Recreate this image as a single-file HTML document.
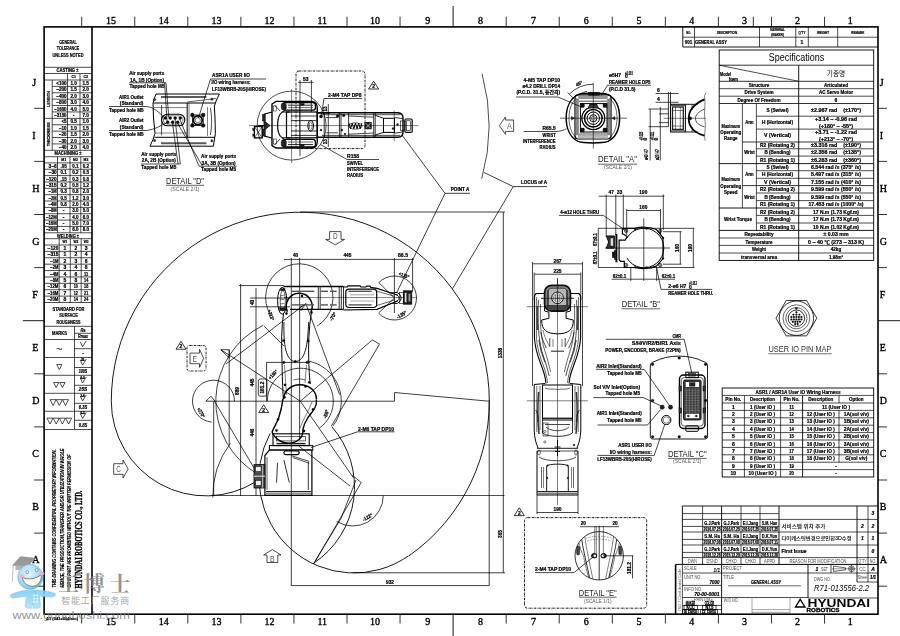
<!DOCTYPE html>
<html lang="en"><head><meta charset="utf-8"><title>General Assy Drawing R71-013556-2.2</title>
<style>html,body{margin:0;padding:0;background:#fff}svg{display:block}text{white-space:pre}</style></head>
<body><svg width="900" height="636" viewBox="0 0 900 636" stroke-linecap="butt">
<rect x="0" y="0" width="900" height="636" fill="#fff"/>
<g style="filter:grayscale(1)">
<rect x="44.1" y="26.9" width="833.9" height="587.3" rx="0" fill="none" stroke="#000" stroke-width="1.6"/>
<line x1="92" y1="26.9" x2="92" y2="614.2" stroke="#000" stroke-width="1.6"/>
<line x1="81.7" y1="16.7" x2="81.7" y2="26.9" stroke="#000" stroke-width="0.8"/>
<line x1="81.7" y1="614.2" x2="81.7" y2="623.5" stroke="#000" stroke-width="0.8"/>
<line x1="134.76" y1="16.7" x2="134.76" y2="26.9" stroke="#000" stroke-width="0.8"/>
<line x1="134.76" y1="614.2" x2="134.76" y2="623.5" stroke="#000" stroke-width="0.8"/>
<line x1="187.82" y1="16.7" x2="187.82" y2="26.9" stroke="#000" stroke-width="0.8"/>
<line x1="187.82" y1="614.2" x2="187.82" y2="623.5" stroke="#000" stroke-width="0.8"/>
<line x1="240.88" y1="16.7" x2="240.88" y2="26.9" stroke="#000" stroke-width="0.8"/>
<line x1="240.88" y1="614.2" x2="240.88" y2="623.5" stroke="#000" stroke-width="0.8"/>
<line x1="293.94" y1="16.7" x2="293.94" y2="26.9" stroke="#000" stroke-width="0.8"/>
<line x1="293.94" y1="614.2" x2="293.94" y2="623.5" stroke="#000" stroke-width="0.8"/>
<line x1="347" y1="16.7" x2="347" y2="26.9" stroke="#000" stroke-width="0.8"/>
<line x1="347" y1="614.2" x2="347" y2="623.5" stroke="#000" stroke-width="0.8"/>
<line x1="400.06" y1="16.7" x2="400.06" y2="26.9" stroke="#000" stroke-width="0.8"/>
<line x1="400.06" y1="614.2" x2="400.06" y2="623.5" stroke="#000" stroke-width="0.8"/>
<line x1="453.12" y1="6" x2="453.12" y2="26.9" stroke="#000" stroke-width="0.9"/>
<line x1="453.12" y1="614.2" x2="453.12" y2="636" stroke="#000" stroke-width="0.9"/>
<line x1="506.18" y1="16.7" x2="506.18" y2="26.9" stroke="#000" stroke-width="0.8"/>
<line x1="506.18" y1="614.2" x2="506.18" y2="623.5" stroke="#000" stroke-width="0.8"/>
<line x1="559.24" y1="16.7" x2="559.24" y2="26.9" stroke="#000" stroke-width="0.8"/>
<line x1="559.24" y1="614.2" x2="559.24" y2="623.5" stroke="#000" stroke-width="0.8"/>
<line x1="612.3" y1="16.7" x2="612.3" y2="26.9" stroke="#000" stroke-width="0.8"/>
<line x1="612.3" y1="614.2" x2="612.3" y2="623.5" stroke="#000" stroke-width="0.8"/>
<line x1="665.36" y1="16.7" x2="665.36" y2="26.9" stroke="#000" stroke-width="0.8"/>
<line x1="665.36" y1="614.2" x2="665.36" y2="623.5" stroke="#000" stroke-width="0.8"/>
<line x1="718.42" y1="16.7" x2="718.42" y2="26.9" stroke="#000" stroke-width="0.8"/>
<line x1="718.42" y1="614.2" x2="718.42" y2="623.5" stroke="#000" stroke-width="0.8"/>
<line x1="771.48" y1="16.7" x2="771.48" y2="26.9" stroke="#000" stroke-width="0.8"/>
<line x1="771.48" y1="614.2" x2="771.48" y2="623.5" stroke="#000" stroke-width="0.8"/>
<line x1="824.54" y1="16.7" x2="824.54" y2="26.9" stroke="#000" stroke-width="0.8"/>
<line x1="824.54" y1="614.2" x2="824.54" y2="623.5" stroke="#000" stroke-width="0.8"/>
<line x1="753.3" y1="16.7" x2="753.3" y2="26.9" stroke="#000" stroke-width="0.8"/>
<text x="111" y="24.2" font-size="10" text-anchor="middle" fill="#000" font-family="&quot;Liberation Serif&quot;, serif" stroke="#000" stroke-width="0.35">15</text>
<text x="111" y="625.2" font-size="10" text-anchor="middle" fill="#000" font-family="&quot;Liberation Serif&quot;, serif" stroke="#000" stroke-width="0.35">15</text>
<text x="163.8" y="24.2" font-size="10" text-anchor="middle" fill="#000" font-family="&quot;Liberation Serif&quot;, serif" stroke="#000" stroke-width="0.35">14</text>
<text x="163.8" y="625.2" font-size="10" text-anchor="middle" fill="#000" font-family="&quot;Liberation Serif&quot;, serif" stroke="#000" stroke-width="0.35">14</text>
<text x="216.6" y="24.2" font-size="10" text-anchor="middle" fill="#000" font-family="&quot;Liberation Serif&quot;, serif" stroke="#000" stroke-width="0.35">13</text>
<text x="216.6" y="625.2" font-size="10" text-anchor="middle" fill="#000" font-family="&quot;Liberation Serif&quot;, serif" stroke="#000" stroke-width="0.35">13</text>
<text x="269.4" y="24.2" font-size="10" text-anchor="middle" fill="#000" font-family="&quot;Liberation Serif&quot;, serif" stroke="#000" stroke-width="0.35">12</text>
<text x="269.4" y="625.2" font-size="10" text-anchor="middle" fill="#000" font-family="&quot;Liberation Serif&quot;, serif" stroke="#000" stroke-width="0.35">12</text>
<text x="322.2" y="24.2" font-size="10" text-anchor="middle" fill="#000" font-family="&quot;Liberation Serif&quot;, serif" stroke="#000" stroke-width="0.35">11</text>
<text x="322.2" y="625.2" font-size="10" text-anchor="middle" fill="#000" font-family="&quot;Liberation Serif&quot;, serif" stroke="#000" stroke-width="0.35">11</text>
<text x="375" y="24.2" font-size="10" text-anchor="middle" fill="#000" font-family="&quot;Liberation Serif&quot;, serif" stroke="#000" stroke-width="0.35">10</text>
<text x="375" y="625.2" font-size="10" text-anchor="middle" fill="#000" font-family="&quot;Liberation Serif&quot;, serif" stroke="#000" stroke-width="0.35">10</text>
<text x="427.8" y="24.2" font-size="10" text-anchor="middle" fill="#000" font-family="&quot;Liberation Serif&quot;, serif" stroke="#000" stroke-width="0.35">9</text>
<text x="427.8" y="625.2" font-size="10" text-anchor="middle" fill="#000" font-family="&quot;Liberation Serif&quot;, serif" stroke="#000" stroke-width="0.35">9</text>
<text x="480.6" y="24.2" font-size="10" text-anchor="middle" fill="#000" font-family="&quot;Liberation Serif&quot;, serif" stroke="#000" stroke-width="0.35">8</text>
<text x="480.6" y="625.2" font-size="10" text-anchor="middle" fill="#000" font-family="&quot;Liberation Serif&quot;, serif" stroke="#000" stroke-width="0.35">8</text>
<text x="533.4" y="24.2" font-size="10" text-anchor="middle" fill="#000" font-family="&quot;Liberation Serif&quot;, serif" stroke="#000" stroke-width="0.35">7</text>
<text x="533.4" y="625.2" font-size="10" text-anchor="middle" fill="#000" font-family="&quot;Liberation Serif&quot;, serif" stroke="#000" stroke-width="0.35">7</text>
<text x="586.2" y="24.2" font-size="10" text-anchor="middle" fill="#000" font-family="&quot;Liberation Serif&quot;, serif" stroke="#000" stroke-width="0.35">6</text>
<text x="586.2" y="625.2" font-size="10" text-anchor="middle" fill="#000" font-family="&quot;Liberation Serif&quot;, serif" stroke="#000" stroke-width="0.35">6</text>
<text x="639" y="24.2" font-size="10" text-anchor="middle" fill="#000" font-family="&quot;Liberation Serif&quot;, serif" stroke="#000" stroke-width="0.35">5</text>
<text x="639" y="625.2" font-size="10" text-anchor="middle" fill="#000" font-family="&quot;Liberation Serif&quot;, serif" stroke="#000" stroke-width="0.35">5</text>
<text x="691.8" y="24.2" font-size="10" text-anchor="middle" fill="#000" font-family="&quot;Liberation Serif&quot;, serif" stroke="#000" stroke-width="0.35">4</text>
<text x="691.8" y="625.2" font-size="10" text-anchor="middle" fill="#000" font-family="&quot;Liberation Serif&quot;, serif" stroke="#000" stroke-width="0.35">4</text>
<text x="744.6" y="24.2" font-size="10" text-anchor="middle" fill="#000" font-family="&quot;Liberation Serif&quot;, serif" stroke="#000" stroke-width="0.35">3</text>
<text x="744.6" y="625.2" font-size="10" text-anchor="middle" fill="#000" font-family="&quot;Liberation Serif&quot;, serif" stroke="#000" stroke-width="0.35">3</text>
<text x="797.4" y="24.2" font-size="10" text-anchor="middle" fill="#000" font-family="&quot;Liberation Serif&quot;, serif" stroke="#000" stroke-width="0.35">2</text>
<text x="797.4" y="625.2" font-size="10" text-anchor="middle" fill="#000" font-family="&quot;Liberation Serif&quot;, serif" stroke="#000" stroke-width="0.35">2</text>
<text x="850.2" y="24.2" font-size="10" text-anchor="middle" fill="#000" font-family="&quot;Liberation Serif&quot;, serif" stroke="#000" stroke-width="0.35">1</text>
<text x="850.2" y="625.2" font-size="10" text-anchor="middle" fill="#000" font-family="&quot;Liberation Serif&quot;, serif" stroke="#000" stroke-width="0.35">1</text>
<line x1="34.2" y1="108.3" x2="44.1" y2="108.3" stroke="#000" stroke-width="0.8"/>
<line x1="878" y1="108.3" x2="887" y2="108.3" stroke="#000" stroke-width="0.8"/>
<line x1="34.2" y1="161.4" x2="44.1" y2="161.4" stroke="#000" stroke-width="0.8"/>
<line x1="878" y1="161.4" x2="887" y2="161.4" stroke="#000" stroke-width="0.8"/>
<line x1="34.2" y1="214.5" x2="44.1" y2="214.5" stroke="#000" stroke-width="0.8"/>
<line x1="878" y1="214.5" x2="887" y2="214.5" stroke="#000" stroke-width="0.8"/>
<line x1="34.2" y1="267.6" x2="44.1" y2="267.6" stroke="#000" stroke-width="0.8"/>
<line x1="878" y1="267.6" x2="887" y2="267.6" stroke="#000" stroke-width="0.8"/>
<line x1="22.8" y1="320.7" x2="44.1" y2="320.7" stroke="#000" stroke-width="0.9"/>
<line x1="878" y1="320.7" x2="900" y2="320.7" stroke="#000" stroke-width="0.9"/>
<line x1="34.2" y1="373.8" x2="44.1" y2="373.8" stroke="#000" stroke-width="0.8"/>
<line x1="878" y1="373.8" x2="887" y2="373.8" stroke="#000" stroke-width="0.8"/>
<line x1="34.2" y1="426.9" x2="44.1" y2="426.9" stroke="#000" stroke-width="0.8"/>
<line x1="878" y1="426.9" x2="887" y2="426.9" stroke="#000" stroke-width="0.8"/>
<line x1="34.2" y1="480" x2="44.1" y2="480" stroke="#000" stroke-width="0.8"/>
<line x1="878" y1="480" x2="887" y2="480" stroke="#000" stroke-width="0.8"/>
<line x1="34.2" y1="533.1" x2="44.1" y2="533.1" stroke="#000" stroke-width="0.8"/>
<line x1="878" y1="533.1" x2="887" y2="533.1" stroke="#000" stroke-width="0.8"/>
<line x1="34.2" y1="586.2" x2="44.1" y2="586.2" stroke="#000" stroke-width="0.8"/>
<line x1="878" y1="586.2" x2="887" y2="586.2" stroke="#000" stroke-width="0.8"/>
<text x="32.2" y="85.6" font-size="10" text-anchor="start" fill="#000" font-family="&quot;Liberation Serif&quot;, serif" stroke="#000" stroke-width="0.35">J</text>
<text x="879.8" y="85.6" font-size="10" text-anchor="start" fill="#000" font-family="&quot;Liberation Serif&quot;, serif" stroke="#000" stroke-width="0.35">J</text>
<text x="32.2" y="138.68" font-size="10" text-anchor="start" fill="#000" font-family="&quot;Liberation Serif&quot;, serif" stroke="#000" stroke-width="0.35">I</text>
<text x="879.8" y="138.68" font-size="10" text-anchor="start" fill="#000" font-family="&quot;Liberation Serif&quot;, serif" stroke="#000" stroke-width="0.35">I</text>
<text x="32.2" y="191.76" font-size="10" text-anchor="start" fill="#000" font-family="&quot;Liberation Serif&quot;, serif" stroke="#000" stroke-width="0.35">H</text>
<text x="879.8" y="191.76" font-size="10" text-anchor="start" fill="#000" font-family="&quot;Liberation Serif&quot;, serif" stroke="#000" stroke-width="0.35">H</text>
<text x="32.2" y="244.84" font-size="10" text-anchor="start" fill="#000" font-family="&quot;Liberation Serif&quot;, serif" stroke="#000" stroke-width="0.35">G</text>
<text x="879.8" y="244.84" font-size="10" text-anchor="start" fill="#000" font-family="&quot;Liberation Serif&quot;, serif" stroke="#000" stroke-width="0.35">G</text>
<text x="32.2" y="297.92" font-size="10" text-anchor="start" fill="#000" font-family="&quot;Liberation Serif&quot;, serif" stroke="#000" stroke-width="0.35">F</text>
<text x="879.8" y="297.92" font-size="10" text-anchor="start" fill="#000" font-family="&quot;Liberation Serif&quot;, serif" stroke="#000" stroke-width="0.35">F</text>
<text x="32.2" y="351" font-size="10" text-anchor="start" fill="#000" font-family="&quot;Liberation Serif&quot;, serif" stroke="#000" stroke-width="0.35">E</text>
<text x="879.8" y="351" font-size="10" text-anchor="start" fill="#000" font-family="&quot;Liberation Serif&quot;, serif" stroke="#000" stroke-width="0.35">E</text>
<text x="32.2" y="404.08" font-size="10" text-anchor="start" fill="#000" font-family="&quot;Liberation Serif&quot;, serif" stroke="#000" stroke-width="0.35">D</text>
<text x="879.8" y="404.08" font-size="10" text-anchor="start" fill="#000" font-family="&quot;Liberation Serif&quot;, serif" stroke="#000" stroke-width="0.35">D</text>
<text x="32.2" y="457.16" font-size="10" text-anchor="start" fill="#000" font-family="&quot;Liberation Serif&quot;, serif" stroke="#000" stroke-width="0.35">C</text>
<text x="879.8" y="457.16" font-size="10" text-anchor="start" fill="#000" font-family="&quot;Liberation Serif&quot;, serif" stroke="#000" stroke-width="0.35">C</text>
<text x="32.2" y="510.24" font-size="10" text-anchor="start" fill="#000" font-family="&quot;Liberation Serif&quot;, serif" stroke="#000" stroke-width="0.35">B</text>
<text x="879.8" y="510.24" font-size="10" text-anchor="start" fill="#000" font-family="&quot;Liberation Serif&quot;, serif" stroke="#000" stroke-width="0.35">B</text>
<text x="32.2" y="563.32" font-size="10" text-anchor="start" fill="#000" font-family="&quot;Liberation Serif&quot;, serif" stroke="#000" stroke-width="0.35">A</text>
<text x="879.8" y="563.32" font-size="10" text-anchor="start" fill="#000" font-family="&quot;Liberation Serif&quot;, serif" stroke="#000" stroke-width="0.35">A</text>
<text x="68" y="43.66" font-size="6" text-anchor="middle" fill="#000" font-family="&quot;Liberation Sans&quot;, sans-serif" textLength="17.5" lengthAdjust="spacingAndGlyphs" font-weight="bold" stroke="#000" stroke-width="0.22">GENERAL</text>
<text x="68" y="50.16" font-size="6" text-anchor="middle" fill="#000" font-family="&quot;Liberation Sans&quot;, sans-serif" textLength="22.5" lengthAdjust="spacingAndGlyphs" font-weight="bold" stroke="#000" stroke-width="0.22">TOLERANCE</text>
<text x="68" y="56.66" font-size="6" text-anchor="middle" fill="#000" font-family="&quot;Liberation Sans&quot;, sans-serif" textLength="31" lengthAdjust="spacingAndGlyphs" font-weight="bold" stroke="#000" stroke-width="0.22">UNLESS NOTED</text>
<line x1="44.1" y1="67.3" x2="92" y2="67.3" stroke="#000" stroke-width="0.7"/>
<text x="67.5" y="72.3" font-size="5" text-anchor="middle" fill="#000" font-family="&quot;Liberation Sans&quot;, sans-serif" textLength="22" lengthAdjust="spacingAndGlyphs" font-weight="bold" stroke="#000" stroke-width="0.22">CASTING ±</text>
<line x1="44.1" y1="73.5" x2="92" y2="73.5" stroke="#000" stroke-width="0.7"/>
<line x1="44.1" y1="80" x2="92" y2="80" stroke="#000" stroke-width="0.7"/>
<text x="73.7" y="78.24" font-size="4" text-anchor="middle" fill="#000" font-family="&quot;Liberation Sans&quot;, sans-serif" textLength="4.5" lengthAdjust="spacingAndGlyphs" font-weight="bold" stroke="#000" stroke-width="0.22">C1</text>
<text x="85.7" y="78.24" font-size="4" text-anchor="middle" fill="#000" font-family="&quot;Liberation Sans&quot;, sans-serif" textLength="4.5" lengthAdjust="spacingAndGlyphs" font-weight="bold" stroke="#000" stroke-width="0.22">C2</text>
<line x1="52.2" y1="86.39" x2="92" y2="86.39" stroke="#000" stroke-width="0.7"/>
<text x="66.6" y="85" font-size="5" text-anchor="end" fill="#000" font-family="&quot;Liberation Sans&quot;, sans-serif" textLength="10.4" lengthAdjust="spacingAndGlyphs" font-weight="bold" stroke="#000" stroke-width="0.22">&lt;100</text>
<text x="73.7" y="85" font-size="5" text-anchor="middle" fill="#000" font-family="&quot;Liberation Sans&quot;, sans-serif" textLength="6.5" lengthAdjust="spacingAndGlyphs" font-weight="bold" stroke="#000" stroke-width="0.22">1.0</text>
<text x="85.7" y="85" font-size="5" text-anchor="middle" fill="#000" font-family="&quot;Liberation Sans&quot;, sans-serif" textLength="6.5" lengthAdjust="spacingAndGlyphs" font-weight="bold" stroke="#000" stroke-width="0.22">1.5</text>
<line x1="52.2" y1="92.78" x2="92" y2="92.78" stroke="#000" stroke-width="0.7"/>
<text x="66.6" y="91.39" font-size="5" text-anchor="end" fill="#000" font-family="&quot;Liberation Sans&quot;, sans-serif" textLength="10.4" lengthAdjust="spacingAndGlyphs" font-weight="bold" stroke="#000" stroke-width="0.22">~200</text>
<text x="73.7" y="91.39" font-size="5" text-anchor="middle" fill="#000" font-family="&quot;Liberation Sans&quot;, sans-serif" textLength="6.5" lengthAdjust="spacingAndGlyphs" font-weight="bold" stroke="#000" stroke-width="0.22">1.5</text>
<text x="85.7" y="91.39" font-size="5" text-anchor="middle" fill="#000" font-family="&quot;Liberation Sans&quot;, sans-serif" textLength="6.5" lengthAdjust="spacingAndGlyphs" font-weight="bold" stroke="#000" stroke-width="0.22">2.0</text>
<line x1="52.2" y1="99.17" x2="92" y2="99.17" stroke="#000" stroke-width="0.7"/>
<text x="66.6" y="97.78" font-size="5" text-anchor="end" fill="#000" font-family="&quot;Liberation Sans&quot;, sans-serif" textLength="10.4" lengthAdjust="spacingAndGlyphs" font-weight="bold" stroke="#000" stroke-width="0.22">~400</text>
<text x="73.7" y="97.78" font-size="5" text-anchor="middle" fill="#000" font-family="&quot;Liberation Sans&quot;, sans-serif" textLength="6.5" lengthAdjust="spacingAndGlyphs" font-weight="bold" stroke="#000" stroke-width="0.22">2.0</text>
<text x="85.7" y="97.78" font-size="5" text-anchor="middle" fill="#000" font-family="&quot;Liberation Sans&quot;, sans-serif" textLength="6.5" lengthAdjust="spacingAndGlyphs" font-weight="bold" stroke="#000" stroke-width="0.22">3.0</text>
<line x1="52.2" y1="105.56" x2="92" y2="105.56" stroke="#000" stroke-width="0.7"/>
<text x="66.6" y="104.17" font-size="5" text-anchor="end" fill="#000" font-family="&quot;Liberation Sans&quot;, sans-serif" textLength="10.4" lengthAdjust="spacingAndGlyphs" font-weight="bold" stroke="#000" stroke-width="0.22">~800</text>
<text x="73.7" y="104.17" font-size="5" text-anchor="middle" fill="#000" font-family="&quot;Liberation Sans&quot;, sans-serif" textLength="6.5" lengthAdjust="spacingAndGlyphs" font-weight="bold" stroke="#000" stroke-width="0.22">3.0</text>
<text x="85.7" y="104.17" font-size="5" text-anchor="middle" fill="#000" font-family="&quot;Liberation Sans&quot;, sans-serif" textLength="6.5" lengthAdjust="spacingAndGlyphs" font-weight="bold" stroke="#000" stroke-width="0.22">4.0</text>
<line x1="52.2" y1="111.95" x2="92" y2="111.95" stroke="#000" stroke-width="0.7"/>
<text x="66.6" y="110.56" font-size="5" text-anchor="end" fill="#000" font-family="&quot;Liberation Sans&quot;, sans-serif" textLength="12.5" lengthAdjust="spacingAndGlyphs" font-weight="bold" stroke="#000" stroke-width="0.22">~1600</text>
<text x="73.7" y="110.56" font-size="5" text-anchor="middle" fill="#000" font-family="&quot;Liberation Sans&quot;, sans-serif" textLength="6.5" lengthAdjust="spacingAndGlyphs" font-weight="bold" stroke="#000" stroke-width="0.22">4.0</text>
<text x="85.7" y="110.56" font-size="5" text-anchor="middle" fill="#000" font-family="&quot;Liberation Sans&quot;, sans-serif" textLength="6.5" lengthAdjust="spacingAndGlyphs" font-weight="bold" stroke="#000" stroke-width="0.22">5.0</text>
<line x1="44.1" y1="118.35" x2="92" y2="118.35" stroke="#000" stroke-width="0.7"/>
<text x="66.6" y="116.95" font-size="5" text-anchor="end" fill="#000" font-family="&quot;Liberation Sans&quot;, sans-serif" textLength="12.5" lengthAdjust="spacingAndGlyphs" font-weight="bold" stroke="#000" stroke-width="0.22">~3150</text>
<text x="73.7" y="116.95" font-size="5" text-anchor="middle" fill="#000" font-family="&quot;Liberation Sans&quot;, sans-serif" font-weight="bold" stroke="#000" stroke-width="0.22">-</text>
<text x="85.7" y="116.95" font-size="5" text-anchor="middle" fill="#000" font-family="&quot;Liberation Sans&quot;, sans-serif" textLength="6.5" lengthAdjust="spacingAndGlyphs" font-weight="bold" stroke="#000" stroke-width="0.22">7.0</text>
<line x1="52.2" y1="124.74" x2="92" y2="124.74" stroke="#000" stroke-width="0.7"/>
<text x="66.6" y="123.34" font-size="5" text-anchor="end" fill="#000" font-family="&quot;Liberation Sans&quot;, sans-serif" textLength="5.2" lengthAdjust="spacingAndGlyphs" font-weight="bold" stroke="#000" stroke-width="0.22">&lt;5</text>
<text x="73.7" y="123.34" font-size="5" text-anchor="middle" fill="#000" font-family="&quot;Liberation Sans&quot;, sans-serif" textLength="6.5" lengthAdjust="spacingAndGlyphs" font-weight="bold" stroke="#000" stroke-width="0.22">0.5</text>
<text x="85.7" y="123.34" font-size="5" text-anchor="middle" fill="#000" font-family="&quot;Liberation Sans&quot;, sans-serif" textLength="6.5" lengthAdjust="spacingAndGlyphs" font-weight="bold" stroke="#000" stroke-width="0.22">1.0</text>
<line x1="52.2" y1="131.13" x2="92" y2="131.13" stroke="#000" stroke-width="0.7"/>
<text x="66.6" y="129.73" font-size="5" text-anchor="end" fill="#000" font-family="&quot;Liberation Sans&quot;, sans-serif" textLength="7.8" lengthAdjust="spacingAndGlyphs" font-weight="bold" stroke="#000" stroke-width="0.22">~10</text>
<text x="73.7" y="129.73" font-size="5" text-anchor="middle" fill="#000" font-family="&quot;Liberation Sans&quot;, sans-serif" textLength="6.5" lengthAdjust="spacingAndGlyphs" font-weight="bold" stroke="#000" stroke-width="0.22">1.0</text>
<text x="85.7" y="129.73" font-size="5" text-anchor="middle" fill="#000" font-family="&quot;Liberation Sans&quot;, sans-serif" textLength="6.5" lengthAdjust="spacingAndGlyphs" font-weight="bold" stroke="#000" stroke-width="0.22">1.5</text>
<line x1="52.2" y1="137.52" x2="92" y2="137.52" stroke="#000" stroke-width="0.7"/>
<text x="66.6" y="136.12" font-size="5" text-anchor="end" fill="#000" font-family="&quot;Liberation Sans&quot;, sans-serif" textLength="7.8" lengthAdjust="spacingAndGlyphs" font-weight="bold" stroke="#000" stroke-width="0.22">~20</text>
<text x="73.7" y="136.12" font-size="5" text-anchor="middle" fill="#000" font-family="&quot;Liberation Sans&quot;, sans-serif" textLength="6.5" lengthAdjust="spacingAndGlyphs" font-weight="bold" stroke="#000" stroke-width="0.22">1.5</text>
<text x="85.7" y="136.12" font-size="5" text-anchor="middle" fill="#000" font-family="&quot;Liberation Sans&quot;, sans-serif" textLength="6.5" lengthAdjust="spacingAndGlyphs" font-weight="bold" stroke="#000" stroke-width="0.22">2.0</text>
<line x1="52.2" y1="143.91" x2="92" y2="143.91" stroke="#000" stroke-width="0.7"/>
<text x="66.6" y="142.51" font-size="5" text-anchor="end" fill="#000" font-family="&quot;Liberation Sans&quot;, sans-serif" textLength="7.8" lengthAdjust="spacingAndGlyphs" font-weight="bold" stroke="#000" stroke-width="0.22">~30</text>
<text x="73.7" y="142.51" font-size="5" text-anchor="middle" fill="#000" font-family="&quot;Liberation Sans&quot;, sans-serif" textLength="6.5" lengthAdjust="spacingAndGlyphs" font-weight="bold" stroke="#000" stroke-width="0.22">2.0</text>
<text x="85.7" y="142.51" font-size="5" text-anchor="middle" fill="#000" font-family="&quot;Liberation Sans&quot;, sans-serif" textLength="6.5" lengthAdjust="spacingAndGlyphs" font-weight="bold" stroke="#000" stroke-width="0.22">3.0</text>
<line x1="44.1" y1="150.3" x2="92" y2="150.3" stroke="#000" stroke-width="0.7"/>
<text x="66.6" y="148.9" font-size="5" text-anchor="end" fill="#000" font-family="&quot;Liberation Sans&quot;, sans-serif" textLength="7.8" lengthAdjust="spacingAndGlyphs" font-weight="bold" stroke="#000" stroke-width="0.22">~40</text>
<text x="73.7" y="148.9" font-size="5" text-anchor="middle" fill="#000" font-family="&quot;Liberation Sans&quot;, sans-serif" textLength="6.5" lengthAdjust="spacingAndGlyphs" font-weight="bold" stroke="#000" stroke-width="0.22">2.0</text>
<text x="85.7" y="148.9" font-size="5" text-anchor="middle" fill="#000" font-family="&quot;Liberation Sans&quot;, sans-serif" textLength="6.5" lengthAdjust="spacingAndGlyphs" font-weight="bold" stroke="#000" stroke-width="0.22">4.0</text>
<line x1="52.2" y1="80" x2="52.2" y2="150.3" stroke="#000" stroke-width="0.7"/>
<line x1="67.5" y1="73.5" x2="67.5" y2="150.3" stroke="#000" stroke-width="0.7"/>
<line x1="80" y1="73.5" x2="80" y2="150.3" stroke="#000" stroke-width="0.7"/>
<text x="48.2" y="100.44" font-size="4" text-anchor="middle" fill="#000" font-family="&quot;Liberation Sans&quot;, sans-serif" textLength="16" lengthAdjust="spacingAndGlyphs" transform="rotate(-90 48.2 99)" font-weight="bold" stroke="#000" stroke-width="0.22">LENGTH</text>
<text x="48.2" y="135.74" font-size="4" text-anchor="middle" fill="#000" font-family="&quot;Liberation Sans&quot;, sans-serif" textLength="24" lengthAdjust="spacingAndGlyphs" transform="rotate(-90 48.2 134.3)" font-weight="bold" stroke="#000" stroke-width="0.22">THICKNESS</text>
<text x="68" y="155.4" font-size="5" text-anchor="middle" fill="#000" font-family="&quot;Liberation Sans&quot;, sans-serif" textLength="27" lengthAdjust="spacingAndGlyphs" font-weight="bold" stroke="#000" stroke-width="0.22">MACHINING ±</text>
<line x1="44.1" y1="156.7" x2="92" y2="156.7" stroke="#000" stroke-width="0.7"/>
<line x1="44.1" y1="162.9" x2="92" y2="162.9" stroke="#000" stroke-width="0.7"/>
<text x="63.7" y="161.34" font-size="4" text-anchor="middle" fill="#000" font-family="&quot;Liberation Sans&quot;, sans-serif" textLength="4.8" lengthAdjust="spacingAndGlyphs" font-weight="bold" stroke="#000" stroke-width="0.22">M1</text>
<text x="75.4" y="161.34" font-size="4" text-anchor="middle" fill="#000" font-family="&quot;Liberation Sans&quot;, sans-serif" textLength="4.8" lengthAdjust="spacingAndGlyphs" font-weight="bold" stroke="#000" stroke-width="0.22">M2</text>
<text x="86" y="161.34" font-size="4" text-anchor="middle" fill="#000" font-family="&quot;Liberation Sans&quot;, sans-serif" textLength="4.8" lengthAdjust="spacingAndGlyphs" font-weight="bold" stroke="#000" stroke-width="0.22">M3</text>
<line x1="44.1" y1="169.25" x2="92" y2="169.25" stroke="#000" stroke-width="0.7"/>
<text x="56.7" y="167.88" font-size="5" text-anchor="end" fill="#000" font-family="&quot;Liberation Sans&quot;, sans-serif" textLength="8.1" lengthAdjust="spacingAndGlyphs" font-weight="bold" stroke="#000" stroke-width="0.22">3~6</text>
<text x="63.7" y="167.88" font-size="5" text-anchor="middle" fill="#000" font-family="&quot;Liberation Sans&quot;, sans-serif" textLength="6.3" lengthAdjust="spacingAndGlyphs" font-weight="bold" stroke="#000" stroke-width="0.22">.05</text>
<text x="75.4" y="167.88" font-size="5" text-anchor="middle" fill="#000" font-family="&quot;Liberation Sans&quot;, sans-serif" textLength="6.3" lengthAdjust="spacingAndGlyphs" font-weight="bold" stroke="#000" stroke-width="0.22">0.1</text>
<text x="86" y="167.88" font-size="5" text-anchor="middle" fill="#000" font-family="&quot;Liberation Sans&quot;, sans-serif" textLength="6.3" lengthAdjust="spacingAndGlyphs" font-weight="bold" stroke="#000" stroke-width="0.22">0.2</text>
<line x1="44.1" y1="175.61" x2="92" y2="175.61" stroke="#000" stroke-width="0.7"/>
<text x="56.7" y="174.23" font-size="5" text-anchor="end" fill="#000" font-family="&quot;Liberation Sans&quot;, sans-serif" textLength="8.1" lengthAdjust="spacingAndGlyphs" font-weight="bold" stroke="#000" stroke-width="0.22">~30</text>
<text x="63.7" y="174.23" font-size="5" text-anchor="middle" fill="#000" font-family="&quot;Liberation Sans&quot;, sans-serif" textLength="6.3" lengthAdjust="spacingAndGlyphs" font-weight="bold" stroke="#000" stroke-width="0.22">0.1</text>
<text x="75.4" y="174.23" font-size="5" text-anchor="middle" fill="#000" font-family="&quot;Liberation Sans&quot;, sans-serif" textLength="6.3" lengthAdjust="spacingAndGlyphs" font-weight="bold" stroke="#000" stroke-width="0.22">0.2</text>
<text x="86" y="174.23" font-size="5" text-anchor="middle" fill="#000" font-family="&quot;Liberation Sans&quot;, sans-serif" textLength="6.3" lengthAdjust="spacingAndGlyphs" font-weight="bold" stroke="#000" stroke-width="0.22">0.5</text>
<line x1="44.1" y1="181.96" x2="92" y2="181.96" stroke="#000" stroke-width="0.7"/>
<text x="56.7" y="180.59" font-size="5" text-anchor="end" fill="#000" font-family="&quot;Liberation Sans&quot;, sans-serif" textLength="10.8" lengthAdjust="spacingAndGlyphs" font-weight="bold" stroke="#000" stroke-width="0.22">~120</text>
<text x="63.7" y="180.59" font-size="5" text-anchor="middle" fill="#000" font-family="&quot;Liberation Sans&quot;, sans-serif" textLength="6.3" lengthAdjust="spacingAndGlyphs" font-weight="bold" stroke="#000" stroke-width="0.22">.15</text>
<text x="75.4" y="180.59" font-size="5" text-anchor="middle" fill="#000" font-family="&quot;Liberation Sans&quot;, sans-serif" textLength="6.3" lengthAdjust="spacingAndGlyphs" font-weight="bold" stroke="#000" stroke-width="0.22">0.3</text>
<text x="86" y="180.59" font-size="5" text-anchor="middle" fill="#000" font-family="&quot;Liberation Sans&quot;, sans-serif" textLength="6.3" lengthAdjust="spacingAndGlyphs" font-weight="bold" stroke="#000" stroke-width="0.22">0.8</text>
<line x1="44.1" y1="188.32" x2="92" y2="188.32" stroke="#000" stroke-width="0.7"/>
<text x="56.7" y="186.94" font-size="5" text-anchor="end" fill="#000" font-family="&quot;Liberation Sans&quot;, sans-serif" textLength="10.8" lengthAdjust="spacingAndGlyphs" font-weight="bold" stroke="#000" stroke-width="0.22">~315</text>
<text x="63.7" y="186.94" font-size="5" text-anchor="middle" fill="#000" font-family="&quot;Liberation Sans&quot;, sans-serif" textLength="6.3" lengthAdjust="spacingAndGlyphs" font-weight="bold" stroke="#000" stroke-width="0.22">0.2</text>
<text x="75.4" y="186.94" font-size="5" text-anchor="middle" fill="#000" font-family="&quot;Liberation Sans&quot;, sans-serif" textLength="6.3" lengthAdjust="spacingAndGlyphs" font-weight="bold" stroke="#000" stroke-width="0.22">0.5</text>
<text x="86" y="186.94" font-size="5" text-anchor="middle" fill="#000" font-family="&quot;Liberation Sans&quot;, sans-serif" textLength="6.3" lengthAdjust="spacingAndGlyphs" font-weight="bold" stroke="#000" stroke-width="0.22">1.2</text>
<line x1="44.1" y1="194.67" x2="92" y2="194.67" stroke="#000" stroke-width="0.7"/>
<text x="56.7" y="193.3" font-size="5" text-anchor="end" fill="#000" font-family="&quot;Liberation Sans&quot;, sans-serif" textLength="8.1" lengthAdjust="spacingAndGlyphs" font-weight="bold" stroke="#000" stroke-width="0.22">~1M</text>
<text x="63.7" y="193.3" font-size="5" text-anchor="middle" fill="#000" font-family="&quot;Liberation Sans&quot;, sans-serif" textLength="6.3" lengthAdjust="spacingAndGlyphs" font-weight="bold" stroke="#000" stroke-width="0.22">0.3</text>
<text x="75.4" y="193.3" font-size="5" text-anchor="middle" fill="#000" font-family="&quot;Liberation Sans&quot;, sans-serif" textLength="6.3" lengthAdjust="spacingAndGlyphs" font-weight="bold" stroke="#000" stroke-width="0.22">0.8</text>
<text x="86" y="193.3" font-size="5" text-anchor="middle" fill="#000" font-family="&quot;Liberation Sans&quot;, sans-serif" textLength="6.3" lengthAdjust="spacingAndGlyphs" font-weight="bold" stroke="#000" stroke-width="0.22">2.0</text>
<line x1="44.1" y1="201.03" x2="92" y2="201.03" stroke="#000" stroke-width="0.7"/>
<text x="56.7" y="199.65" font-size="5" text-anchor="end" fill="#000" font-family="&quot;Liberation Sans&quot;, sans-serif" textLength="8.1" lengthAdjust="spacingAndGlyphs" font-weight="bold" stroke="#000" stroke-width="0.22">~2M</text>
<text x="63.7" y="199.65" font-size="5" text-anchor="middle" fill="#000" font-family="&quot;Liberation Sans&quot;, sans-serif" textLength="6.3" lengthAdjust="spacingAndGlyphs" font-weight="bold" stroke="#000" stroke-width="0.22">0.5</text>
<text x="75.4" y="199.65" font-size="5" text-anchor="middle" fill="#000" font-family="&quot;Liberation Sans&quot;, sans-serif" textLength="6.3" lengthAdjust="spacingAndGlyphs" font-weight="bold" stroke="#000" stroke-width="0.22">1.2</text>
<text x="86" y="199.65" font-size="5" text-anchor="middle" fill="#000" font-family="&quot;Liberation Sans&quot;, sans-serif" textLength="6.3" lengthAdjust="spacingAndGlyphs" font-weight="bold" stroke="#000" stroke-width="0.22">3.0</text>
<line x1="44.1" y1="207.38" x2="92" y2="207.38" stroke="#000" stroke-width="0.7"/>
<text x="56.7" y="206" font-size="5" text-anchor="end" fill="#000" font-family="&quot;Liberation Sans&quot;, sans-serif" textLength="8.1" lengthAdjust="spacingAndGlyphs" font-weight="bold" stroke="#000" stroke-width="0.22">~4M</text>
<text x="63.7" y="206" font-size="5" text-anchor="middle" fill="#000" font-family="&quot;Liberation Sans&quot;, sans-serif" textLength="6.3" lengthAdjust="spacingAndGlyphs" font-weight="bold" stroke="#000" stroke-width="0.22">0.8</text>
<text x="75.4" y="206" font-size="5" text-anchor="middle" fill="#000" font-family="&quot;Liberation Sans&quot;, sans-serif" textLength="6.3" lengthAdjust="spacingAndGlyphs" font-weight="bold" stroke="#000" stroke-width="0.22">2.0</text>
<text x="86" y="206" font-size="5" text-anchor="middle" fill="#000" font-family="&quot;Liberation Sans&quot;, sans-serif" textLength="6.3" lengthAdjust="spacingAndGlyphs" font-weight="bold" stroke="#000" stroke-width="0.22">4.0</text>
<line x1="44.1" y1="213.74" x2="92" y2="213.74" stroke="#000" stroke-width="0.7"/>
<text x="56.7" y="212.36" font-size="5" text-anchor="end" fill="#000" font-family="&quot;Liberation Sans&quot;, sans-serif" textLength="8.1" lengthAdjust="spacingAndGlyphs" font-weight="bold" stroke="#000" stroke-width="0.22">~8M</text>
<text x="63.7" y="212.36" font-size="5" text-anchor="middle" fill="#000" font-family="&quot;Liberation Sans&quot;, sans-serif" font-weight="bold" stroke="#000" stroke-width="0.22">-</text>
<text x="75.4" y="212.36" font-size="5" text-anchor="middle" fill="#000" font-family="&quot;Liberation Sans&quot;, sans-serif" textLength="6.3" lengthAdjust="spacingAndGlyphs" font-weight="bold" stroke="#000" stroke-width="0.22">3.0</text>
<text x="86" y="212.36" font-size="5" text-anchor="middle" fill="#000" font-family="&quot;Liberation Sans&quot;, sans-serif" textLength="6.3" lengthAdjust="spacingAndGlyphs" font-weight="bold" stroke="#000" stroke-width="0.22">5.0</text>
<line x1="44.1" y1="220.09" x2="92" y2="220.09" stroke="#000" stroke-width="0.7"/>
<text x="56.7" y="218.71" font-size="5" text-anchor="end" fill="#000" font-family="&quot;Liberation Sans&quot;, sans-serif" textLength="10.8" lengthAdjust="spacingAndGlyphs" font-weight="bold" stroke="#000" stroke-width="0.22">~12M</text>
<text x="63.7" y="218.71" font-size="5" text-anchor="middle" fill="#000" font-family="&quot;Liberation Sans&quot;, sans-serif" font-weight="bold" stroke="#000" stroke-width="0.22">-</text>
<text x="75.4" y="218.71" font-size="5" text-anchor="middle" fill="#000" font-family="&quot;Liberation Sans&quot;, sans-serif" textLength="6.3" lengthAdjust="spacingAndGlyphs" font-weight="bold" stroke="#000" stroke-width="0.22">4.0</text>
<text x="86" y="218.71" font-size="5" text-anchor="middle" fill="#000" font-family="&quot;Liberation Sans&quot;, sans-serif" textLength="6.3" lengthAdjust="spacingAndGlyphs" font-weight="bold" stroke="#000" stroke-width="0.22">6.0</text>
<line x1="44.1" y1="226.45" x2="92" y2="226.45" stroke="#000" stroke-width="0.7"/>
<text x="56.7" y="225.07" font-size="5" text-anchor="end" fill="#000" font-family="&quot;Liberation Sans&quot;, sans-serif" textLength="10.8" lengthAdjust="spacingAndGlyphs" font-weight="bold" stroke="#000" stroke-width="0.22">~16M</text>
<text x="63.7" y="225.07" font-size="5" text-anchor="middle" fill="#000" font-family="&quot;Liberation Sans&quot;, sans-serif" font-weight="bold" stroke="#000" stroke-width="0.22">-</text>
<text x="75.4" y="225.07" font-size="5" text-anchor="middle" fill="#000" font-family="&quot;Liberation Sans&quot;, sans-serif" textLength="6.3" lengthAdjust="spacingAndGlyphs" font-weight="bold" stroke="#000" stroke-width="0.22">5.0</text>
<text x="86" y="225.07" font-size="5" text-anchor="middle" fill="#000" font-family="&quot;Liberation Sans&quot;, sans-serif" textLength="6.3" lengthAdjust="spacingAndGlyphs" font-weight="bold" stroke="#000" stroke-width="0.22">7.0</text>
<line x1="44.1" y1="232.8" x2="92" y2="232.8" stroke="#000" stroke-width="0.7"/>
<text x="56.7" y="231.42" font-size="5" text-anchor="end" fill="#000" font-family="&quot;Liberation Sans&quot;, sans-serif" textLength="10.8" lengthAdjust="spacingAndGlyphs" font-weight="bold" stroke="#000" stroke-width="0.22">~20M</text>
<text x="63.7" y="231.42" font-size="5" text-anchor="middle" fill="#000" font-family="&quot;Liberation Sans&quot;, sans-serif" font-weight="bold" stroke="#000" stroke-width="0.22">-</text>
<text x="75.4" y="231.42" font-size="5" text-anchor="middle" fill="#000" font-family="&quot;Liberation Sans&quot;, sans-serif" textLength="6.3" lengthAdjust="spacingAndGlyphs" font-weight="bold" stroke="#000" stroke-width="0.22">6.0</text>
<text x="86" y="231.42" font-size="5" text-anchor="middle" fill="#000" font-family="&quot;Liberation Sans&quot;, sans-serif" textLength="6.3" lengthAdjust="spacingAndGlyphs" font-weight="bold" stroke="#000" stroke-width="0.22">8.0</text>
<line x1="57.5" y1="156.7" x2="57.5" y2="232.8" stroke="#000" stroke-width="0.7"/>
<line x1="70" y1="156.7" x2="70" y2="232.8" stroke="#000" stroke-width="0.7"/>
<line x1="80.8" y1="156.7" x2="80.8" y2="232.8" stroke="#000" stroke-width="0.7"/>
<text x="68" y="237.6" font-size="5" text-anchor="middle" fill="#000" font-family="&quot;Liberation Sans&quot;, sans-serif" textLength="22" lengthAdjust="spacingAndGlyphs" font-weight="bold" stroke="#000" stroke-width="0.22">WELDING ±</text>
<line x1="44.1" y1="238.7" x2="92" y2="238.7" stroke="#000" stroke-width="0.7"/>
<line x1="44.1" y1="245" x2="92" y2="245" stroke="#000" stroke-width="0.7"/>
<text x="64.8" y="243.44" font-size="4" text-anchor="middle" fill="#000" font-family="&quot;Liberation Sans&quot;, sans-serif" textLength="4.8" lengthAdjust="spacingAndGlyphs" font-weight="bold" stroke="#000" stroke-width="0.22">W1</text>
<text x="75.8" y="243.44" font-size="4" text-anchor="middle" fill="#000" font-family="&quot;Liberation Sans&quot;, sans-serif" textLength="4.8" lengthAdjust="spacingAndGlyphs" font-weight="bold" stroke="#000" stroke-width="0.22">W2</text>
<text x="86.2" y="243.44" font-size="4" text-anchor="middle" fill="#000" font-family="&quot;Liberation Sans&quot;, sans-serif" textLength="4.8" lengthAdjust="spacingAndGlyphs" font-weight="bold" stroke="#000" stroke-width="0.22">W3</text>
<line x1="44.1" y1="251.39" x2="92" y2="251.39" stroke="#000" stroke-width="0.7"/>
<text x="58.4" y="249.99" font-size="5" text-anchor="end" fill="#000" font-family="&quot;Liberation Sans&quot;, sans-serif" textLength="10.8" lengthAdjust="spacingAndGlyphs" font-weight="bold" stroke="#000" stroke-width="0.22">~120</text>
<text x="64.8" y="249.99" font-size="5" text-anchor="middle" fill="#000" font-family="&quot;Liberation Sans&quot;, sans-serif" font-weight="bold" stroke="#000" stroke-width="0.22">1</text>
<text x="75.8" y="249.99" font-size="5" text-anchor="middle" fill="#000" font-family="&quot;Liberation Sans&quot;, sans-serif" font-weight="bold" stroke="#000" stroke-width="0.22">2</text>
<text x="86.2" y="249.99" font-size="5" text-anchor="middle" fill="#000" font-family="&quot;Liberation Sans&quot;, sans-serif" font-weight="bold" stroke="#000" stroke-width="0.22">3</text>
<line x1="44.1" y1="257.78" x2="92" y2="257.78" stroke="#000" stroke-width="0.7"/>
<text x="58.4" y="256.38" font-size="5" text-anchor="end" fill="#000" font-family="&quot;Liberation Sans&quot;, sans-serif" textLength="10.8" lengthAdjust="spacingAndGlyphs" font-weight="bold" stroke="#000" stroke-width="0.22">~315</text>
<text x="64.8" y="256.38" font-size="5" text-anchor="middle" fill="#000" font-family="&quot;Liberation Sans&quot;, sans-serif" font-weight="bold" stroke="#000" stroke-width="0.22">1</text>
<text x="75.8" y="256.38" font-size="5" text-anchor="middle" fill="#000" font-family="&quot;Liberation Sans&quot;, sans-serif" font-weight="bold" stroke="#000" stroke-width="0.22">2</text>
<text x="86.2" y="256.38" font-size="5" text-anchor="middle" fill="#000" font-family="&quot;Liberation Sans&quot;, sans-serif" font-weight="bold" stroke="#000" stroke-width="0.22">4</text>
<line x1="44.1" y1="264.17" x2="92" y2="264.17" stroke="#000" stroke-width="0.7"/>
<text x="58.4" y="262.77" font-size="5" text-anchor="end" fill="#000" font-family="&quot;Liberation Sans&quot;, sans-serif" textLength="8.1" lengthAdjust="spacingAndGlyphs" font-weight="bold" stroke="#000" stroke-width="0.22">~1M</text>
<text x="64.8" y="262.77" font-size="5" text-anchor="middle" fill="#000" font-family="&quot;Liberation Sans&quot;, sans-serif" font-weight="bold" stroke="#000" stroke-width="0.22">2</text>
<text x="75.8" y="262.77" font-size="5" text-anchor="middle" fill="#000" font-family="&quot;Liberation Sans&quot;, sans-serif" font-weight="bold" stroke="#000" stroke-width="0.22">3</text>
<text x="86.2" y="262.77" font-size="5" text-anchor="middle" fill="#000" font-family="&quot;Liberation Sans&quot;, sans-serif" font-weight="bold" stroke="#000" stroke-width="0.22">6</text>
<line x1="44.1" y1="270.56" x2="92" y2="270.56" stroke="#000" stroke-width="0.7"/>
<text x="58.4" y="269.16" font-size="5" text-anchor="end" fill="#000" font-family="&quot;Liberation Sans&quot;, sans-serif" textLength="8.1" lengthAdjust="spacingAndGlyphs" font-weight="bold" stroke="#000" stroke-width="0.22">~2M</text>
<text x="64.8" y="269.16" font-size="5" text-anchor="middle" fill="#000" font-family="&quot;Liberation Sans&quot;, sans-serif" font-weight="bold" stroke="#000" stroke-width="0.22">3</text>
<text x="75.8" y="269.16" font-size="5" text-anchor="middle" fill="#000" font-family="&quot;Liberation Sans&quot;, sans-serif" font-weight="bold" stroke="#000" stroke-width="0.22">4</text>
<text x="86.2" y="269.16" font-size="5" text-anchor="middle" fill="#000" font-family="&quot;Liberation Sans&quot;, sans-serif" font-weight="bold" stroke="#000" stroke-width="0.22">8</text>
<line x1="44.1" y1="276.94" x2="92" y2="276.94" stroke="#000" stroke-width="0.7"/>
<text x="58.4" y="275.55" font-size="5" text-anchor="end" fill="#000" font-family="&quot;Liberation Sans&quot;, sans-serif" textLength="8.1" lengthAdjust="spacingAndGlyphs" font-weight="bold" stroke="#000" stroke-width="0.22">~4M</text>
<text x="64.8" y="275.55" font-size="5" text-anchor="middle" fill="#000" font-family="&quot;Liberation Sans&quot;, sans-serif" font-weight="bold" stroke="#000" stroke-width="0.22">4</text>
<text x="75.8" y="275.55" font-size="5" text-anchor="middle" fill="#000" font-family="&quot;Liberation Sans&quot;, sans-serif" font-weight="bold" stroke="#000" stroke-width="0.22">6</text>
<text x="86.2" y="275.55" font-size="5" text-anchor="middle" fill="#000" font-family="&quot;Liberation Sans&quot;, sans-serif" textLength="4.2" lengthAdjust="spacingAndGlyphs" font-weight="bold" stroke="#000" stroke-width="0.22">11</text>
<line x1="44.1" y1="283.33" x2="92" y2="283.33" stroke="#000" stroke-width="0.7"/>
<text x="58.4" y="281.94" font-size="5" text-anchor="end" fill="#000" font-family="&quot;Liberation Sans&quot;, sans-serif" textLength="8.1" lengthAdjust="spacingAndGlyphs" font-weight="bold" stroke="#000" stroke-width="0.22">~8M</text>
<text x="64.8" y="281.94" font-size="5" text-anchor="middle" fill="#000" font-family="&quot;Liberation Sans&quot;, sans-serif" font-weight="bold" stroke="#000" stroke-width="0.22">5</text>
<text x="75.8" y="281.94" font-size="5" text-anchor="middle" fill="#000" font-family="&quot;Liberation Sans&quot;, sans-serif" font-weight="bold" stroke="#000" stroke-width="0.22">8</text>
<text x="86.2" y="281.94" font-size="5" text-anchor="middle" fill="#000" font-family="&quot;Liberation Sans&quot;, sans-serif" textLength="4.2" lengthAdjust="spacingAndGlyphs" font-weight="bold" stroke="#000" stroke-width="0.22">14</text>
<line x1="44.1" y1="289.72" x2="92" y2="289.72" stroke="#000" stroke-width="0.7"/>
<text x="58.4" y="288.33" font-size="5" text-anchor="end" fill="#000" font-family="&quot;Liberation Sans&quot;, sans-serif" textLength="10.8" lengthAdjust="spacingAndGlyphs" font-weight="bold" stroke="#000" stroke-width="0.22">~12M</text>
<text x="64.8" y="288.33" font-size="5" text-anchor="middle" fill="#000" font-family="&quot;Liberation Sans&quot;, sans-serif" font-weight="bold" stroke="#000" stroke-width="0.22">6</text>
<text x="75.8" y="288.33" font-size="5" text-anchor="middle" fill="#000" font-family="&quot;Liberation Sans&quot;, sans-serif" textLength="4.2" lengthAdjust="spacingAndGlyphs" font-weight="bold" stroke="#000" stroke-width="0.22">10</text>
<text x="86.2" y="288.33" font-size="5" text-anchor="middle" fill="#000" font-family="&quot;Liberation Sans&quot;, sans-serif" textLength="4.2" lengthAdjust="spacingAndGlyphs" font-weight="bold" stroke="#000" stroke-width="0.22">18</text>
<line x1="44.1" y1="296.11" x2="92" y2="296.11" stroke="#000" stroke-width="0.7"/>
<text x="58.4" y="294.72" font-size="5" text-anchor="end" fill="#000" font-family="&quot;Liberation Sans&quot;, sans-serif" textLength="10.8" lengthAdjust="spacingAndGlyphs" font-weight="bold" stroke="#000" stroke-width="0.22">~16M</text>
<text x="64.8" y="294.72" font-size="5" text-anchor="middle" fill="#000" font-family="&quot;Liberation Sans&quot;, sans-serif" font-weight="bold" stroke="#000" stroke-width="0.22">7</text>
<text x="75.8" y="294.72" font-size="5" text-anchor="middle" fill="#000" font-family="&quot;Liberation Sans&quot;, sans-serif" textLength="4.2" lengthAdjust="spacingAndGlyphs" font-weight="bold" stroke="#000" stroke-width="0.22">12</text>
<text x="86.2" y="294.72" font-size="5" text-anchor="middle" fill="#000" font-family="&quot;Liberation Sans&quot;, sans-serif" textLength="4.2" lengthAdjust="spacingAndGlyphs" font-weight="bold" stroke="#000" stroke-width="0.22">21</text>
<line x1="44.1" y1="302.5" x2="92" y2="302.5" stroke="#000" stroke-width="0.7"/>
<text x="58.4" y="301.11" font-size="5" text-anchor="end" fill="#000" font-family="&quot;Liberation Sans&quot;, sans-serif" textLength="10.8" lengthAdjust="spacingAndGlyphs" font-weight="bold" stroke="#000" stroke-width="0.22">~20M</text>
<text x="64.8" y="301.11" font-size="5" text-anchor="middle" fill="#000" font-family="&quot;Liberation Sans&quot;, sans-serif" font-weight="bold" stroke="#000" stroke-width="0.22">8</text>
<text x="75.8" y="301.11" font-size="5" text-anchor="middle" fill="#000" font-family="&quot;Liberation Sans&quot;, sans-serif" textLength="4.2" lengthAdjust="spacingAndGlyphs" font-weight="bold" stroke="#000" stroke-width="0.22">14</text>
<text x="86.2" y="301.11" font-size="5" text-anchor="middle" fill="#000" font-family="&quot;Liberation Sans&quot;, sans-serif" textLength="4.2" lengthAdjust="spacingAndGlyphs" font-weight="bold" stroke="#000" stroke-width="0.22">24</text>
<line x1="59.2" y1="238.7" x2="59.2" y2="302.5" stroke="#000" stroke-width="0.7"/>
<line x1="70.3" y1="238.7" x2="70.3" y2="302.5" stroke="#000" stroke-width="0.7"/>
<line x1="81.2" y1="238.7" x2="81.2" y2="302.5" stroke="#000" stroke-width="0.7"/>
<text x="68.5" y="310.8" font-size="5" text-anchor="middle" fill="#000" font-family="&quot;Liberation Sans&quot;, sans-serif" textLength="32" lengthAdjust="spacingAndGlyphs" font-weight="bold" stroke="#000" stroke-width="0.22">STANDARD FOR</text>
<text x="68.5" y="317.3" font-size="5" text-anchor="middle" fill="#000" font-family="&quot;Liberation Sans&quot;, sans-serif" textLength="18.5" lengthAdjust="spacingAndGlyphs" font-weight="bold" stroke="#000" stroke-width="0.22">SURFACE</text>
<text x="68.5" y="323.8" font-size="5" text-anchor="middle" fill="#000" font-family="&quot;Liberation Sans&quot;, sans-serif" textLength="24" lengthAdjust="spacingAndGlyphs" font-weight="bold" stroke="#000" stroke-width="0.22">ROUGHNESS</text>
<line x1="44.1" y1="326.3" x2="92" y2="326.3" stroke="#000" stroke-width="0.7"/>
<line x1="44.1" y1="339.5" x2="92" y2="339.5" stroke="#000" stroke-width="0.7"/>
<line x1="74.5" y1="326.3" x2="74.5" y2="429.5" stroke="#000" stroke-width="0.7"/>
<line x1="74.5" y1="333.3" x2="92" y2="333.3" stroke="#000" stroke-width="0.7"/>
<text x="59.5" y="334.8" font-size="5" text-anchor="middle" fill="#000" font-family="&quot;Liberation Sans&quot;, sans-serif" textLength="15" lengthAdjust="spacingAndGlyphs" font-weight="bold" stroke="#000" stroke-width="0.22">MARKS</text>
<text x="83" y="331.8" font-size="5" text-anchor="middle" fill="#000" font-family="&quot;Liberation Sans&quot;, sans-serif" textLength="5" lengthAdjust="spacingAndGlyphs" font-weight="bold" font-style="italic" stroke="#000" stroke-width="0.22">Ra</text>
<text x="83" y="338.4" font-size="5" text-anchor="middle" fill="#000" font-family="&quot;Liberation Sans&quot;, sans-serif" textLength="10" lengthAdjust="spacingAndGlyphs" font-weight="bold" font-style="italic" stroke="#000" stroke-width="0.22">Rmax</text>
<line x1="44.1" y1="357.5" x2="92" y2="357.5" stroke="#000" stroke-width="0.7"/>
<line x1="74.5" y1="348.7" x2="92" y2="348.7" stroke="#000" stroke-width="0.7"/>
<text x="83" y="354.9" font-size="5" text-anchor="middle" fill="#000" font-family="&quot;Liberation Sans&quot;, sans-serif" font-weight="bold" font-style="italic" stroke="#000" stroke-width="0.22">-</text>
<path d="M80.3 341.9 L82.6 346.7 L86.3 340.7" fill="none" stroke="#000" stroke-width="0.7"/>
<line x1="44.1" y1="375.3" x2="92" y2="375.3" stroke="#000" stroke-width="0.7"/>
<line x1="74.5" y1="367.5" x2="92" y2="367.5" stroke="#000" stroke-width="0.7"/>
<text x="83" y="373.2" font-size="5" text-anchor="middle" fill="#000" font-family="&quot;Liberation Sans&quot;, sans-serif" textLength="8.5" lengthAdjust="spacingAndGlyphs" font-weight="bold" font-style="italic" stroke="#000" stroke-width="0.22">100S</text>
<path d="M80.3 360.3 L82.6 365.1 L86.3 359.1" fill="none" stroke="#000" stroke-width="0.7"/>
<path d="M80.3 360.3 L84.9 360.3" fill="none" stroke="#000" stroke-width="0.7"/>
<text x="82.6" y="360.98" font-size="3" text-anchor="middle" fill="#000" font-family="&quot;Liberation Sans&quot;, sans-serif" font-weight="bold" stroke="#000" stroke-width="0.22">25</text>
<line x1="44.1" y1="393.3" x2="92" y2="393.3" stroke="#000" stroke-width="0.7"/>
<line x1="74.5" y1="385.3" x2="92" y2="385.3" stroke="#000" stroke-width="0.7"/>
<text x="83" y="391.1" font-size="5" text-anchor="middle" fill="#000" font-family="&quot;Liberation Sans&quot;, sans-serif" textLength="8.5" lengthAdjust="spacingAndGlyphs" font-weight="bold" font-style="italic" stroke="#000" stroke-width="0.22">25S</text>
<path d="M80.3 378.1 L82.6 382.9 L86.3 376.9" fill="none" stroke="#000" stroke-width="0.7"/>
<path d="M80.3 378.1 L84.9 378.1" fill="none" stroke="#000" stroke-width="0.7"/>
<text x="82.6" y="378.78" font-size="3" text-anchor="middle" fill="#000" font-family="&quot;Liberation Sans&quot;, sans-serif" font-weight="bold" stroke="#000" stroke-width="0.22">6.3</text>
<line x1="44.1" y1="411.3" x2="92" y2="411.3" stroke="#000" stroke-width="0.7"/>
<line x1="74.5" y1="403.3" x2="92" y2="403.3" stroke="#000" stroke-width="0.7"/>
<text x="83" y="409.1" font-size="5" text-anchor="middle" fill="#000" font-family="&quot;Liberation Sans&quot;, sans-serif" textLength="8.5" lengthAdjust="spacingAndGlyphs" font-weight="bold" font-style="italic" stroke="#000" stroke-width="0.22">6.3S</text>
<path d="M80.3 396.1 L82.6 400.9 L86.3 394.9" fill="none" stroke="#000" stroke-width="0.7"/>
<path d="M80.3 396.1 L84.9 396.1" fill="none" stroke="#000" stroke-width="0.7"/>
<text x="82.6" y="396.78" font-size="3" text-anchor="middle" fill="#000" font-family="&quot;Liberation Sans&quot;, sans-serif" font-weight="bold" stroke="#000" stroke-width="0.22">1.6</text>
<line x1="44.1" y1="429.5" x2="92" y2="429.5" stroke="#000" stroke-width="0.7"/>
<line x1="74.5" y1="420.3" x2="92" y2="420.3" stroke="#000" stroke-width="0.7"/>
<text x="83" y="426.7" font-size="5" text-anchor="middle" fill="#000" font-family="&quot;Liberation Sans&quot;, sans-serif" textLength="8.5" lengthAdjust="spacingAndGlyphs" font-weight="bold" font-style="italic" stroke="#000" stroke-width="0.22">0.8S</text>
<path d="M80.3 413.6 L82.6 418.4 L86.3 412.4" fill="none" stroke="#000" stroke-width="0.7"/>
<path d="M80.3 413.6 L84.9 413.6" fill="none" stroke="#000" stroke-width="0.7"/>
<text x="82.6" y="414.28" font-size="3" text-anchor="middle" fill="#000" font-family="&quot;Liberation Sans&quot;, sans-serif" font-weight="bold" stroke="#000" stroke-width="0.22">0.2</text>
<text x="59.3" y="353.26" font-size="11" text-anchor="middle" fill="#000" font-family="&quot;Liberation Sans&quot;, sans-serif">~</text>
<path d="M56.7 364.53 L61.9 364.53 L59.3 369.6 Z" fill="none" stroke="#000" stroke-width="0.7"/>
<path d="M53.6 382.53 L58.8 382.53 L56.2 387.6 Z" fill="none" stroke="#000" stroke-width="0.7"/>
<path d="M59.8 382.53 L65 382.53 L62.4 387.6 Z" fill="none" stroke="#000" stroke-width="0.7"/>
<path d="M50.1 399.65 L56.1 399.65 L53.1 405.5 Z" fill="none" stroke="#000" stroke-width="0.7"/>
<path d="M56.3 399.65 L62.3 399.65 L59.3 405.5 Z" fill="none" stroke="#000" stroke-width="0.7"/>
<path d="M62.5 399.65 L68.5 399.65 L65.5 405.5 Z" fill="none" stroke="#000" stroke-width="0.7"/>
<path d="M47 418.15 L53 418.15 L50 424 Z" fill="none" stroke="#000" stroke-width="0.7"/>
<path d="M53.2 418.15 L59.2 418.15 L56.2 424 Z" fill="none" stroke="#000" stroke-width="0.7"/>
<path d="M59.4 418.15 L65.4 418.15 L62.4 424 Z" fill="none" stroke="#000" stroke-width="0.7"/>
<path d="M65.6 418.15 L71.6 418.15 L68.6 424 Z" fill="none" stroke="#000" stroke-width="0.7"/>
<text x="0" y="0" font-size="5" font-style="italic" font-weight="bold" stroke="#000" stroke-width="0.15" font-family="&quot;Liberation Sans&quot;, sans-serif" textLength="138" lengthAdjust="spacingAndGlyphs" transform="translate(56.2 587.5) rotate(-90)">THIS DRAWING CONTAINS CONFIDENTIAL PROPRIETARY INFORMATION.</text>
<text x="0" y="0" font-size="5" font-style="italic" font-weight="bold" stroke="#000" stroke-width="0.15" font-family="&quot;Liberation Sans&quot;, sans-serif" textLength="139" lengthAdjust="spacingAndGlyphs" transform="translate(63.5 587.5) rotate(-90)">HENCE, THE PRODUCTION,TRANSFER AND/OR UTILIZATION IN WHOLE</text>
<text x="0" y="0" font-size="5" font-style="italic" font-weight="bold" stroke="#000" stroke-width="0.15" font-family="&quot;Liberation Sans&quot;, sans-serif" textLength="133" lengthAdjust="spacingAndGlyphs" transform="translate(71.2 587.5) rotate(-90)">OR IN PART ARE PROHIBITED WITHOUT THE WRITTEN PERMISSION OF</text>
<text x="0" y="0" font-size="11" font-weight="bold" stroke="#000" stroke-width="0.4" font-family="&quot;Liberation Serif&quot;, serif" textLength="98" lengthAdjust="spacingAndGlyphs" transform="translate(81.8 588.5) rotate(-90)">HYUNDAI ROBOTICS CO., LTD.</text>
<text x="62" y="620.44" font-size="4" text-anchor="middle" fill="#000" font-family="&quot;Liberation Sans&quot;, sans-serif" textLength="32" lengthAdjust="spacingAndGlyphs" font-weight="bold" stroke="#000" stroke-width="0.22">A1 (841x594mm)</text>
<line x1="682.8" y1="37.2" x2="878" y2="37.2" stroke="#000" stroke-width="0.7"/>
<line x1="682.8" y1="47" x2="878" y2="47" stroke="#000" stroke-width="0.9"/>
<line x1="682.8" y1="26.9" x2="682.8" y2="47" stroke="#000" stroke-width="0.9"/>
<line x1="694.5" y1="26.9" x2="694.5" y2="47" stroke="#000" stroke-width="0.7"/>
<line x1="759.5" y1="26.9" x2="759.5" y2="47" stroke="#000" stroke-width="0.7"/>
<line x1="795.8" y1="26.9" x2="795.8" y2="47" stroke="#000" stroke-width="0.7"/>
<line x1="808.3" y1="26.9" x2="808.3" y2="47" stroke="#000" stroke-width="0.7"/>
<line x1="837.7" y1="26.9" x2="837.7" y2="47" stroke="#000" stroke-width="0.7"/>
<text x="688.6" y="33.64" font-size="4" text-anchor="middle" fill="#000" font-family="&quot;Liberation Sans&quot;, sans-serif" textLength="4.5" lengthAdjust="spacingAndGlyphs" font-weight="bold" stroke="#000" stroke-width="0.22">NO.</text>
<text x="727" y="33.64" font-size="4" text-anchor="middle" fill="#000" font-family="&quot;Liberation Sans&quot;, sans-serif" textLength="20" lengthAdjust="spacingAndGlyphs" font-weight="bold" stroke="#000" stroke-width="0.22">DESCRIPTION</text>
<text x="777.6" y="31.44" font-size="4" text-anchor="middle" fill="#000" font-family="&quot;Liberation Sans&quot;, sans-serif" textLength="14.5" lengthAdjust="spacingAndGlyphs" font-weight="bold" stroke="#000" stroke-width="0.22">MATERIAL</text>
<text x="777.6" y="36.04" font-size="4" text-anchor="middle" fill="#000" font-family="&quot;Liberation Sans&quot;, sans-serif" textLength="12.5" lengthAdjust="spacingAndGlyphs" font-weight="bold" stroke="#000" stroke-width="0.22">(MAKER)</text>
<text x="802" y="33.64" font-size="4" text-anchor="middle" fill="#000" font-family="&quot;Liberation Sans&quot;, sans-serif" textLength="6.8" lengthAdjust="spacingAndGlyphs" font-weight="bold" stroke="#000" stroke-width="0.22">Q&#x27;TY</text>
<text x="823" y="33.64" font-size="4" text-anchor="middle" fill="#000" font-family="&quot;Liberation Sans&quot;, sans-serif" textLength="12" lengthAdjust="spacingAndGlyphs" font-weight="bold" stroke="#000" stroke-width="0.22">WEIGHT</text>
<text x="857.8" y="33.64" font-size="4" text-anchor="middle" fill="#000" font-family="&quot;Liberation Sans&quot;, sans-serif" textLength="13" lengthAdjust="spacingAndGlyphs" font-weight="bold" stroke="#000" stroke-width="0.22">REMARK</text>
<text x="688.6" y="44" font-size="5" text-anchor="middle" fill="#000" font-family="&quot;Liberation Sans&quot;, sans-serif" textLength="7.5" lengthAdjust="spacingAndGlyphs" font-weight="bold" stroke="#000" stroke-width="0.22">001</text>
<text x="695" y="44" font-size="5" text-anchor="start" fill="#000" font-family="&quot;Liberation Sans&quot;, sans-serif" textLength="32" lengthAdjust="spacingAndGlyphs" font-weight="bold" stroke="#000" stroke-width="0.22">GENERAL ASSY</text>
<text x="802" y="44" font-size="5" text-anchor="middle" fill="#000" font-family="&quot;Liberation Sans&quot;, sans-serif" font-weight="bold" stroke="#000" stroke-width="0.22">1</text>
<rect x="719.2" y="50" width="154.5" height="210.4" rx="0" fill="none" stroke="#000" stroke-width="0.9"/>
<text x="796.4" y="60.9" font-size="10" text-anchor="middle" fill="#000" font-family="&quot;Liberation Sans&quot;, sans-serif" textLength="55.5" lengthAdjust="spacingAndGlyphs">Specifications</text>
<line x1="719.2" y1="65.2" x2="873.7" y2="65.2" stroke="#000" stroke-width="0.8"/>
<line x1="719.2" y1="65.2" x2="798.7" y2="81.3" stroke="#000" stroke-width="0.7"/>
<text x="720" y="75.6" font-size="5" text-anchor="start" fill="#000" font-family="&quot;Liberation Sans&quot;, sans-serif" textLength="11" lengthAdjust="spacingAndGlyphs" font-weight="bold" stroke="#000" stroke-width="0.22">Model</text>
<text x="729" y="80.8" font-size="5" text-anchor="start" fill="#000" font-family="&quot;Liberation Sans&quot;, sans-serif" textLength="9" lengthAdjust="spacingAndGlyphs" font-weight="bold" stroke="#000" stroke-width="0.22">Item</text>
<text x="836" y="76.32" font-size="7" text-anchor="middle" fill="#000" font-family="&quot;Liberation Sans&quot;, &quot;Noto Sans CJK KR&quot;, &quot;NanumGothic&quot;, sans-serif" textLength="18.5" lengthAdjust="spacingAndGlyphs">기종명</text>
<line x1="719.2" y1="81.3" x2="873.7" y2="81.3" stroke="#000" stroke-width="0.8"/>
<line x1="719.2" y1="88.7" x2="873.7" y2="88.7" stroke="#000" stroke-width="0.7"/>
<line x1="719.2" y1="96.2" x2="873.7" y2="96.2" stroke="#000" stroke-width="0.7"/>
<line x1="719.2" y1="103.5" x2="873.7" y2="103.5" stroke="#000" stroke-width="0.8"/>
<line x1="798.7" y1="65.2" x2="798.7" y2="260.4" stroke="#000" stroke-width="0.9"/>
<text x="759" y="86.8" font-size="5" text-anchor="middle" fill="#000" font-family="&quot;Liberation Sans&quot;, sans-serif" textLength="20.5" lengthAdjust="spacingAndGlyphs" font-weight="bold" stroke="#000" stroke-width="0.22">Structure</text>
<text x="836" y="86.8" font-size="5" text-anchor="middle" fill="#000" font-family="&quot;Liberation Sans&quot;, sans-serif" textLength="24" lengthAdjust="spacingAndGlyphs" font-weight="bold" stroke="#000" stroke-width="0.22">Articulated</text>
<text x="759" y="94.2" font-size="5" text-anchor="middle" fill="#000" font-family="&quot;Liberation Sans&quot;, sans-serif" textLength="29" lengthAdjust="spacingAndGlyphs" font-weight="bold" stroke="#000" stroke-width="0.22">Drive System</text>
<text x="836" y="94.2" font-size="5" text-anchor="middle" fill="#000" font-family="&quot;Liberation Sans&quot;, sans-serif" textLength="34" lengthAdjust="spacingAndGlyphs" font-weight="bold" stroke="#000" stroke-width="0.22">AC Servo Motor</text>
<text x="759" y="101.6" font-size="5" text-anchor="middle" fill="#000" font-family="&quot;Liberation Sans&quot;, sans-serif" textLength="43" lengthAdjust="spacingAndGlyphs" font-weight="bold" stroke="#000" stroke-width="0.22">Degree Of Freedom</text>
<text x="836" y="101.6" font-size="5" text-anchor="middle" fill="#000" font-family="&quot;Liberation Sans&quot;, sans-serif" font-weight="bold" stroke="#000" stroke-width="0.22">6</text>
<line x1="756.4" y1="116.2" x2="873.7" y2="116.2" stroke="#000" stroke-width="0.7"/>
<text x="777.5" y="111.65" font-size="5" text-anchor="middle" fill="#000" font-family="&quot;Liberation Sans&quot;, sans-serif" textLength="22" lengthAdjust="spacingAndGlyphs" font-weight="bold" stroke="#000" stroke-width="0.22">S (Swivel)</text>
<line x1="756.4" y1="129.1" x2="873.7" y2="129.1" stroke="#000" stroke-width="0.7"/>
<text x="777.5" y="124.45" font-size="5" text-anchor="middle" fill="#000" font-family="&quot;Liberation Sans&quot;, sans-serif" textLength="31" lengthAdjust="spacingAndGlyphs" font-weight="bold" stroke="#000" stroke-width="0.22">H (Horizontal)</text>
<line x1="742.4" y1="142" x2="873.7" y2="142" stroke="#000" stroke-width="0.8"/>
<text x="777.5" y="137.35" font-size="5" text-anchor="middle" fill="#000" font-family="&quot;Liberation Sans&quot;, sans-serif" textLength="27" lengthAdjust="spacingAndGlyphs" font-weight="bold" stroke="#000" stroke-width="0.22">V (Vertical)</text>
<line x1="756.4" y1="148.8" x2="873.7" y2="148.8" stroke="#000" stroke-width="0.7"/>
<text x="777.5" y="147.2" font-size="5" text-anchor="middle" fill="#000" font-family="&quot;Liberation Sans&quot;, sans-serif" textLength="35" lengthAdjust="spacingAndGlyphs" font-weight="bold" stroke="#000" stroke-width="0.22">R2 (Rotating 2)</text>
<line x1="756.4" y1="156.1" x2="873.7" y2="156.1" stroke="#000" stroke-width="0.7"/>
<text x="777.5" y="154.25" font-size="5" text-anchor="middle" fill="#000" font-family="&quot;Liberation Sans&quot;, sans-serif" textLength="26" lengthAdjust="spacingAndGlyphs" font-weight="bold" stroke="#000" stroke-width="0.22">B (Bending)</text>
<line x1="719.2" y1="163.6" x2="873.7" y2="163.6" stroke="#000" stroke-width="0.9"/>
<text x="777.5" y="161.65" font-size="5" text-anchor="middle" fill="#000" font-family="&quot;Liberation Sans&quot;, sans-serif" textLength="35" lengthAdjust="spacingAndGlyphs" font-weight="bold" stroke="#000" stroke-width="0.22">R1 (Rotating 1)</text>
<line x1="742.4" y1="103.5" x2="742.4" y2="208" stroke="#000" stroke-width="0.7"/>
<line x1="756.4" y1="103.5" x2="756.4" y2="230.4" stroke="#000" stroke-width="0.7"/>
<text x="730.8" y="127.8" font-size="5" text-anchor="middle" fill="#000" font-family="&quot;Liberation Sans&quot;, sans-serif" textLength="18.5" lengthAdjust="spacingAndGlyphs" font-weight="bold" stroke="#000" stroke-width="0.22">Maximum</text>
<text x="730.8" y="134" font-size="5" text-anchor="middle" fill="#000" font-family="&quot;Liberation Sans&quot;, sans-serif" textLength="21" lengthAdjust="spacingAndGlyphs" font-weight="bold" stroke="#000" stroke-width="0.22">Operating</text>
<text x="730.8" y="140.2" font-size="5" text-anchor="middle" fill="#000" font-family="&quot;Liberation Sans&quot;, sans-serif" textLength="13.5" lengthAdjust="spacingAndGlyphs" font-weight="bold" stroke="#000" stroke-width="0.22">Range</text>
<text x="749.4" y="124.3" font-size="5" text-anchor="middle" fill="#000" font-family="&quot;Liberation Sans&quot;, sans-serif" textLength="8.5" lengthAdjust="spacingAndGlyphs" font-weight="bold" stroke="#000" stroke-width="0.22">Arm</text>
<text x="749.4" y="154.4" font-size="5" text-anchor="middle" fill="#000" font-family="&quot;Liberation Sans&quot;, sans-serif" textLength="10.5" lengthAdjust="spacingAndGlyphs" font-weight="bold" stroke="#000" stroke-width="0.22">Wrist</text>
<text x="836" y="111.6" font-size="5" text-anchor="middle" fill="#000" font-family="&quot;Liberation Sans&quot;, sans-serif" textLength="50" lengthAdjust="spacingAndGlyphs" font-weight="bold" stroke="#000" stroke-width="0.22">±2.967 rad    (±170°)</text>
<text x="836" y="121.3" font-size="5" text-anchor="middle" fill="#000" font-family="&quot;Liberation Sans&quot;, sans-serif" textLength="42" lengthAdjust="spacingAndGlyphs" font-weight="bold" stroke="#000" stroke-width="0.22">+3.14 ~ -0.96 rad</text>
<text x="836" y="127.6" font-size="5" text-anchor="middle" fill="#000" font-family="&quot;Liberation Sans&quot;, sans-serif" textLength="34" lengthAdjust="spacingAndGlyphs" font-weight="bold" stroke="#000" stroke-width="0.22">(+180° ~ -55°)</text>
<text x="836" y="134.2" font-size="5" text-anchor="middle" fill="#000" font-family="&quot;Liberation Sans&quot;, sans-serif" textLength="42" lengthAdjust="spacingAndGlyphs" font-weight="bold" stroke="#000" stroke-width="0.22">+3.71 ~ -1.22 rad</text>
<text x="836" y="140.5" font-size="5" text-anchor="middle" fill="#000" font-family="&quot;Liberation Sans&quot;, sans-serif" textLength="34" lengthAdjust="spacingAndGlyphs" font-weight="bold" stroke="#000" stroke-width="0.22">(+213° ~ -70°)</text>
<text x="836" y="147.2" font-size="5" text-anchor="middle" fill="#000" font-family="&quot;Liberation Sans&quot;, sans-serif" textLength="50" lengthAdjust="spacingAndGlyphs" font-weight="bold" stroke="#000" stroke-width="0.22">±3.316 rad    (±190°)</text>
<text x="836" y="154.2" font-size="5" text-anchor="middle" fill="#000" font-family="&quot;Liberation Sans&quot;, sans-serif" textLength="50" lengthAdjust="spacingAndGlyphs" font-weight="bold" stroke="#000" stroke-width="0.22">±2.356 rad    (±135°)</text>
<text x="836" y="161.6" font-size="5" text-anchor="middle" fill="#000" font-family="&quot;Liberation Sans&quot;, sans-serif" textLength="50" lengthAdjust="spacingAndGlyphs" font-weight="bold" stroke="#000" stroke-width="0.22">±6.283 rad    (±360°)</text>
<line x1="756.4" y1="170.7" x2="873.7" y2="170.7" stroke="#000" stroke-width="0.7"/>
<text x="777.5" y="168.95" font-size="5" text-anchor="middle" fill="#000" font-family="&quot;Liberation Sans&quot;, sans-serif" textLength="22" lengthAdjust="spacingAndGlyphs" font-weight="bold" stroke="#000" stroke-width="0.22">S (Swivel)</text>
<text x="836" y="168.95" font-size="5" text-anchor="middle" fill="#000" font-family="&quot;Liberation Sans&quot;, sans-serif" textLength="50" lengthAdjust="spacingAndGlyphs" font-weight="bold" stroke="#000" stroke-width="0.22">6.544 rad /s (375° /s)</text>
<line x1="756.4" y1="178.3" x2="873.7" y2="178.3" stroke="#000" stroke-width="0.7"/>
<text x="777.5" y="176.3" font-size="5" text-anchor="middle" fill="#000" font-family="&quot;Liberation Sans&quot;, sans-serif" textLength="31" lengthAdjust="spacingAndGlyphs" font-weight="bold" stroke="#000" stroke-width="0.22">H (Horizontal)</text>
<text x="836" y="176.3" font-size="5" text-anchor="middle" fill="#000" font-family="&quot;Liberation Sans&quot;, sans-serif" textLength="50" lengthAdjust="spacingAndGlyphs" font-weight="bold" stroke="#000" stroke-width="0.22">5.497 rad /s (315° /s)</text>
<line x1="742.4" y1="185.6" x2="873.7" y2="185.6" stroke="#000" stroke-width="0.8"/>
<text x="777.5" y="183.75" font-size="5" text-anchor="middle" fill="#000" font-family="&quot;Liberation Sans&quot;, sans-serif" textLength="27" lengthAdjust="spacingAndGlyphs" font-weight="bold" stroke="#000" stroke-width="0.22">V (Vertical)</text>
<text x="836" y="183.75" font-size="5" text-anchor="middle" fill="#000" font-family="&quot;Liberation Sans&quot;, sans-serif" textLength="50" lengthAdjust="spacingAndGlyphs" font-weight="bold" stroke="#000" stroke-width="0.22">7.155 rad /s (410° /s)</text>
<line x1="756.4" y1="193" x2="873.7" y2="193" stroke="#000" stroke-width="0.7"/>
<text x="777.5" y="191.1" font-size="5" text-anchor="middle" fill="#000" font-family="&quot;Liberation Sans&quot;, sans-serif" textLength="35" lengthAdjust="spacingAndGlyphs" font-weight="bold" stroke="#000" stroke-width="0.22">R2 (Rotating 2)</text>
<text x="836" y="191.1" font-size="5" text-anchor="middle" fill="#000" font-family="&quot;Liberation Sans&quot;, sans-serif" textLength="50" lengthAdjust="spacingAndGlyphs" font-weight="bold" stroke="#000" stroke-width="0.22">9.599 rad /s (550° /s)</text>
<line x1="756.4" y1="200.6" x2="873.7" y2="200.6" stroke="#000" stroke-width="0.7"/>
<text x="777.5" y="198.6" font-size="5" text-anchor="middle" fill="#000" font-family="&quot;Liberation Sans&quot;, sans-serif" textLength="26" lengthAdjust="spacingAndGlyphs" font-weight="bold" stroke="#000" stroke-width="0.22">B (Bending)</text>
<text x="836" y="198.6" font-size="5" text-anchor="middle" fill="#000" font-family="&quot;Liberation Sans&quot;, sans-serif" textLength="50" lengthAdjust="spacingAndGlyphs" font-weight="bold" stroke="#000" stroke-width="0.22">9.599 rad /s (550° /s)</text>
<line x1="719.2" y1="208" x2="873.7" y2="208" stroke="#000" stroke-width="0.9"/>
<text x="777.5" y="206.1" font-size="5" text-anchor="middle" fill="#000" font-family="&quot;Liberation Sans&quot;, sans-serif" textLength="35" lengthAdjust="spacingAndGlyphs" font-weight="bold" stroke="#000" stroke-width="0.22">R1 (Rotating 1)</text>
<text x="836" y="206.1" font-size="5" text-anchor="middle" fill="#000" font-family="&quot;Liberation Sans&quot;, sans-serif" textLength="55" lengthAdjust="spacingAndGlyphs" font-weight="bold" stroke="#000" stroke-width="0.22">17.453 rad /s (1000° /s)</text>
<text x="730.8" y="181.3" font-size="5" text-anchor="middle" fill="#000" font-family="&quot;Liberation Sans&quot;, sans-serif" textLength="18.5" lengthAdjust="spacingAndGlyphs" font-weight="bold" stroke="#000" stroke-width="0.22">Maximum</text>
<text x="730.8" y="187.5" font-size="5" text-anchor="middle" fill="#000" font-family="&quot;Liberation Sans&quot;, sans-serif" textLength="21" lengthAdjust="spacingAndGlyphs" font-weight="bold" stroke="#000" stroke-width="0.22">Operating</text>
<text x="730.8" y="193.7" font-size="5" text-anchor="middle" fill="#000" font-family="&quot;Liberation Sans&quot;, sans-serif" textLength="13.5" lengthAdjust="spacingAndGlyphs" font-weight="bold" stroke="#000" stroke-width="0.22">Speed</text>
<text x="749.4" y="176.4" font-size="5" text-anchor="middle" fill="#000" font-family="&quot;Liberation Sans&quot;, sans-serif" textLength="8.5" lengthAdjust="spacingAndGlyphs" font-weight="bold" stroke="#000" stroke-width="0.22">Arm</text>
<text x="749.4" y="198.6" font-size="5" text-anchor="middle" fill="#000" font-family="&quot;Liberation Sans&quot;, sans-serif" textLength="10.5" lengthAdjust="spacingAndGlyphs" font-weight="bold" stroke="#000" stroke-width="0.22">Wrist</text>
<line x1="756.4" y1="215.4" x2="873.7" y2="215.4" stroke="#000" stroke-width="0.7"/>
<text x="777.5" y="213.5" font-size="5" text-anchor="middle" fill="#000" font-family="&quot;Liberation Sans&quot;, sans-serif" textLength="35" lengthAdjust="spacingAndGlyphs" font-weight="bold" stroke="#000" stroke-width="0.22">R2 (Rotating 2)</text>
<text x="836" y="213.5" font-size="5" text-anchor="middle" fill="#000" font-family="&quot;Liberation Sans&quot;, sans-serif" textLength="46" lengthAdjust="spacingAndGlyphs" font-weight="bold" stroke="#000" stroke-width="0.22">17 N.m (1.73 Kgf.m)</text>
<line x1="756.4" y1="223" x2="873.7" y2="223" stroke="#000" stroke-width="0.7"/>
<text x="777.5" y="221" font-size="5" text-anchor="middle" fill="#000" font-family="&quot;Liberation Sans&quot;, sans-serif" textLength="26" lengthAdjust="spacingAndGlyphs" font-weight="bold" stroke="#000" stroke-width="0.22">B (Bending)</text>
<text x="836" y="221" font-size="5" text-anchor="middle" fill="#000" font-family="&quot;Liberation Sans&quot;, sans-serif" textLength="46" lengthAdjust="spacingAndGlyphs" font-weight="bold" stroke="#000" stroke-width="0.22">17 N.m (1.73 Kgf.m)</text>
<line x1="719.2" y1="230.4" x2="873.7" y2="230.4" stroke="#000" stroke-width="0.9"/>
<text x="777.5" y="228.5" font-size="5" text-anchor="middle" fill="#000" font-family="&quot;Liberation Sans&quot;, sans-serif" textLength="35" lengthAdjust="spacingAndGlyphs" font-weight="bold" stroke="#000" stroke-width="0.22">R1 (Rotating 1)</text>
<text x="836" y="228.5" font-size="5" text-anchor="middle" fill="#000" font-family="&quot;Liberation Sans&quot;, sans-serif" textLength="46" lengthAdjust="spacingAndGlyphs" font-weight="bold" stroke="#000" stroke-width="0.22">10 N.m (1.02 Kgf.m)</text>
<text x="738" y="221" font-size="5" text-anchor="middle" fill="#000" font-family="&quot;Liberation Sans&quot;, sans-serif" textLength="28" lengthAdjust="spacingAndGlyphs" font-weight="bold" stroke="#000" stroke-width="0.22">Wrist Torque</text>
<line x1="719.2" y1="238" x2="873.7" y2="238" stroke="#000" stroke-width="0.7"/>
<text x="759" y="236" font-size="5" text-anchor="middle" fill="#000" font-family="&quot;Liberation Sans&quot;, sans-serif" textLength="29" lengthAdjust="spacingAndGlyphs" font-weight="bold" stroke="#000" stroke-width="0.22">Repeatability</text>
<text x="836" y="236" font-size="5" text-anchor="middle" fill="#000" font-family="&quot;Liberation Sans&quot;, sans-serif" textLength="25" lengthAdjust="spacingAndGlyphs" font-weight="bold" stroke="#000" stroke-width="0.22">± 0.03 mm</text>
<line x1="719.2" y1="245.4" x2="873.7" y2="245.4" stroke="#000" stroke-width="0.7"/>
<text x="759" y="243.5" font-size="5" text-anchor="middle" fill="#000" font-family="&quot;Liberation Sans&quot;, sans-serif" textLength="27" lengthAdjust="spacingAndGlyphs" font-weight="bold" stroke="#000" stroke-width="0.22">Temperature</text>
<text x="836" y="243.5" font-size="5" text-anchor="middle" fill="#000" font-family="&quot;Liberation Sans&quot;, &quot;Noto Sans CJK KR&quot;, &quot;NanumGothic&quot;, sans-serif" textLength="56" lengthAdjust="spacingAndGlyphs" font-weight="bold" stroke="#000" stroke-width="0.22">0 ~ 40 ℃ (273 ~ 313 K)</text>
<line x1="719.2" y1="253" x2="873.7" y2="253" stroke="#000" stroke-width="0.7"/>
<text x="759" y="251" font-size="5" text-anchor="middle" fill="#000" font-family="&quot;Liberation Sans&quot;, sans-serif" textLength="14" lengthAdjust="spacingAndGlyphs" font-weight="bold" stroke="#000" stroke-width="0.22">Weight</text>
<text x="836" y="251" font-size="5" text-anchor="middle" fill="#000" font-family="&quot;Liberation Sans&quot;, sans-serif" textLength="10.5" lengthAdjust="spacingAndGlyphs" font-weight="bold" stroke="#000" stroke-width="0.22">42kg</text>
<text x="759" y="258.5" font-size="5" text-anchor="middle" fill="#000" font-family="&quot;Liberation Sans&quot;, sans-serif" textLength="36" lengthAdjust="spacingAndGlyphs" font-weight="bold" stroke="#000" stroke-width="0.22">transversal area</text>
<text x="836" y="258.5" font-size="5" text-anchor="middle" fill="#000" font-family="&quot;Liberation Sans&quot;, sans-serif" textLength="14" lengthAdjust="spacingAndGlyphs" font-weight="bold" stroke="#000" stroke-width="0.22">1.98m²</text>
<rect x="722.2" y="388" width="151.5" height="89" rx="0" fill="none" stroke="#000" stroke-width="0.9"/>
<text x="798" y="393.7" font-size="5" text-anchor="middle" fill="#000" font-family="&quot;Liberation Sans&quot;, sans-serif" textLength="85" lengthAdjust="spacingAndGlyphs" font-weight="bold" stroke="#000" stroke-width="0.22">ASR1 / ASR1A User IO Wiring Harness</text>
<line x1="722.2" y1="395.4" x2="873.7" y2="395.4" stroke="#000" stroke-width="0.7"/>
<line x1="722.2" y1="403" x2="873.7" y2="403" stroke="#000" stroke-width="0.7"/>
<text x="733.3" y="401.2" font-size="5" text-anchor="middle" fill="#000" font-family="&quot;Liberation Sans&quot;, sans-serif" textLength="16" lengthAdjust="spacingAndGlyphs" font-weight="bold" stroke="#000" stroke-width="0.22">Pin No.</text>
<text x="762.5" y="401.2" font-size="5" text-anchor="middle" fill="#000" font-family="&quot;Liberation Sans&quot;, sans-serif" textLength="25" lengthAdjust="spacingAndGlyphs" font-weight="bold" stroke="#000" stroke-width="0.22">Description</text>
<text x="791.6" y="401.2" font-size="5" text-anchor="middle" fill="#000" font-family="&quot;Liberation Sans&quot;, sans-serif" textLength="16" lengthAdjust="spacingAndGlyphs" font-weight="bold" stroke="#000" stroke-width="0.22">Pin No.</text>
<text x="820.8" y="401.2" font-size="5" text-anchor="middle" fill="#000" font-family="&quot;Liberation Sans&quot;, sans-serif" textLength="25" lengthAdjust="spacingAndGlyphs" font-weight="bold" stroke="#000" stroke-width="0.22">Description</text>
<text x="856.3" y="401.2" font-size="5" text-anchor="middle" fill="#000" font-family="&quot;Liberation Sans&quot;, sans-serif" textLength="14.5" lengthAdjust="spacingAndGlyphs" font-weight="bold" stroke="#000" stroke-width="0.22">Option</text>
<line x1="722.2" y1="410.4" x2="873.7" y2="410.4" stroke="#000" stroke-width="0.7"/>
<text x="733.3" y="408.5" font-size="5" text-anchor="middle" fill="#000" font-family="&quot;Liberation Sans&quot;, sans-serif" font-weight="bold" stroke="#000" stroke-width="0.22">1</text>
<text x="762.5" y="408.5" font-size="5" text-anchor="middle" fill="#000" font-family="&quot;Liberation Sans&quot;, sans-serif" textLength="25" lengthAdjust="spacingAndGlyphs" font-weight="bold" stroke="#000" stroke-width="0.22">1 (User IO )</text>
<text x="791.6" y="408.5" font-size="5" text-anchor="middle" fill="#000" font-family="&quot;Liberation Sans&quot;, sans-serif" textLength="4.6" lengthAdjust="spacingAndGlyphs" font-weight="bold" stroke="#000" stroke-width="0.22">11</text>
<text x="836" y="408.5" font-size="5" text-anchor="middle" fill="#000" font-family="&quot;Liberation Sans&quot;, sans-serif" textLength="28" lengthAdjust="spacingAndGlyphs" font-weight="bold" stroke="#000" stroke-width="0.22">11 (User IO )</text>
<line x1="722.2" y1="417.8" x2="873.7" y2="417.8" stroke="#000" stroke-width="0.7"/>
<text x="733.3" y="415.9" font-size="5" text-anchor="middle" fill="#000" font-family="&quot;Liberation Sans&quot;, sans-serif" font-weight="bold" stroke="#000" stroke-width="0.22">2</text>
<text x="762.5" y="415.9" font-size="5" text-anchor="middle" fill="#000" font-family="&quot;Liberation Sans&quot;, sans-serif" textLength="25" lengthAdjust="spacingAndGlyphs" font-weight="bold" stroke="#000" stroke-width="0.22">2 (User IO )</text>
<text x="791.6" y="415.9" font-size="5" text-anchor="middle" fill="#000" font-family="&quot;Liberation Sans&quot;, sans-serif" textLength="4.6" lengthAdjust="spacingAndGlyphs" font-weight="bold" stroke="#000" stroke-width="0.22">12</text>
<text x="820.8" y="415.9" font-size="5" text-anchor="middle" fill="#000" font-family="&quot;Liberation Sans&quot;, sans-serif" textLength="28" lengthAdjust="spacingAndGlyphs" font-weight="bold" stroke="#000" stroke-width="0.22">12 (User IO )</text>
<text x="856.3" y="415.9" font-size="5" text-anchor="middle" fill="#000" font-family="&quot;Liberation Sans&quot;, sans-serif" textLength="25" lengthAdjust="spacingAndGlyphs" font-weight="bold" stroke="#000" stroke-width="0.22">1A(sol v/v)</text>
<line x1="722.2" y1="425.2" x2="873.7" y2="425.2" stroke="#000" stroke-width="0.7"/>
<text x="733.3" y="423.3" font-size="5" text-anchor="middle" fill="#000" font-family="&quot;Liberation Sans&quot;, sans-serif" font-weight="bold" stroke="#000" stroke-width="0.22">3</text>
<text x="762.5" y="423.3" font-size="5" text-anchor="middle" fill="#000" font-family="&quot;Liberation Sans&quot;, sans-serif" textLength="25" lengthAdjust="spacingAndGlyphs" font-weight="bold" stroke="#000" stroke-width="0.22">3 (User IO )</text>
<text x="791.6" y="423.3" font-size="5" text-anchor="middle" fill="#000" font-family="&quot;Liberation Sans&quot;, sans-serif" textLength="4.6" lengthAdjust="spacingAndGlyphs" font-weight="bold" stroke="#000" stroke-width="0.22">13</text>
<text x="820.8" y="423.3" font-size="5" text-anchor="middle" fill="#000" font-family="&quot;Liberation Sans&quot;, sans-serif" textLength="28" lengthAdjust="spacingAndGlyphs" font-weight="bold" stroke="#000" stroke-width="0.22">13 (User IO )</text>
<text x="856.3" y="423.3" font-size="5" text-anchor="middle" fill="#000" font-family="&quot;Liberation Sans&quot;, sans-serif" textLength="25" lengthAdjust="spacingAndGlyphs" font-weight="bold" stroke="#000" stroke-width="0.22">1B(sol v/v)</text>
<line x1="722.2" y1="432.6" x2="873.7" y2="432.6" stroke="#000" stroke-width="0.7"/>
<text x="733.3" y="430.7" font-size="5" text-anchor="middle" fill="#000" font-family="&quot;Liberation Sans&quot;, sans-serif" font-weight="bold" stroke="#000" stroke-width="0.22">4</text>
<text x="762.5" y="430.7" font-size="5" text-anchor="middle" fill="#000" font-family="&quot;Liberation Sans&quot;, sans-serif" textLength="25" lengthAdjust="spacingAndGlyphs" font-weight="bold" stroke="#000" stroke-width="0.22">4 (User IO )</text>
<text x="791.6" y="430.7" font-size="5" text-anchor="middle" fill="#000" font-family="&quot;Liberation Sans&quot;, sans-serif" textLength="4.6" lengthAdjust="spacingAndGlyphs" font-weight="bold" stroke="#000" stroke-width="0.22">14</text>
<text x="820.8" y="430.7" font-size="5" text-anchor="middle" fill="#000" font-family="&quot;Liberation Sans&quot;, sans-serif" textLength="28" lengthAdjust="spacingAndGlyphs" font-weight="bold" stroke="#000" stroke-width="0.22">14 (User IO )</text>
<text x="856.3" y="430.7" font-size="5" text-anchor="middle" fill="#000" font-family="&quot;Liberation Sans&quot;, sans-serif" textLength="25" lengthAdjust="spacingAndGlyphs" font-weight="bold" stroke="#000" stroke-width="0.22">2A(sol v/v)</text>
<line x1="722.2" y1="440" x2="873.7" y2="440" stroke="#000" stroke-width="0.7"/>
<text x="733.3" y="438.1" font-size="5" text-anchor="middle" fill="#000" font-family="&quot;Liberation Sans&quot;, sans-serif" font-weight="bold" stroke="#000" stroke-width="0.22">5</text>
<text x="762.5" y="438.1" font-size="5" text-anchor="middle" fill="#000" font-family="&quot;Liberation Sans&quot;, sans-serif" textLength="25" lengthAdjust="spacingAndGlyphs" font-weight="bold" stroke="#000" stroke-width="0.22">5 (User IO )</text>
<text x="791.6" y="438.1" font-size="5" text-anchor="middle" fill="#000" font-family="&quot;Liberation Sans&quot;, sans-serif" textLength="4.6" lengthAdjust="spacingAndGlyphs" font-weight="bold" stroke="#000" stroke-width="0.22">15</text>
<text x="820.8" y="438.1" font-size="5" text-anchor="middle" fill="#000" font-family="&quot;Liberation Sans&quot;, sans-serif" textLength="28" lengthAdjust="spacingAndGlyphs" font-weight="bold" stroke="#000" stroke-width="0.22">15 (User IO )</text>
<text x="856.3" y="438.1" font-size="5" text-anchor="middle" fill="#000" font-family="&quot;Liberation Sans&quot;, sans-serif" textLength="25" lengthAdjust="spacingAndGlyphs" font-weight="bold" stroke="#000" stroke-width="0.22">2B(sol v/v)</text>
<line x1="722.2" y1="447.4" x2="873.7" y2="447.4" stroke="#000" stroke-width="0.7"/>
<text x="733.3" y="445.5" font-size="5" text-anchor="middle" fill="#000" font-family="&quot;Liberation Sans&quot;, sans-serif" font-weight="bold" stroke="#000" stroke-width="0.22">6</text>
<text x="762.5" y="445.5" font-size="5" text-anchor="middle" fill="#000" font-family="&quot;Liberation Sans&quot;, sans-serif" textLength="25" lengthAdjust="spacingAndGlyphs" font-weight="bold" stroke="#000" stroke-width="0.22">6 (User IO )</text>
<text x="791.6" y="445.5" font-size="5" text-anchor="middle" fill="#000" font-family="&quot;Liberation Sans&quot;, sans-serif" textLength="4.6" lengthAdjust="spacingAndGlyphs" font-weight="bold" stroke="#000" stroke-width="0.22">16</text>
<text x="820.8" y="445.5" font-size="5" text-anchor="middle" fill="#000" font-family="&quot;Liberation Sans&quot;, sans-serif" textLength="28" lengthAdjust="spacingAndGlyphs" font-weight="bold" stroke="#000" stroke-width="0.22">16 (User IO )</text>
<text x="856.3" y="445.5" font-size="5" text-anchor="middle" fill="#000" font-family="&quot;Liberation Sans&quot;, sans-serif" textLength="25" lengthAdjust="spacingAndGlyphs" font-weight="bold" stroke="#000" stroke-width="0.22">3A(sol v/v)</text>
<line x1="722.2" y1="454.8" x2="873.7" y2="454.8" stroke="#000" stroke-width="0.7"/>
<text x="733.3" y="452.9" font-size="5" text-anchor="middle" fill="#000" font-family="&quot;Liberation Sans&quot;, sans-serif" font-weight="bold" stroke="#000" stroke-width="0.22">7</text>
<text x="762.5" y="452.9" font-size="5" text-anchor="middle" fill="#000" font-family="&quot;Liberation Sans&quot;, sans-serif" textLength="25" lengthAdjust="spacingAndGlyphs" font-weight="bold" stroke="#000" stroke-width="0.22">7 (User IO )</text>
<text x="791.6" y="452.9" font-size="5" text-anchor="middle" fill="#000" font-family="&quot;Liberation Sans&quot;, sans-serif" textLength="4.6" lengthAdjust="spacingAndGlyphs" font-weight="bold" stroke="#000" stroke-width="0.22">17</text>
<text x="820.8" y="452.9" font-size="5" text-anchor="middle" fill="#000" font-family="&quot;Liberation Sans&quot;, sans-serif" textLength="28" lengthAdjust="spacingAndGlyphs" font-weight="bold" stroke="#000" stroke-width="0.22">17 (User IO )</text>
<text x="856.3" y="452.9" font-size="5" text-anchor="middle" fill="#000" font-family="&quot;Liberation Sans&quot;, sans-serif" textLength="25" lengthAdjust="spacingAndGlyphs" font-weight="bold" stroke="#000" stroke-width="0.22">3B(sol v/v)</text>
<line x1="722.2" y1="462.2" x2="873.7" y2="462.2" stroke="#000" stroke-width="0.7"/>
<text x="733.3" y="460.3" font-size="5" text-anchor="middle" fill="#000" font-family="&quot;Liberation Sans&quot;, sans-serif" font-weight="bold" stroke="#000" stroke-width="0.22">8</text>
<text x="762.5" y="460.3" font-size="5" text-anchor="middle" fill="#000" font-family="&quot;Liberation Sans&quot;, sans-serif" textLength="25" lengthAdjust="spacingAndGlyphs" font-weight="bold" stroke="#000" stroke-width="0.22">8 (User IO )</text>
<text x="791.6" y="460.3" font-size="5" text-anchor="middle" fill="#000" font-family="&quot;Liberation Sans&quot;, sans-serif" textLength="4.6" lengthAdjust="spacingAndGlyphs" font-weight="bold" stroke="#000" stroke-width="0.22">18</text>
<text x="820.8" y="460.3" font-size="5" text-anchor="middle" fill="#000" font-family="&quot;Liberation Sans&quot;, sans-serif" textLength="28" lengthAdjust="spacingAndGlyphs" font-weight="bold" stroke="#000" stroke-width="0.22">18 (User IO )</text>
<text x="856.3" y="460.3" font-size="5" text-anchor="middle" fill="#000" font-family="&quot;Liberation Sans&quot;, sans-serif" textLength="22" lengthAdjust="spacingAndGlyphs" font-weight="bold" stroke="#000" stroke-width="0.22">G(sol v/v)</text>
<line x1="722.2" y1="469.6" x2="873.7" y2="469.6" stroke="#000" stroke-width="0.7"/>
<text x="733.3" y="467.7" font-size="5" text-anchor="middle" fill="#000" font-family="&quot;Liberation Sans&quot;, sans-serif" font-weight="bold" stroke="#000" stroke-width="0.22">9</text>
<text x="762.5" y="467.7" font-size="5" text-anchor="middle" fill="#000" font-family="&quot;Liberation Sans&quot;, sans-serif" textLength="25" lengthAdjust="spacingAndGlyphs" font-weight="bold" stroke="#000" stroke-width="0.22">9 (User IO )</text>
<text x="791.6" y="467.7" font-size="5" text-anchor="middle" fill="#000" font-family="&quot;Liberation Sans&quot;, sans-serif" textLength="4.6" lengthAdjust="spacingAndGlyphs" font-weight="bold" stroke="#000" stroke-width="0.22">19</text>
<text x="836" y="467.7" font-size="5" text-anchor="middle" fill="#000" font-family="&quot;Liberation Sans&quot;, sans-serif" font-weight="bold" stroke="#000" stroke-width="0.22">-</text>
<text x="733.3" y="475.1" font-size="5" text-anchor="middle" fill="#000" font-family="&quot;Liberation Sans&quot;, sans-serif" font-weight="bold" stroke="#000" stroke-width="0.22">10</text>
<text x="762.5" y="475.1" font-size="5" text-anchor="middle" fill="#000" font-family="&quot;Liberation Sans&quot;, sans-serif" textLength="28" lengthAdjust="spacingAndGlyphs" font-weight="bold" stroke="#000" stroke-width="0.22">10 (User IO )</text>
<text x="791.6" y="475.1" font-size="5" text-anchor="middle" fill="#000" font-family="&quot;Liberation Sans&quot;, sans-serif" textLength="4.6" lengthAdjust="spacingAndGlyphs" font-weight="bold" stroke="#000" stroke-width="0.22">20</text>
<text x="836" y="475.1" font-size="5" text-anchor="middle" fill="#000" font-family="&quot;Liberation Sans&quot;, sans-serif" font-weight="bold" stroke="#000" stroke-width="0.22">-</text>
<line x1="744.4" y1="395.4" x2="744.4" y2="477" stroke="#000" stroke-width="0.7"/>
<line x1="780.6" y1="395.4" x2="780.6" y2="477" stroke="#000" stroke-width="0.7"/>
<line x1="802.6" y1="395.4" x2="802.6" y2="477" stroke="#000" stroke-width="0.9"/>
<line x1="839" y1="395.4" x2="839" y2="403" stroke="#000" stroke-width="0.7"/>
<line x1="839" y1="410.4" x2="839" y2="462.2" stroke="#000" stroke-width="0.7"/>
<line x1="682.4" y1="506" x2="878" y2="506" stroke="#000" stroke-width="0.9"/>
<line x1="682.4" y1="506" x2="682.4" y2="564.4" stroke="#000" stroke-width="0.9"/>
<line x1="682.4" y1="513.6" x2="779" y2="513.6" stroke="#000" stroke-width="0.7"/>
<line x1="682.4" y1="519.4" x2="878" y2="519.4" stroke="#000" stroke-width="0.7"/>
<line x1="682.4" y1="526.4" x2="779" y2="526.4" stroke="#000" stroke-width="0.7"/>
<line x1="682.4" y1="532" x2="878" y2="532" stroke="#000" stroke-width="0.7"/>
<line x1="682.4" y1="539.4" x2="779" y2="539.4" stroke="#000" stroke-width="0.7"/>
<line x1="682.4" y1="545" x2="878" y2="545" stroke="#000" stroke-width="0.7"/>
<line x1="682.4" y1="552.4" x2="779" y2="552.4" stroke="#000" stroke-width="0.7"/>
<line x1="682.4" y1="557.6" x2="878" y2="557.6" stroke="#000" stroke-width="0.7"/>
<line x1="675.6" y1="564.4" x2="878" y2="564.4" stroke="#000" stroke-width="1.0"/>
<line x1="702.6" y1="506" x2="702.6" y2="564.4" stroke="#000" stroke-width="0.7"/>
<line x1="721.6" y1="506" x2="721.6" y2="564.4" stroke="#000" stroke-width="0.9"/>
<line x1="741" y1="506" x2="741" y2="564.4" stroke="#000" stroke-width="0.7"/>
<line x1="760" y1="506" x2="760" y2="564.4" stroke="#000" stroke-width="0.7"/>
<line x1="779" y1="506" x2="779" y2="564.4" stroke="#000" stroke-width="0.9"/>
<line x1="857" y1="506" x2="857" y2="582" stroke="#000" stroke-width="0.9"/>
<line x1="868" y1="506" x2="868" y2="582" stroke="#000" stroke-width="0.7"/>
<text x="712.1" y="524.9" font-size="5" text-anchor="middle" fill="#000" font-family="&quot;Liberation Sans&quot;, sans-serif" textLength="15.5" lengthAdjust="spacingAndGlyphs" font-weight="bold" stroke="#000" stroke-width="0.22">G.J.Park</text>
<text x="712.1" y="531" font-size="5" text-anchor="middle" fill="#000" font-family="&quot;Liberation Sans&quot;, sans-serif" textLength="17" lengthAdjust="spacingAndGlyphs" font-weight="bold" stroke="#000" stroke-width="0.25">2016.07.25</text>
<text x="731.3" y="524.9" font-size="5" text-anchor="middle" fill="#000" font-family="&quot;Liberation Sans&quot;, sans-serif" textLength="15.5" lengthAdjust="spacingAndGlyphs" font-weight="bold" stroke="#000" stroke-width="0.22">G.J.Park</text>
<text x="731.3" y="531" font-size="5" text-anchor="middle" fill="#000" font-family="&quot;Liberation Sans&quot;, sans-serif" textLength="17" lengthAdjust="spacingAndGlyphs" font-weight="bold" stroke="#000" stroke-width="0.25">2016.07.25</text>
<text x="750.5" y="524.9" font-size="5" text-anchor="middle" fill="#000" font-family="&quot;Liberation Sans&quot;, sans-serif" textLength="15.5" lengthAdjust="spacingAndGlyphs" font-weight="bold" stroke="#000" stroke-width="0.22">E.I.Jang</text>
<text x="750.5" y="531" font-size="5" text-anchor="middle" fill="#000" font-family="&quot;Liberation Sans&quot;, sans-serif" textLength="17" lengthAdjust="spacingAndGlyphs" font-weight="bold" stroke="#000" stroke-width="0.25">2016.07.25</text>
<text x="769.5" y="524.9" font-size="5" text-anchor="middle" fill="#000" font-family="&quot;Liberation Sans&quot;, sans-serif" textLength="15.5" lengthAdjust="spacingAndGlyphs" font-weight="bold" stroke="#000" stroke-width="0.22">S.M. Han</text>
<text x="769.5" y="531" font-size="5" text-anchor="middle" fill="#000" font-family="&quot;Liberation Sans&quot;, sans-serif" textLength="17" lengthAdjust="spacingAndGlyphs" font-weight="bold" stroke="#000" stroke-width="0.25">2016.07.25</text>
<text x="712.1" y="537.7" font-size="5" text-anchor="middle" fill="#000" font-family="&quot;Liberation Sans&quot;, sans-serif" textLength="15.5" lengthAdjust="spacingAndGlyphs" font-weight="bold" stroke="#000" stroke-width="0.22">S.M. Ha</text>
<text x="712.1" y="544" font-size="5" text-anchor="middle" fill="#000" font-family="&quot;Liberation Sans&quot;, sans-serif" textLength="17" lengthAdjust="spacingAndGlyphs" font-weight="bold" stroke="#000" stroke-width="0.25">2016.07.08</text>
<text x="731.3" y="537.7" font-size="5" text-anchor="middle" fill="#000" font-family="&quot;Liberation Sans&quot;, sans-serif" textLength="15.5" lengthAdjust="spacingAndGlyphs" font-weight="bold" stroke="#000" stroke-width="0.22">S.M. Ha</text>
<text x="731.3" y="544" font-size="5" text-anchor="middle" fill="#000" font-family="&quot;Liberation Sans&quot;, sans-serif" textLength="17" lengthAdjust="spacingAndGlyphs" font-weight="bold" stroke="#000" stroke-width="0.25">2016.07.08</text>
<text x="750.5" y="537.7" font-size="5" text-anchor="middle" fill="#000" font-family="&quot;Liberation Sans&quot;, sans-serif" textLength="15.5" lengthAdjust="spacingAndGlyphs" font-weight="bold" stroke="#000" stroke-width="0.22">E.I.Jang</text>
<text x="750.5" y="544" font-size="5" text-anchor="middle" fill="#000" font-family="&quot;Liberation Sans&quot;, sans-serif" textLength="17" lengthAdjust="spacingAndGlyphs" font-weight="bold" stroke="#000" stroke-width="0.25">2016.07.08</text>
<text x="769.5" y="537.7" font-size="5" text-anchor="middle" fill="#000" font-family="&quot;Liberation Sans&quot;, sans-serif" textLength="15.5" lengthAdjust="spacingAndGlyphs" font-weight="bold" stroke="#000" stroke-width="0.22">D.K.Yun</text>
<text x="769.5" y="544" font-size="5" text-anchor="middle" fill="#000" font-family="&quot;Liberation Sans&quot;, sans-serif" textLength="17" lengthAdjust="spacingAndGlyphs" font-weight="bold" stroke="#000" stroke-width="0.25">2016.07.11</text>
<text x="712.1" y="550.7" font-size="5" text-anchor="middle" fill="#000" font-family="&quot;Liberation Sans&quot;, sans-serif" textLength="15.5" lengthAdjust="spacingAndGlyphs" font-weight="bold" stroke="#000" stroke-width="0.22">G.J.Park</text>
<text x="712.1" y="556.8" font-size="5" text-anchor="middle" fill="#000" font-family="&quot;Liberation Sans&quot;, sans-serif" textLength="17" lengthAdjust="spacingAndGlyphs" font-weight="bold" stroke="#000" stroke-width="0.25">2015.12.28</text>
<text x="731.3" y="550.7" font-size="5" text-anchor="middle" fill="#000" font-family="&quot;Liberation Sans&quot;, sans-serif" textLength="15.5" lengthAdjust="spacingAndGlyphs" font-weight="bold" stroke="#000" stroke-width="0.22">G.J.Park</text>
<text x="731.3" y="556.8" font-size="5" text-anchor="middle" fill="#000" font-family="&quot;Liberation Sans&quot;, sans-serif" textLength="17" lengthAdjust="spacingAndGlyphs" font-weight="bold" stroke="#000" stroke-width="0.25">2015.12.28</text>
<text x="750.5" y="550.7" font-size="5" text-anchor="middle" fill="#000" font-family="&quot;Liberation Sans&quot;, sans-serif" textLength="15.5" lengthAdjust="spacingAndGlyphs" font-weight="bold" stroke="#000" stroke-width="0.22">E.I.Jang</text>
<text x="750.5" y="556.8" font-size="5" text-anchor="middle" fill="#000" font-family="&quot;Liberation Sans&quot;, sans-serif" textLength="17" lengthAdjust="spacingAndGlyphs" font-weight="bold" stroke="#000" stroke-width="0.25">2015.12.28</text>
<text x="769.5" y="550.7" font-size="5" text-anchor="middle" fill="#000" font-family="&quot;Liberation Sans&quot;, sans-serif" textLength="15.5" lengthAdjust="spacingAndGlyphs" font-weight="bold" stroke="#000" stroke-width="0.22">D.K.Yun</text>
<text x="769.5" y="556.8" font-size="5" text-anchor="middle" fill="#000" font-family="&quot;Liberation Sans&quot;, sans-serif" textLength="17" lengthAdjust="spacingAndGlyphs" font-weight="bold" stroke="#000" stroke-width="0.25">2015.12.28</text>
<text x="781.5" y="527.6" font-size="5" text-anchor="start" fill="#000" font-family="&quot;Liberation Sans&quot;, &quot;Noto Sans CJK KR&quot;, &quot;NanumGothic&quot;, sans-serif" textLength="44" lengthAdjust="spacingAndGlyphs" stroke="#000" stroke-width="0.12">서비스탭 위치 추가</text>
<text x="781.5" y="540.4" font-size="5" text-anchor="start" fill="#000" font-family="&quot;Liberation Sans&quot;, &quot;Noto Sans CJK KR&quot;, &quot;NanumGothic&quot;, sans-serif" textLength="70" lengthAdjust="spacingAndGlyphs" stroke="#000" stroke-width="0.12">다이캐스팅변경으로인한3D수정</text>
<text x="781.5" y="553.2" font-size="5" text-anchor="start" fill="#000" font-family="&quot;Liberation Sans&quot;, sans-serif" textLength="25" lengthAdjust="spacingAndGlyphs" font-weight="bold" stroke="#000" stroke-width="0.22">First Issue</text>
<text x="873" y="514.5" font-size="5" text-anchor="middle" fill="#000" font-family="&quot;Liberation Sans&quot;, sans-serif" font-weight="bold" font-style="italic" stroke="#000" stroke-width="0.22">3</text>
<text x="873" y="527.6" font-size="5" text-anchor="middle" fill="#000" font-family="&quot;Liberation Sans&quot;, sans-serif" font-weight="bold" font-style="italic" stroke="#000" stroke-width="0.22">2</text>
<text x="873" y="540.4" font-size="5" text-anchor="middle" fill="#000" font-family="&quot;Liberation Sans&quot;, sans-serif" font-weight="bold" font-style="italic" stroke="#000" stroke-width="0.22">1</text>
<text x="873" y="553.2" font-size="5" text-anchor="middle" fill="#000" font-family="&quot;Liberation Sans&quot;, sans-serif" font-weight="bold" font-style="italic" stroke="#000" stroke-width="0.22">0</text>
<text x="862.5" y="527.6" font-size="5" text-anchor="middle" fill="#000" font-family="&quot;Liberation Sans&quot;, sans-serif" font-weight="bold" font-style="italic" stroke="#000" stroke-width="0.22">2</text>
<text x="862.5" y="540.4" font-size="5" text-anchor="middle" fill="#000" font-family="&quot;Liberation Sans&quot;, sans-serif" font-weight="bold" font-style="italic" stroke="#000" stroke-width="0.22">1</text>
<text x="692.5" y="563" font-size="5" text-anchor="middle" fill="#484848" font-family="&quot;Liberation Sans&quot;, sans-serif" textLength="9" lengthAdjust="spacingAndGlyphs">DWN</text>
<text x="712" y="563" font-size="5" text-anchor="middle" fill="#484848" font-family="&quot;Liberation Sans&quot;, sans-serif" textLength="11" lengthAdjust="spacingAndGlyphs">DSND</text>
<text x="731.3" y="563" font-size="5" text-anchor="middle" fill="#484848" font-family="&quot;Liberation Sans&quot;, sans-serif" textLength="11" lengthAdjust="spacingAndGlyphs">CHKD</text>
<text x="750.5" y="563" font-size="5" text-anchor="middle" fill="#484848" font-family="&quot;Liberation Sans&quot;, sans-serif" textLength="11" lengthAdjust="spacingAndGlyphs">CHKD</text>
<text x="769.5" y="563" font-size="5" text-anchor="middle" fill="#484848" font-family="&quot;Liberation Sans&quot;, sans-serif" textLength="11" lengthAdjust="spacingAndGlyphs">APPD</text>
<text x="818" y="563" font-size="5" text-anchor="middle" fill="#484848" font-family="&quot;Liberation Sans&quot;, sans-serif" textLength="57" lengthAdjust="spacingAndGlyphs">REASON FOR MODIFICATION</text>
<text x="862.5" y="563" font-size="5" text-anchor="middle" fill="#484848" font-family="&quot;Liberation Sans&quot;, sans-serif" textLength="8.5" lengthAdjust="spacingAndGlyphs">Q&#x27;TY</text>
<text x="873" y="563" font-size="5" text-anchor="middle" fill="#484848" font-family="&quot;Liberation Sans&quot;, sans-serif" textLength="6.5" lengthAdjust="spacingAndGlyphs">NO.</text>
<line x1="675.6" y1="564.4" x2="675.6" y2="614.2" stroke="#000" stroke-width="1.6"/>
<line x1="682.4" y1="564.4" x2="682.4" y2="614.2" stroke="#000" stroke-width="0.7"/>
<line x1="721.6" y1="564.4" x2="721.6" y2="614.2" stroke="#000" stroke-width="0.9"/>
<line x1="682.4" y1="573" x2="857" y2="573" stroke="#000" stroke-width="0.7"/>
<line x1="682.4" y1="585.4" x2="721.6" y2="585.4" stroke="#000" stroke-width="0.7"/>
<line x1="682.4" y1="597.5" x2="808" y2="597.5" stroke="#000" stroke-width="0.7"/>
<line x1="808" y1="598" x2="878" y2="598" stroke="#000" stroke-width="0.7"/>
<line x1="808" y1="564.4" x2="808" y2="598" stroke="#000" stroke-width="0.9"/>
<line x1="831" y1="564.4" x2="831" y2="573" stroke="#000" stroke-width="0.7"/>
<line x1="857" y1="573" x2="878" y2="573" stroke="#000" stroke-width="0.7"/>
<line x1="857" y1="582" x2="878" y2="582" stroke="#000" stroke-width="0.7"/>
<text x="684" y="569.96" font-size="6" text-anchor="start" fill="#484848" font-family="&quot;Liberation Sans&quot;, sans-serif" textLength="12.7" lengthAdjust="spacingAndGlyphs">SCALE</text>
<text x="720" y="572.16" font-size="6" text-anchor="end" fill="#000" font-family="&quot;Liberation Sans&quot;, sans-serif" textLength="6.5" lengthAdjust="spacingAndGlyphs" font-style="italic" stroke="#000" stroke-width="0.2">1/1</text>
<text x="684" y="578.76" font-size="6" text-anchor="start" fill="#484848" font-family="&quot;Liberation Sans&quot;, sans-serif" textLength="17.5" lengthAdjust="spacingAndGlyphs">UNIT NO.</text>
<text x="719.5" y="583.96" font-size="6" text-anchor="end" fill="#000" font-family="&quot;Liberation Sans&quot;, sans-serif" textLength="10" lengthAdjust="spacingAndGlyphs" font-weight="bold" font-style="italic" stroke="#000" stroke-width="0.22">7000</text>
<text x="684" y="590.96" font-size="6" text-anchor="start" fill="#484848" font-family="&quot;Liberation Sans&quot;, sans-serif" textLength="18.5" lengthAdjust="spacingAndGlyphs">INFO NO.</text>
<text x="719.5" y="595.96" font-size="6" text-anchor="end" fill="#000" font-family="&quot;Liberation Sans&quot;, sans-serif" textLength="25.3" lengthAdjust="spacingAndGlyphs" font-weight="bold" font-style="italic" stroke="#000" stroke-width="0.22">70-00-0001</text>
<text x="703.4" y="601.4" font-size="5" text-anchor="middle" fill="#484848" font-family="&quot;Liberation Sans&quot;, sans-serif" textLength="18.7" lengthAdjust="spacingAndGlyphs">PAINTING</text>
<text x="690.5" y="605.2" font-size="5" text-anchor="middle" fill="#000" font-family="&quot;Liberation Sans&quot;, sans-serif" textLength="9.5" lengthAdjust="spacingAndGlyphs" font-weight="bold" stroke="#000" stroke-width="0.3">MAKER</text>
<text x="709.4" y="605.2" font-size="5" text-anchor="middle" fill="#000" font-family="&quot;Liberation Sans&quot;, sans-serif" textLength="9.5" lengthAdjust="spacingAndGlyphs" font-weight="bold" stroke="#000" stroke-width="0.3">COLOR</text>
<line x1="682.4" y1="605.4" x2="721.6" y2="605.4" stroke="#000" stroke-width="0.7"/>
<line x1="682.4" y1="609.6" x2="721.6" y2="609.6" stroke="#000" stroke-width="0.7"/>
<rect x="684" y="605.5" width="13.3" height="4.1" rx="0" fill="none" stroke="#000" stroke-width="0.7"/>
<rect x="702.7" y="605.5" width="13.3" height="4.1" rx="0" fill="none" stroke="#000" stroke-width="0.7"/>
<text x="690.6" y="609.4" font-size="5" text-anchor="middle" fill="#000" font-family="&quot;Liberation Sans&quot;, sans-serif" textLength="8" lengthAdjust="spacingAndGlyphs" font-weight="bold" stroke="#000" stroke-width="0.3">KCC</text>
<text x="709.4" y="609.4" font-size="5" text-anchor="middle" fill="#000" font-family="&quot;Liberation Sans&quot;, sans-serif" textLength="8" lengthAdjust="spacingAndGlyphs" font-weight="bold" stroke="#000" stroke-width="0.3">N7.5</text>
<rect x="682.8" y="609.6" width="15.3" height="4.4" rx="0" fill="none" stroke="#000" stroke-width="0.7"/>
<rect x="700.7" y="609.6" width="16.6" height="4.4" rx="0" fill="none" stroke="#000" stroke-width="0.7"/>
<text x="690.4" y="613.7" font-size="5" text-anchor="middle" fill="#000" font-family="&quot;Liberation Sans&quot;, sans-serif" textLength="13" lengthAdjust="spacingAndGlyphs" font-weight="bold" stroke="#000" stroke-width="0.3">IN. FINISH</text>
<text x="709" y="613.7" font-size="5" text-anchor="middle" fill="#000" font-family="&quot;Liberation Sans&quot;, sans-serif" textLength="14" lengthAdjust="spacingAndGlyphs" font-weight="bold" stroke="#000" stroke-width="0.3">EX. FINISH</text>
<text font-size="4" font-family="&quot;Liberation Sans&quot;, sans-serif" fill="#555" textLength="42" lengthAdjust="spacingAndGlyphs" transform="translate(681 610.7) rotate(-90)">ISO 7 Confidential Code</text>
<text x="723" y="569.96" font-size="6" text-anchor="start" fill="#484848" font-family="&quot;Liberation Sans&quot;, sans-serif" textLength="19" lengthAdjust="spacingAndGlyphs">PROJECT</text>
<text x="723" y="578.96" font-size="6" text-anchor="start" fill="#484848" font-family="&quot;Liberation Sans&quot;, sans-serif" textLength="11" lengthAdjust="spacingAndGlyphs">TITLE</text>
<text x="766" y="583.96" font-size="6" text-anchor="middle" fill="#000" font-family="&quot;Liberation Sans&quot;, sans-serif" textLength="30" lengthAdjust="spacingAndGlyphs" font-weight="bold" font-style="italic" stroke="#000" stroke-width="0.22">GENERAL ASSY</text>
<line x1="728" y1="585.8" x2="801" y2="585.8" stroke="#000" stroke-width="0.6"/>
<text x="723.7" y="602.36" font-size="6" text-anchor="start" fill="#484848" font-family="&quot;Liberation Sans&quot;, sans-serif" textLength="15" lengthAdjust="spacingAndGlyphs">W/O NO.</text>
<line x1="752" y1="598" x2="752" y2="614.2" stroke="#484848" stroke-width="0.5"/>
<line x1="790" y1="598" x2="790" y2="614.2" stroke="#484848" stroke-width="0.5"/>
<line x1="752" y1="609.6" x2="790" y2="609.6" stroke="#484848" stroke-width="0.5"/>
<line x1="752" y1="612.3" x2="790" y2="612.3" stroke="#484848" stroke-width="0.5"/>
<text x="817" y="570.6" font-size="5" text-anchor="middle" fill="#000" font-family="&quot;Liberation Sans&quot;, sans-serif" font-weight="bold" font-style="italic" stroke="#000" stroke-width="0.22">1</text>
<text x="824.5" y="570.6" font-size="5" text-anchor="middle" fill="#484848" font-family="&quot;Liberation Sans&quot;, sans-serif" textLength="7" lengthAdjust="spacingAndGlyphs">SET</text>
<path d="M833.5 566.2 L845.5 567.8 L845.5 569.8 L833.5 571.4 Z" fill="none" stroke="#000" stroke-width="0.6"/>
<line x1="832" y1="568.8" x2="856" y2="568.8" stroke="#000" stroke-width="0.4"/>
<circle cx="851.5" cy="568.8" r="2.9" fill="none" stroke="#000" stroke-width="0.6"/>
<circle cx="851.5" cy="568.8" r="1.5" fill="none" stroke="#000" stroke-width="0.6"/>
<line x1="851.5" y1="565" x2="851.5" y2="572.6" stroke="#000" stroke-width="0.4"/>
<text x="862.5" y="570.6" font-size="5" text-anchor="middle" fill="#484848" font-family="&quot;Liberation Sans&quot;, sans-serif" textLength="6.5" lengthAdjust="spacingAndGlyphs">CC</text>
<text x="873" y="570.6" font-size="5" text-anchor="middle" fill="#000" font-family="&quot;Liberation Sans&quot;, sans-serif" font-weight="bold" font-style="italic" stroke="#000" stroke-width="0.22">A</text>
<text x="862.5" y="579.4" font-size="5" text-anchor="middle" fill="#484848" font-family="&quot;Liberation Sans&quot;, sans-serif" textLength="9.5" lengthAdjust="spacingAndGlyphs">Sheet</text>
<text x="873" y="579.4" font-size="5" text-anchor="middle" fill="#000" font-family="&quot;Liberation Sans&quot;, sans-serif" textLength="6" lengthAdjust="spacingAndGlyphs" font-weight="bold" font-style="italic" stroke="#000" stroke-width="0.22">1/1</text>
<text x="814" y="581.46" font-size="6" text-anchor="start" fill="#484848" font-family="&quot;Liberation Sans&quot;, sans-serif" textLength="17" lengthAdjust="spacingAndGlyphs">DWG NO.</text>
<text x="841.5" y="591.04" font-size="9" text-anchor="middle" fill="#000" font-family="&quot;Liberation Sans&quot;, sans-serif" textLength="55" lengthAdjust="spacingAndGlyphs" font-style="italic">R71-013556-2.2</text>
<path d="M795.5 607 L800.2 599.3 L805 607 Z" fill="none" stroke="#000" stroke-width="1.3"/>
<text x="838.8" y="607.06" font-size="11" text-anchor="middle" fill="#000" font-family="&quot;Liberation Sans&quot;, sans-serif" textLength="62.5" lengthAdjust="spacingAndGlyphs" font-weight="bold">HYUNDAI</text>
<text x="823" y="612.3" font-size="5" text-anchor="middle" fill="#000" font-family="&quot;Liberation Sans&quot;, sans-serif" textLength="33" lengthAdjust="spacingAndGlyphs" font-weight="bold" stroke="#000" stroke-width="0.3">ROBOTICS</text>
<path d="M408.71 556.02 A189 189 0 1 0 111.3 401.2" fill="none" stroke="#000" stroke-width="0.9"/>
<path d="M111.3 401.2 A94.7 94.7 0 0 0 256.18 481.51" fill="none" stroke="#000" stroke-width="0.9"/>
<path d="M270.12 433.4 A95 95 0 0 0 408.49 555.82" fill="none" stroke="#000" stroke-width="0.9"/>
<path d="M313.5 563.3 A91.5 91.5 0 0 0 331.74 426.61" fill="none" stroke="#000" stroke-width="0.9"/>
<path d="M332.78 426.22 A41 41 0 0 0 307.42 360.82" fill="none" stroke="#000" stroke-width="0.75"/>
<path d="M319.23 428.23 A33 33 0 1 0 267.3 401.2" fill="none" stroke="#000" stroke-width="0.75"/>
<path d="M263.26 325.25 A84.5 84.5 0 0 0 258.05 474.38" fill="none" stroke="#000" stroke-width="0.75"/>
<path d="M234.5 401.2 A21 21 0 1 0 211.67 422.12" fill="none" stroke="#000" stroke-width="0.75"/>
<path d="M317.16 326.08 A33.7 33.7 0 1 0 271.04 315.85" fill="none" stroke="#000" stroke-width="0.75"/>
<path d="M378.67 313.28 A22 22 0 1 0 378.67 282.72" fill="none" stroke="#000" stroke-width="0.75"/>
<line x1="394.5" y1="298" x2="378.7" y2="282.5" stroke="#000" stroke-width="0.75"/>
<line x1="394.5" y1="298" x2="378.7" y2="312.9" stroke="#000" stroke-width="0.75"/>
<path d="M336.64 521.37 A30.5 30.5 0 0 0 383.3 495.5" fill="none" stroke="#000" stroke-width="0.75"/>
<line x1="205.8" y1="401.2" x2="394.5" y2="401.2" stroke="#000" stroke-width="0.75"/>
<line x1="394.5" y1="392.5" x2="394.5" y2="401.2" stroke="#000" stroke-width="0.75"/>
<line x1="394.5" y1="392.5" x2="488.7" y2="401.2" stroke="#000" stroke-width="0.75"/>
<path d="M205.8 401.2 L211 396.2 L215 401.2" fill="none" stroke="#000" stroke-width="0.75"/>
<line x1="213.7" y1="401.2" x2="213.7" y2="495.5" stroke="#000" stroke-width="0.75"/>
<path d="M300.3 401.2 L372.3 340 L379.5 344.1 L331.5 425.8" fill="none" stroke="#000" stroke-width="0.75"/>
<line x1="220.8" y1="349.7" x2="300.3" y2="401.2" stroke="#000" stroke-width="0.75"/>
<path d="M220.8 349.7 L229.2 349.7 L229.2 358 L220.8 349.7" fill="none" stroke="#000" stroke-width="0.75"/>
<line x1="229.2" y1="349.7" x2="229.2" y2="444.5" stroke="#000" stroke-width="0.75"/>
<path d="M230.42 443.34 A87.5 87.5 0 0 0 212.81 497.53" fill="none" stroke="#000" stroke-width="0.75"/>
<line x1="214.5" y1="401.2" x2="255.2" y2="470" stroke="#000" stroke-width="0.75"/>
<path d="M226 364 L306 303.5 L300.5 311" fill="none" stroke="#000" stroke-width="0.75"/>
<line x1="264.2" y1="326.3" x2="284" y2="346" stroke="#000" stroke-width="0.75"/>
<path d="M300 307.3 L306 304 L339.5 394.5" fill="none" stroke="#000" stroke-width="0.75"/>
<line x1="300.3" y1="401.2" x2="353.3" y2="477.6" stroke="#000" stroke-width="0.75"/>
<line x1="298.7" y1="446" x2="350" y2="486" stroke="#000" stroke-width="0.75"/>
<path d="M352.5 475.5 L361.2 482.5 L353.7 495.5 L313.7 563.7 L341 518.5 L356 480" fill="none" stroke="#000" stroke-width="0.75"/>
<path d="M396.5 293 L445 193.3 L470 193.3" fill="none" stroke="#000" stroke-width="0.75"/>
<line x1="402" y1="135" x2="445" y2="193.3" stroke="#000" stroke-width="0.75"/>
<path d="M452.5 288.7 L513.3 186.6 L547 186.6" fill="none" stroke="#000" stroke-width="0.75"/>
<line x1="484" y1="172.5" x2="513.3" y2="186.6" stroke="#000" stroke-width="0.75"/>
<text x="460" y="191.1" font-size="5" text-anchor="middle" fill="#000" font-family="&quot;Liberation Sans&quot;, sans-serif" textLength="18.5" lengthAdjust="spacingAndGlyphs" font-weight="bold" stroke="#000" stroke-width="0.22">POINT A</text>
<text x="534" y="184.1" font-size="5" text-anchor="middle" fill="#000" font-family="&quot;Liberation Sans&quot;, sans-serif" textLength="26" lengthAdjust="spacingAndGlyphs" font-weight="bold" stroke="#000" stroke-width="0.22">LOCUS of A</text>
<line x1="213" y1="495.5" x2="504.5" y2="495.5" stroke="#000" stroke-width="0.7"/>
<line x1="300" y1="212" x2="505" y2="212" stroke="#000" stroke-width="0.75"/>
<line x1="503.3" y1="212" x2="503.3" y2="572.8" stroke="#000" stroke-width="0.75"/>
<line x1="352.5" y1="572.8" x2="505" y2="572.8" stroke="#000" stroke-width="0.75"/>
<line x1="489.2" y1="400" x2="489.2" y2="585.6" stroke="#000" stroke-width="0.75"/>
<line x1="291.3" y1="258" x2="291.3" y2="586" stroke="#000" stroke-width="0.75"/>
<line x1="299.6" y1="258" x2="299.6" y2="440" stroke="#000" stroke-width="0.75"/>
<line x1="291.3" y1="585.6" x2="489.2" y2="585.6" stroke="#000" stroke-width="0.75"/>
<text x="390" y="583.6" font-size="5" text-anchor="middle" fill="#000" font-family="&quot;Liberation Sans&quot;, sans-serif" textLength="8" lengthAdjust="spacingAndGlyphs" font-weight="bold" stroke="#000" stroke-width="0.22">932</text>
<text x="500" y="354.8" font-size="5" text-anchor="middle" fill="#000" font-family="&quot;Liberation Sans&quot;, sans-serif" textLength="10.5" lengthAdjust="spacingAndGlyphs" transform="rotate(-90 500 353)" font-weight="bold" stroke="#000" stroke-width="0.22">1338</text>
<text x="500" y="535.8" font-size="5" text-anchor="middle" fill="#000" font-family="&quot;Liberation Sans&quot;, sans-serif" textLength="8" lengthAdjust="spacingAndGlyphs" transform="rotate(-90 500 534)" font-weight="bold" stroke="#000" stroke-width="0.22">365</text>
<line x1="284" y1="259.4" x2="413.5" y2="259.4" stroke="#000" stroke-width="0.75"/>
<line x1="394.4" y1="258" x2="394.4" y2="313" stroke="#000" stroke-width="0.75"/>
<line x1="412.6" y1="258" x2="412.6" y2="292" stroke="#000" stroke-width="0.75"/>
<text x="295.6" y="257.2" font-size="5" text-anchor="middle" fill="#000" font-family="&quot;Liberation Sans&quot;, sans-serif" textLength="5.2" lengthAdjust="spacingAndGlyphs" font-weight="bold" stroke="#000" stroke-width="0.22">40</text>
<text x="347.4" y="257.2" font-size="5" text-anchor="middle" fill="#000" font-family="&quot;Liberation Sans&quot;, sans-serif" textLength="8" lengthAdjust="spacingAndGlyphs" font-weight="bold" stroke="#000" stroke-width="0.22">445</text>
<text x="403" y="257.2" font-size="5" text-anchor="middle" fill="#000" font-family="&quot;Liberation Sans&quot;, sans-serif" textLength="10" lengthAdjust="spacingAndGlyphs" font-weight="bold" stroke="#000" stroke-width="0.22">86.5</text>
<line x1="240.6" y1="284" x2="240.6" y2="496" stroke="#000" stroke-width="0.75"/>
<line x1="256" y1="288" x2="256" y2="496" stroke="#000" stroke-width="0.75"/>
<line x1="239" y1="285.6" x2="284" y2="285.6" stroke="#000" stroke-width="0.75"/>
<line x1="250" y1="298" x2="290" y2="298" stroke="#000" stroke-width="0.75"/>
<line x1="250" y1="306.8" x2="290" y2="306.8" stroke="#000" stroke-width="0.75"/>
<text x="252.4" y="304.2" font-size="5" text-anchor="middle" fill="#000" font-family="&quot;Liberation Sans&quot;, sans-serif" textLength="5.2" lengthAdjust="spacingAndGlyphs" transform="rotate(-90 252.4 302.4)" font-weight="bold" stroke="#000" stroke-width="0.22">40</text>
<text x="237" y="392.8" font-size="5" text-anchor="middle" fill="#000" font-family="&quot;Liberation Sans&quot;, sans-serif" textLength="8" lengthAdjust="spacingAndGlyphs" transform="rotate(-90 237 391)" font-weight="bold" stroke="#000" stroke-width="0.22">889</text>
<text x="252.2" y="384.3" font-size="5" text-anchor="middle" fill="#000" font-family="&quot;Liberation Sans&quot;, sans-serif" textLength="8" lengthAdjust="spacingAndGlyphs" transform="rotate(-90 252.2 382.5)" font-weight="bold" stroke="#000" stroke-width="0.22">445</text>
<text x="252.5" y="434.3" font-size="5" text-anchor="middle" fill="#000" font-family="&quot;Liberation Sans&quot;, sans-serif" textLength="8" lengthAdjust="spacingAndGlyphs" transform="rotate(-90 252.5 432.5)" font-weight="bold" stroke="#000" stroke-width="0.22">446</text>
<line x1="266.5" y1="362.4" x2="310" y2="362.4" stroke="#000" stroke-width="0.75"/>
<line x1="266.6" y1="362.4" x2="266.6" y2="401.2" stroke="#000" stroke-width="0.75"/>
<rect x="258.3" y="379" width="8.6" height="17.2" rx="2" fill="none" stroke="#000" stroke-width="0.75"/>
<text x="262.6" y="389.4" font-size="5" text-anchor="middle" fill="#000" font-family="&quot;Liberation Sans&quot;, sans-serif" textLength="12" lengthAdjust="spacingAndGlyphs" transform="rotate(-90 262.6 387.6)" font-weight="bold" stroke="#000" stroke-width="0.22">181.2</text>
<text x="273" y="376.3" font-size="5" text-anchor="middle" fill="#000" font-family="&quot;Liberation Sans&quot;, sans-serif" textLength="11" lengthAdjust="spacingAndGlyphs" transform="rotate(-45 273 374.5)" font-weight="bold" stroke="#000" stroke-width="0.22">+180°</text>
<text x="271" y="316.8" font-size="5" text-anchor="middle" fill="#000" font-family="&quot;Liberation Sans&quot;, sans-serif" textLength="11" lengthAdjust="spacingAndGlyphs" transform="rotate(72 271 315)" font-weight="bold" stroke="#000" stroke-width="0.22">+213°</text>
<text x="332.8" y="318.3" font-size="5" text-anchor="middle" fill="#000" font-family="&quot;Liberation Sans&quot;, sans-serif" textLength="9" lengthAdjust="spacingAndGlyphs" transform="rotate(-60 332.8 316.5)" font-weight="bold" stroke="#000" stroke-width="0.22">-70°</text>
<text x="326" y="415.8" font-size="5" text-anchor="middle" fill="#000" font-family="&quot;Liberation Sans&quot;, sans-serif" textLength="9" lengthAdjust="spacingAndGlyphs" transform="rotate(-70 326 414)" font-weight="bold" stroke="#000" stroke-width="0.22">-55°</text>
<text x="201" y="414.3" font-size="5" text-anchor="middle" fill="#000" font-family="&quot;Liberation Sans&quot;, sans-serif" textLength="11" lengthAdjust="spacingAndGlyphs" transform="rotate(60 201 412.5)" font-weight="bold" stroke="#000" stroke-width="0.22">+270°</text>
<text x="404" y="277.1" font-size="5" text-anchor="middle" fill="#000" font-family="&quot;Liberation Sans&quot;, sans-serif" textLength="11" lengthAdjust="spacingAndGlyphs" transform="rotate(20 404 275.3)" font-weight="bold" stroke="#000" stroke-width="0.22">+135°</text>
<text x="401.5" y="316.6" font-size="5" text-anchor="middle" fill="#000" font-family="&quot;Liberation Sans&quot;, sans-serif" textLength="11" lengthAdjust="spacingAndGlyphs" transform="rotate(-30 401.5 314.8)" font-weight="bold" stroke="#000" stroke-width="0.22">-135°</text>
<text x="367.5" y="519.1" font-size="5" text-anchor="middle" fill="#000" font-family="&quot;Liberation Sans&quot;, sans-serif" textLength="11" lengthAdjust="spacingAndGlyphs" transform="rotate(-30 367.5 517.3)" font-weight="bold" stroke="#000" stroke-width="0.22">-122°</text>
<text x="376" y="430.6" font-size="5" text-anchor="middle" fill="#000" font-family="&quot;Liberation Sans&quot;, sans-serif" textLength="36" lengthAdjust="spacingAndGlyphs" font-weight="bold" stroke="#000" stroke-width="0.22">2-M6 TAP DP10</text>
<path d="M394.5 431.8 L357.5 431.8 L311 447.5" fill="none" stroke="#000" stroke-width="0.75"/>
<path d="M176 349.2 L186 349.2 L181 341.4 Z" fill="none" stroke="#000" stroke-width="0.8"/>
<text x="181" y="348.2" font-size="5" text-anchor="middle" fill="#000" font-family="&quot;Liberation Sans&quot;, sans-serif" font-weight="bold" stroke="#000" stroke-width="0.22">2</text>
<path d="M258.7 412.6 L268.7 412.6 L263.7 404.8 Z" fill="none" stroke="#000" stroke-width="0.8"/>
<text x="263.7" y="411.6" font-size="5" text-anchor="middle" fill="#000" font-family="&quot;Liberation Sans&quot;, sans-serif" font-weight="bold" stroke="#000" stroke-width="0.22">2</text>
<path d="M514.3 515.6 L524.3 515.6 L519.3 507.8 Z" fill="none" stroke="#000" stroke-width="0.8"/>
<text x="519.3" y="514.6" font-size="5" text-anchor="middle" fill="#000" font-family="&quot;Liberation Sans&quot;, sans-serif" font-weight="bold" stroke="#000" stroke-width="0.22">2</text>
<path d="M368.6 89 L378.6 89 L373.6 81.2 Z" fill="none" stroke="#000" stroke-width="0.8"/>
<text x="373.6" y="88" font-size="5" text-anchor="middle" fill="#000" font-family="&quot;Liberation Sans&quot;, sans-serif" font-weight="bold" stroke="#000" stroke-width="0.22">2</text>
<path d="M113.7 463.7 L123 463.7 L123 460 L128.2 469 L123 478 L123 474.3 L113.7 474.3 Z" fill="none" stroke="#000" stroke-width="0.7"/>
<text x="118.6" y="472.44" font-size="9" text-anchor="middle" fill="#5a5a5a" font-family="&quot;Liberation Sans&quot;, sans-serif" textLength="4.6" lengthAdjust="spacingAndGlyphs">C</text>
<path d="M190 353.1 L199.5 353.1 L199.5 349.4 L203.7 358.4 L199.5 367.4 L199.5 363.7 L190 363.7 Z" fill="none" stroke="#000" stroke-width="0.7"/>
<text x="194.8" y="361.84" font-size="9" text-anchor="middle" fill="#5a5a5a" font-family="&quot;Liberation Sans&quot;, sans-serif" textLength="4.6" lengthAdjust="spacingAndGlyphs">E</text>
<rect x="187" y="345.5" width="19" height="25.5" rx="2.5" fill="none" stroke="#000" stroke-width="0.9" stroke-dasharray="2.2 0.8 0.6 0.8"/>
<path d="M329.6 231.6 L341 231.6 L341 239.4 L344.6 239.4 L335.3 244.8 L325.6 239.4 L329.6 239.4 Z" fill="none" stroke="#000" stroke-width="0.7"/>
<text x="335.3" y="239.24" font-size="9" text-anchor="middle" fill="#5a5a5a" font-family="&quot;Liberation Sans&quot;, sans-serif" textLength="4.6" lengthAdjust="spacingAndGlyphs">D</text>
<path d="M267 562.5 L277.8 562.5 L277.8 555 L281 555 L272.4 549.5 L263.6 555 L267 555 Z" fill="none" stroke="#000" stroke-width="0.7"/>
<text x="272.4" y="562.04" font-size="9" text-anchor="middle" fill="#5a5a5a" font-family="&quot;Liberation Sans&quot;, sans-serif" textLength="4.6" lengthAdjust="spacingAndGlyphs">B</text>
<path d="M513.6 120 L505.4 120 L505.4 117 L499.4 125.6 L505.4 134.4 L505.4 131.4 L513.6 131.4 Z" fill="none" stroke="#000" stroke-width="0.7"/>
<text x="509.5" y="129.14" font-size="9" text-anchor="middle" fill="#5a5a5a" font-family="&quot;Liberation Sans&quot;, sans-serif" textLength="4.8" lengthAdjust="spacingAndGlyphs">A</text>
<path d="M264.9 495.3 L264.9 455.5 L269.4 450 L311.9 450 L311.9 495.3 Z" fill="none" stroke="#000" stroke-width="1.2"/>
<rect x="269.4" y="445.6" width="43.4" height="4.4" rx="0" fill="none" stroke="#000" stroke-width="1.0"/>
<rect x="273" y="433.8" width="36.2" height="11.8" rx="0" fill="none" stroke="#000" stroke-width="1.1"/>
<line x1="276.5" y1="443.6" x2="305.5" y2="443.6" stroke="#222" stroke-width="1.5"/>
<rect x="276.5" y="436.5" width="29" height="4.4" rx="0" fill="none" stroke="#000" stroke-width="0.6"/>
<line x1="266" y1="491.6" x2="311" y2="491.6" stroke="#222" stroke-width="1.4"/>
<line x1="266" y1="493.8" x2="311" y2="493.8" stroke="#333" stroke-width="0.8"/>
<rect x="283.9" y="451" width="15.3" height="3.6" rx="1.8" fill="none" stroke="#000" stroke-width="1.2"/>
<line x1="277.5" y1="462.8" x2="276.6" y2="482.6" stroke="#000" stroke-width="0.8"/>
<line x1="283.9" y1="460" x2="289.3" y2="482.6" stroke="#000" stroke-width="0.8"/>
<line x1="308.3" y1="462" x2="308.3" y2="490" stroke="#000" stroke-width="0.8"/>
<line x1="267" y1="457" x2="267" y2="490" stroke="#000" stroke-width="0.6"/>
<line x1="291" y1="455.6" x2="309.2" y2="461.4" stroke="#000" stroke-width="0.7"/>
<line x1="292.9" y1="457.6" x2="309.2" y2="463.2" stroke="#000" stroke-width="0.7"/>
<rect x="254" y="464.6" width="10.9" height="23.4" rx="0" fill="#4a4a4a" stroke="#000" stroke-width="0.8"/>
<rect x="255.6" y="466.5" width="5.5" height="5" rx="0" fill="#eee" stroke="#000" stroke-width="0.5"/>
<rect x="255.6" y="480.5" width="5.5" height="5" rx="0" fill="#eee" stroke="#000" stroke-width="0.5"/>
<line x1="254" y1="476.2" x2="264.9" y2="476.2" stroke="#eee" stroke-width="1.0"/>
<line x1="262.6" y1="465" x2="262.6" y2="488" stroke="#ddd" stroke-width="0.7"/>
<path d="M316.4 399.5 C317 403,316 406,314.6 408.5 C312.5 412,309.5 415,307.4 418.5 C305.5 421.5,303.8 425,302.9 429.3 C303 433,302.5 435.5,301 437.4 C298.5 440.5,295.5 442.3,292 442.9 C288.5 443.5,284.5 443,281.2 441.5 C277 439.5,273.8 436.5,272.1 432 C273.8 427.5,276.5 423.5,278.5 418.5 C280.7 412,282.2 405.5,283 398.6" fill="none" stroke="#000" stroke-width="1.4"/>
<path d="M312 402 C309 411,303 419,300 428" fill="none" stroke="#000" stroke-width="0.5"/>
<path d="M283.6 399 A16.4 14.4 0 0 1 316.5 399.2" fill="none" stroke="#000" stroke-width="1.5"/>
<path d="M305.49 379.85 A19.4 19.4 0 0 0 293.51 379.85" fill="none" stroke="#000" stroke-width="0.6"/>
<path d="M283.6 313 C281.2 328,281.5 345,282 362 C282.3 375,282.6 388,283.3 398" fill="none" stroke="#000" stroke-width="1.0"/>
<path d="M311.3 313 C308.8 328,308.2 345,308.8 362 C309.2 372,309.6 380,310.3 384" fill="none" stroke="#000" stroke-width="1.0"/>
<path d="M284 322 C283.3 345,286 361.3,295.5 361.5 C305 361.3,308 345,308.6 322" fill="none" stroke="#000" stroke-width="0.9"/>
<line x1="284.5" y1="365" x2="286.5" y2="395" stroke="#000" stroke-width="0.5"/>
<line x1="306.5" y1="365" x2="305" y2="383" stroke="#000" stroke-width="0.5"/>
<path d="M310.98 311.79 A13 13 0 1 0 287.42 311.79" fill="none" stroke="#000" stroke-width="1.5"/>
<circle cx="283.5" cy="340.7" r="1.15" fill="#000" stroke="#000" stroke-width="0.3"/>
<circle cx="308.2" cy="341" r="1.15" fill="#000" stroke="#000" stroke-width="0.3"/>
<circle cx="284" cy="362.5" r="1.15" fill="#000" stroke="#000" stroke-width="0.3"/>
<circle cx="295.3" cy="361.5" r="1.15" fill="#000" stroke="#000" stroke-width="0.3"/>
<circle cx="307" cy="362.5" r="1.15" fill="#000" stroke="#000" stroke-width="0.3"/>
<circle cx="285" cy="385" r="1.15" fill="#000" stroke="#000" stroke-width="0.3"/>
<circle cx="309.2" cy="382.3" r="1.15" fill="#000" stroke="#000" stroke-width="0.3"/>
<circle cx="284.5" cy="397.3" r="1.15" fill="#000" stroke="#000" stroke-width="0.3"/>
<circle cx="305.5" cy="386.5" r="1.15" fill="#000" stroke="#000" stroke-width="0.3"/>
<circle cx="313" cy="409.5" r="1.15" fill="#000" stroke="#000" stroke-width="0.3"/>
<circle cx="278" cy="419.5" r="1.15" fill="#000" stroke="#000" stroke-width="0.3"/>
<circle cx="302" cy="296" r="1.15" fill="#000" stroke="#000" stroke-width="0.3"/>
<circle cx="286.5" cy="313.5" r="1.15" fill="#000" stroke="#000" stroke-width="0.3"/>
<circle cx="311.5" cy="312.5" r="1.15" fill="#000" stroke="#000" stroke-width="0.3"/>
<circle cx="276.5" cy="430.5" r="1.15" fill="#000" stroke="#000" stroke-width="0.3"/>
<circle cx="304" cy="431" r="1.15" fill="#000" stroke="#000" stroke-width="0.3"/>
<ellipse cx="282.2" cy="300.8" rx="4.6" ry="13.4" fill="none" stroke="#000" stroke-width="1.0"/>
<ellipse cx="282.8" cy="300.8" rx="2.6" ry="10.2" fill="none" stroke="#000" stroke-width="0.6"/>
<rect x="279.6" y="307.8" width="5.6" height="2.8" rx="0" fill="#111" stroke="#000" stroke-width="0.4"/>
<rect x="280.6" y="288.8" width="4.4" height="1.8" rx="0" fill="#111" stroke="#000" stroke-width="0.4"/>
<path d="M280 296 L284.5 295 M280 300 L284.5 299.2 M280 304 L284.5 303.4" fill="none" stroke="#000" stroke-width="0.5"/>
<line x1="283.5" y1="286.4" x2="343.5" y2="286.4" stroke="#000" stroke-width="1.5"/>
<line x1="290" y1="309.3" x2="343.5" y2="309.3" stroke="#000" stroke-width="1.2"/>
<line x1="318.3" y1="286.4" x2="318.3" y2="309.3" stroke="#000" stroke-width="0.8"/>
<line x1="320.2" y1="286.4" x2="320.2" y2="309.3" stroke="#000" stroke-width="0.8"/>
<line x1="339.2" y1="286.4" x2="339.2" y2="309.3" stroke="#000" stroke-width="0.8"/>
<line x1="341.3" y1="286.4" x2="341.3" y2="309.3" stroke="#000" stroke-width="0.8"/>
<line x1="343.5" y1="286.4" x2="343.5" y2="309.3" stroke="#000" stroke-width="0.8"/>
<path d="M343.5 287 L347 287 L348 285.8 L360 285.8 L361 287 L366 287 L366.8 286.2 L370 286.2 L370.8 287.4 L377 288.4 L398 295.2" fill="none" stroke="#000" stroke-width="1.2"/>
<path d="M343.5 310 L377 309.4 L398 300.8" fill="none" stroke="#000" stroke-width="1.2"/>
<rect x="345.8" y="289.2" width="30.9" height="18.3" rx="3.2" fill="none" stroke="#000" stroke-width="1.2"/>
<line x1="376.7" y1="291.2" x2="395" y2="296.4" stroke="#000" stroke-width="0.6"/>
<line x1="376.7" y1="305.6" x2="395" y2="299.8" stroke="#000" stroke-width="0.6"/>
<line x1="291.7" y1="291.3" x2="314.2" y2="291.3" stroke="#555" stroke-width="1.4"/>
<line x1="291.7" y1="304.9" x2="314.2" y2="304.9" stroke="#555" stroke-width="1.4"/>
<line x1="321" y1="291.3" x2="328" y2="291.3" stroke="#555" stroke-width="1.4"/>
<line x1="321" y1="304.9" x2="328" y2="304.9" stroke="#555" stroke-width="1.4"/>
<line x1="330" y1="291.3" x2="336.7" y2="291.3" stroke="#555" stroke-width="1.4"/>
<line x1="330" y1="304.9" x2="336.7" y2="304.9" stroke="#555" stroke-width="1.4"/>
<line x1="348.5" y1="291.3" x2="371.7" y2="291.3" stroke="#555" stroke-width="1.4"/>
<line x1="348.5" y1="304.9" x2="371.7" y2="304.9" stroke="#555" stroke-width="1.4"/>
<line x1="284" y1="297.6" x2="417" y2="297.6" stroke="#000" stroke-width="0.5"/>
<line x1="350" y1="294.8" x2="374" y2="294.8" stroke="#444" stroke-width="0.5"/>
<line x1="350" y1="301" x2="374" y2="301" stroke="#444" stroke-width="0.5"/>
<path d="M395.01 303.58 A5.6 5.6 0 1 0 395.01 292.42" fill="none" stroke="#000" stroke-width="1.0"/>
<path d="M395.2 301.39 A3.4 3.4 0 1 0 395.2 294.61" fill="none" stroke="#000" stroke-width="0.7"/>
<path d="M390 292.4 L396 292.6 M390 303.6 L396 303.4" fill="none" stroke="#000" stroke-width="0.7"/>
<rect x="399.6" y="292.6" width="3.8" height="10.8" rx="0" fill="none" stroke="#000" stroke-width="0.6"/>
<rect x="403.3" y="290.8" width="8.5" height="13.4" rx="0" fill="#1c1c1c" stroke="#000" stroke-width="0.7"/>
<rect x="404.6" y="292.6" width="2.2" height="9.8" rx="0" fill="#ddd" stroke="#000" stroke-width="0.3"/>
<rect x="408.2" y="293.4" width="2.4" height="8.2" rx="0" fill="#999" stroke="#000" stroke-width="0.3"/>
<path d="M156 94 L219.4 94 L216.5 100 L214.4 106 L215 118 L215.4 133.3 L213.4 146.2 L150 146.2 L153 139.5 L155 133.3 L153.5 118 L153 103 L154.5 98 Z" fill="none" stroke="#000" stroke-width="1.0"/>
<line x1="161" y1="97" x2="206.4" y2="97" stroke="#5a5a5a" stroke-width="2.0"/>
<line x1="161" y1="143.3" x2="206.4" y2="143.3" stroke="#5a5a5a" stroke-width="2.0"/>
<line x1="153.5" y1="103" x2="215" y2="103" stroke="#000" stroke-width="1.0"/>
<line x1="154.5" y1="137.3" x2="215" y2="137.3" stroke="#000" stroke-width="1.0"/>
<line x1="153.5" y1="107.6" x2="187" y2="107.6" stroke="#000" stroke-width="0.5"/>
<line x1="155" y1="133" x2="187" y2="133" stroke="#000" stroke-width="0.5"/>
<line x1="187.2" y1="102" x2="216" y2="98.5" stroke="#000" stroke-width="0.6"/>
<line x1="187.2" y1="103" x2="187.2" y2="137.3" stroke="#000" stroke-width="1.0"/>
<line x1="189" y1="103" x2="189" y2="137.3" stroke="#000" stroke-width="0.5"/>
<line x1="161.6" y1="105" x2="161.6" y2="135.3" stroke="#000" stroke-width="0.7"/>
<path d="M210.4 108 C212 116,212 126,210.4 135" fill="none" stroke="#000" stroke-width="0.7"/>
<path d="M207.5 107 L207.5 136" fill="none" stroke="#000" stroke-width="0.5"/>
<rect x="161.6" y="114.2" width="23.2" height="11.6" rx="5.8" fill="none" stroke="#000" stroke-width="1.1"/>
<rect x="163.4" y="115.8" width="19.6" height="8.4" rx="4.2" fill="none" stroke="#000" stroke-width="0.5"/>
<circle cx="165.3" cy="118.1" r="1.45" fill="#111" stroke="#000" stroke-width="0.4"/>
<circle cx="170.2" cy="118.1" r="1.45" fill="#111" stroke="#000" stroke-width="0.4"/>
<circle cx="175.2" cy="118.1" r="1.45" fill="#111" stroke="#000" stroke-width="0.4"/>
<circle cx="180.2" cy="118.1" r="1.45" fill="#111" stroke="#000" stroke-width="0.4"/>
<circle cx="167.7" cy="122.2" r="1.45" fill="#111" stroke="#000" stroke-width="0.4"/>
<circle cx="172.7" cy="122.2" r="1.45" fill="#111" stroke="#000" stroke-width="0.4"/>
<circle cx="177.7" cy="122.2" r="1.45" fill="#111" stroke="#000" stroke-width="0.4"/>
<circle cx="197.8" cy="120.2" r="4.4" fill="none" stroke="#000" stroke-width="1.7"/>
<circle cx="197.8" cy="120.2" r="2.6" fill="none" stroke="#000" stroke-width="0.5"/>
<circle cx="192.4" cy="115" r="1.9" fill="#111" stroke="#000" stroke-width="0.4"/>
<circle cx="203.2" cy="115" r="1.9" fill="#111" stroke="#000" stroke-width="0.4"/>
<circle cx="192.4" cy="125.4" r="1.9" fill="#111" stroke="#000" stroke-width="0.4"/>
<circle cx="203.2" cy="125.4" r="1.9" fill="#111" stroke="#000" stroke-width="0.4"/>
<rect x="192.4" y="115" width="10.8" height="10.4" rx="0" fill="none" stroke="#000" stroke-width="0.8"/>
<circle cx="154.6" cy="99.6" r="1.1" fill="#444" stroke="#000" stroke-width="0.5"/>
<circle cx="211.9" cy="99.2" r="1.1" fill="#444" stroke="#000" stroke-width="0.5"/>
<circle cx="154.6" cy="140.4" r="1.1" fill="#444" stroke="#000" stroke-width="0.5"/>
<circle cx="211.9" cy="140.8" r="1.1" fill="#444" stroke="#000" stroke-width="0.5"/>
<text x="146.7" y="75.2" font-size="5" text-anchor="middle" fill="#000" font-family="&quot;Liberation Sans&quot;, sans-serif" textLength="35" lengthAdjust="spacingAndGlyphs" font-weight="bold" stroke="#000" stroke-width="0.22">Air supply ports</text>
<text x="147" y="81.8" font-size="5" text-anchor="middle" fill="#000" font-family="&quot;Liberation Sans&quot;, sans-serif" textLength="34" lengthAdjust="spacingAndGlyphs" font-weight="bold" stroke="#000" stroke-width="0.22">1A, 1B (Option)</text>
<text x="147" y="88.3" font-size="5" text-anchor="middle" fill="#000" font-family="&quot;Liberation Sans&quot;, sans-serif" textLength="35" lengthAdjust="spacingAndGlyphs" font-weight="bold" stroke="#000" stroke-width="0.22">Tapped hole M5</text>
<path d="M129 82.8 L166 82.8 L168.8 117.5" fill="none" stroke="#000" stroke-width="0.72"/>
<line x1="164.6" y1="82.8" x2="167" y2="121" stroke="#000" stroke-width="0.72"/>
<text x="131.3" y="98.8" font-size="5" text-anchor="middle" fill="#000" font-family="&quot;Liberation Sans&quot;, sans-serif" textLength="24.5" lengthAdjust="spacingAndGlyphs" font-weight="bold" stroke="#000" stroke-width="0.22">AIR1 Outlet</text>
<text x="131.6" y="105" font-size="5" text-anchor="middle" fill="#000" font-family="&quot;Liberation Sans&quot;, sans-serif" textLength="23.5" lengthAdjust="spacingAndGlyphs" font-weight="bold" stroke="#000" stroke-width="0.22">(Standard)</text>
<text x="126.3" y="111.8" font-size="5" text-anchor="middle" fill="#000" font-family="&quot;Liberation Sans&quot;, sans-serif" textLength="34.5" lengthAdjust="spacingAndGlyphs" font-weight="bold" stroke="#000" stroke-width="0.22">Tapped hole M5</text>
<path d="M109 106.5 L146.5 106.5 C155 107.5,159 113,164.5 117.5" fill="none" stroke="#000" stroke-width="0.72"/>
<text x="131.3" y="122.2" font-size="5" text-anchor="middle" fill="#000" font-family="&quot;Liberation Sans&quot;, sans-serif" textLength="24.5" lengthAdjust="spacingAndGlyphs" font-weight="bold" stroke="#000" stroke-width="0.22">AIR2 Outlet</text>
<text x="131.6" y="128.8" font-size="5" text-anchor="middle" fill="#000" font-family="&quot;Liberation Sans&quot;, sans-serif" textLength="23.5" lengthAdjust="spacingAndGlyphs" font-weight="bold" stroke="#000" stroke-width="0.22">(Standard)</text>
<text x="126.3" y="135.8" font-size="5" text-anchor="middle" fill="#000" font-family="&quot;Liberation Sans&quot;, sans-serif" textLength="34.5" lengthAdjust="spacingAndGlyphs" font-weight="bold" stroke="#000" stroke-width="0.22">Tapped hole M5</text>
<path d="M109 130.5 L146.5 130.5 C155 129.5,160 126,166.8 122.5" fill="none" stroke="#000" stroke-width="0.72"/>
<text x="158.8" y="155.8" font-size="5" text-anchor="middle" fill="#000" font-family="&quot;Liberation Sans&quot;, sans-serif" textLength="35" lengthAdjust="spacingAndGlyphs" font-weight="bold" stroke="#000" stroke-width="0.22">Air supply ports</text>
<text x="158.8" y="162.4" font-size="5" text-anchor="middle" fill="#000" font-family="&quot;Liberation Sans&quot;, sans-serif" textLength="34" lengthAdjust="spacingAndGlyphs" font-weight="bold" stroke="#000" stroke-width="0.22">2A, 2B (Option)</text>
<text x="158.8" y="169.2" font-size="5" text-anchor="middle" fill="#000" font-family="&quot;Liberation Sans&quot;, sans-serif" textLength="35" lengthAdjust="spacingAndGlyphs" font-weight="bold" stroke="#000" stroke-width="0.22">Tapped hole M5</text>
<path d="M141 164 L180.3 164 L175 118.5" fill="none" stroke="#000" stroke-width="0.72"/>
<line x1="178" y1="164" x2="172.5" y2="122.8" stroke="#000" stroke-width="0.72"/>
<text x="218.6" y="158.2" font-size="5" text-anchor="middle" fill="#000" font-family="&quot;Liberation Sans&quot;, sans-serif" textLength="35" lengthAdjust="spacingAndGlyphs" font-weight="bold" stroke="#000" stroke-width="0.22">Air supply ports</text>
<text x="218.6" y="164.8" font-size="5" text-anchor="middle" fill="#000" font-family="&quot;Liberation Sans&quot;, sans-serif" textLength="34" lengthAdjust="spacingAndGlyphs" font-weight="bold" stroke="#000" stroke-width="0.22">3A, 3B (Option)</text>
<text x="218.6" y="171.4" font-size="5" text-anchor="middle" fill="#000" font-family="&quot;Liberation Sans&quot;, sans-serif" textLength="35" lengthAdjust="spacingAndGlyphs" font-weight="bold" stroke="#000" stroke-width="0.22">Tapped hole M5</text>
<path d="M236.5 166.2 L199 166.2 L179.5 118.5" fill="none" stroke="#000" stroke-width="0.72"/>
<line x1="202.5" y1="166.2" x2="177.3" y2="122.8" stroke="#000" stroke-width="0.72"/>
<text x="231" y="77.3" font-size="5" text-anchor="middle" fill="#000" font-family="&quot;Liberation Sans&quot;, sans-serif" textLength="38" lengthAdjust="spacingAndGlyphs" font-weight="bold" stroke="#000" stroke-width="0.22">ASR1A USER I/O</text>
<text x="231" y="84.4" font-size="5" text-anchor="middle" fill="#000" font-family="&quot;Liberation Sans&quot;, sans-serif" textLength="39" lengthAdjust="spacingAndGlyphs" font-weight="bold" stroke="#000" stroke-width="0.22">I/O wiring harness:</text>
<text x="239" y="91.4" font-size="5" text-anchor="middle" fill="#000" font-family="&quot;Liberation Sans&quot;, sans-serif" textLength="54" lengthAdjust="spacingAndGlyphs" font-weight="bold" stroke="#000" stroke-width="0.22">LF13WBRB-20S(HIROSE)</text>
<path d="M266 79 L210.5 79 L198.5 118" fill="none" stroke="#000" stroke-width="0.72"/>
<text x="185" y="184.04" font-size="9" text-anchor="middle" fill="#222" font-family="&quot;Liberation Sans&quot;, sans-serif" textLength="38" lengthAdjust="spacingAndGlyphs">DETAIL &quot;D&quot;</text>
<line x1="166" y1="185.3" x2="204" y2="185.3" stroke="#222" stroke-width="0.7"/>
<text x="185" y="191.1" font-size="5" text-anchor="middle" fill="#5c5c5c" font-family="&quot;Liberation Sans&quot;, sans-serif" textLength="29" lengthAdjust="spacingAndGlyphs">(SCALE 2/1)</text>
<line x1="172" y1="186.2" x2="198" y2="186.2" stroke="#999" stroke-width="0.4"/>
<circle cx="291.6" cy="125.6" r="34.5" fill="none" stroke="#000" stroke-width="0.7"/>
<path d="M481.73 178.68 A197.4 197.4 0 0 0 482.09 73.84" fill="none" stroke="#000" stroke-width="0.7"/>
<rect x="296" y="71" width="69" height="77.6" rx="3" fill="none" stroke="#000" stroke-width="0.9" stroke-dasharray="2.4 0.8 0.6 0.8"/>
<line x1="249" y1="125.6" x2="418.5" y2="125.6" stroke="#000" stroke-width="0.5"/>
<line x1="291.6" y1="89" x2="291.6" y2="163" stroke="#000" stroke-width="0.5"/>
<line x1="298" y1="82.4" x2="313.5" y2="82.4" stroke="#000" stroke-width="0.72"/>
<line x1="300" y1="80" x2="300" y2="156" stroke="#000" stroke-width="0.72"/>
<line x1="311.4" y1="80" x2="311.4" y2="112" stroke="#000" stroke-width="0.72"/>
<text x="305.7" y="80.6" font-size="5" text-anchor="middle" fill="#000" font-family="&quot;Liberation Sans&quot;, sans-serif" textLength="5.4" lengthAdjust="spacingAndGlyphs" font-weight="bold" stroke="#000" stroke-width="0.22">53</text>
<text x="344.7" y="97.2" font-size="5" text-anchor="middle" fill="#000" font-family="&quot;Liberation Sans&quot;, sans-serif" textLength="33.5" lengthAdjust="spacingAndGlyphs" font-weight="bold" stroke="#000" stroke-width="0.22">2-M4 TAP DP8</text>
<path d="M362 98.5 L324 98.5 L321 117" fill="none" stroke="#000" stroke-width="0.72"/>
<line x1="328.3" y1="104" x2="328.3" y2="147" stroke="#000" stroke-width="0.72"/>
<line x1="318" y1="113.3" x2="330" y2="113.3" stroke="#000" stroke-width="0.72"/>
<line x1="318" y1="137.6" x2="330" y2="137.6" stroke="#000" stroke-width="0.72"/>
<text x="325.4" y="110.8" font-size="5" text-anchor="middle" fill="#000" font-family="&quot;Liberation Sans&quot;, sans-serif" textLength="5" lengthAdjust="spacingAndGlyphs" transform="rotate(-90 325.4 109)" font-weight="bold" stroke="#000" stroke-width="0.22">13</text>
<text x="325.4" y="143.6" font-size="5" text-anchor="middle" fill="#000" font-family="&quot;Liberation Sans&quot;, sans-serif" textLength="5" lengthAdjust="spacingAndGlyphs" transform="rotate(-90 325.4 141.8)" font-weight="bold" stroke="#000" stroke-width="0.22">13</text>
<text x="353" y="158.4" font-size="5" text-anchor="middle" fill="#000" font-family="&quot;Liberation Sans&quot;, sans-serif" textLength="12" lengthAdjust="spacingAndGlyphs" font-weight="bold" stroke="#000" stroke-width="0.22">R158</text>
<line x1="347" y1="159.5" x2="379" y2="159.5" stroke="#000" stroke-width="0.72"/>
<line x1="347" y1="159.5" x2="320.5" y2="144.5" stroke="#000" stroke-width="0.72"/>
<text x="347" y="165" font-size="5" text-anchor="start" fill="#000" font-family="&quot;Liberation Sans&quot;, sans-serif" textLength="16" lengthAdjust="spacingAndGlyphs" font-weight="bold" stroke="#000" stroke-width="0.22">SWIVEL</text>
<text x="347" y="171.1" font-size="5" text-anchor="start" fill="#000" font-family="&quot;Liberation Sans&quot;, sans-serif" textLength="32" lengthAdjust="spacingAndGlyphs" font-weight="bold" stroke="#000" stroke-width="0.22">INTERFERENCE</text>
<text x="347" y="177.3" font-size="5" text-anchor="start" fill="#000" font-family="&quot;Liberation Sans&quot;, sans-serif" textLength="16" lengthAdjust="spacingAndGlyphs" font-weight="bold" stroke="#000" stroke-width="0.22">RADIUS</text>
<path d="M272 104 L276 101.4 L312 101.4 C316 102,317.3 105,317.3 108 L317.3 141.5 C317.3 145,316 147.5,312 148 L276 148 L272 145.5 Z" fill="none" stroke="#000" stroke-width="1.4"/>
<rect x="282.7" y="102.6" width="32.7" height="7.6" rx="2.5" fill="none" stroke="#000" stroke-width="1.3"/>
<rect x="282.7" y="139.4" width="32.7" height="7.6" rx="2.5" fill="none" stroke="#000" stroke-width="1.3"/>
<line x1="288" y1="105.2" x2="313" y2="105.2" stroke="#222" stroke-width="1.0"/>
<line x1="288" y1="107.6" x2="313" y2="107.6" stroke="#000" stroke-width="0.6"/>
<line x1="288" y1="142" x2="313" y2="142" stroke="#000" stroke-width="0.6"/>
<line x1="288" y1="144.6" x2="313" y2="144.6" stroke="#222" stroke-width="1.0"/>
<rect x="281.3" y="103.2" width="5" height="6.4" rx="1.5" fill="#222" stroke="#000" stroke-width="0.5"/>
<rect x="281.3" y="140" width="5" height="6.4" rx="1.5" fill="#222" stroke="#000" stroke-width="0.5"/>
<rect x="300.5" y="103.4" width="3.6" height="1.8" rx="0" fill="#111" stroke="#000" stroke-width="0.3"/>
<rect x="300.5" y="144.6" width="3.6" height="1.8" rx="0" fill="#111" stroke="#000" stroke-width="0.3"/>
<rect x="286.5" y="112" width="30.6" height="25.8" rx="0" fill="none" stroke="#000" stroke-width="1.2"/>
<line x1="291" y1="116" x2="316.5" y2="116" stroke="#000" stroke-width="0.8"/>
<line x1="291" y1="120.6" x2="316.5" y2="120.6" stroke="#000" stroke-width="0.8"/>
<line x1="291" y1="131" x2="316.5" y2="131" stroke="#000" stroke-width="0.8"/>
<line x1="291" y1="135.4" x2="316.5" y2="135.4" stroke="#000" stroke-width="0.8"/>
<line x1="282" y1="112" x2="290" y2="112" stroke="#000" stroke-width="1.0"/>
<line x1="282" y1="137.8" x2="290" y2="137.8" stroke="#000" stroke-width="1.0"/>
<path d="M285.3 110.2 C278.6 113.5,277.7 119,277.7 125 C277.7 131,278.6 136.5,285.3 139.8" fill="none" stroke="#000" stroke-width="1.0"/>
<path d="M282.2 111.5 C276.3 115.5,275.6 134.5,282.2 138.5" fill="none" stroke="#000" stroke-width="0.7"/>
<path d="M274.5 105 L280 111 M274.5 145 L280 139" fill="none" stroke="#000" stroke-width="0.7"/>
<rect x="273.5" y="106" width="3" height="5" rx="0" fill="none" stroke="#000" stroke-width="0.5"/>
<rect x="273.5" y="139" width="3" height="5" rx="0" fill="none" stroke="#000" stroke-width="0.5"/>
<ellipse cx="310.7" cy="125.8" rx="2.8" ry="5.4" fill="none" stroke="#000" stroke-width="1.0"/>
<ellipse cx="310.7" cy="125.8" rx="1.5" ry="3.6" fill="none" stroke="#000" stroke-width="0.5"/>
<path d="M272 112 L264.2 114.2 L264.2 136 L272 138" fill="none" stroke="#000" stroke-width="1.2"/>
<rect x="262.4" y="114.5" width="3" height="6.5" rx="0" fill="#222" stroke="#000" stroke-width="0.4"/>
<rect x="262.4" y="129.5" width="3" height="6.5" rx="0" fill="#222" stroke="#000" stroke-width="0.4"/>
<path d="M265 121.5 L270 125.6 L265 129.5 Z" fill="#333" stroke="#000" stroke-width="0.7"/>
<line x1="299.7" y1="101.4" x2="299.7" y2="148" stroke="#000" stroke-width="0.6"/>
<rect x="254.4" y="126.5" width="7.8" height="11.4" rx="0" fill="none" stroke="#000" stroke-width="1.3"/>
<line x1="254.4" y1="126.5" x2="262.2" y2="137.9" stroke="#000" stroke-width="0.6"/>
<line x1="262.2" y1="126.5" x2="254.4" y2="137.9" stroke="#000" stroke-width="0.6"/>
<rect x="252.8" y="128.5" width="1.8" height="2.2" rx="0" fill="#111" stroke="#000" stroke-width="0.3"/>
<rect x="252.8" y="134" width="1.8" height="2.2" rx="0" fill="#111" stroke="#000" stroke-width="0.3"/>
<line x1="258" y1="125.6" x2="264" y2="125.6" stroke="#000" stroke-width="1.0"/>
<path d="M318 112.8 L398 112.8 C401.5 113.2,403 115.5,403 118 L403 132.2 C403 134.8,401.5 137,398 137.3 L318 137.3" fill="none" stroke="#000" stroke-width="1.4"/>
<line x1="322" y1="114.7" x2="400" y2="114.7" stroke="#000" stroke-width="0.7"/>
<line x1="322" y1="135.4" x2="400" y2="135.4" stroke="#000" stroke-width="0.7"/>
<line x1="324.2" y1="112.8" x2="324.2" y2="137.3" stroke="#000" stroke-width="0.8"/>
<line x1="339.4" y1="112.8" x2="339.4" y2="137.3" stroke="#000" stroke-width="0.8"/>
<line x1="341" y1="112.8" x2="341" y2="137.3" stroke="#000" stroke-width="0.8"/>
<line x1="348.6" y1="112.8" x2="348.6" y2="137.3" stroke="#000" stroke-width="0.8"/>
<line x1="373.7" y1="112.8" x2="373.7" y2="137.3" stroke="#000" stroke-width="0.8"/>
<line x1="375.2" y1="112.8" x2="375.2" y2="137.3" stroke="#000" stroke-width="0.8"/>
<path d="M348.6 116 L373.7 117.2 M348.6 134.2 L373.7 133" fill="none" stroke="#000" stroke-width="0.7"/>
<path d="M349 123.2 L350.6 128.7 L352.2 123.2 L353.8 128.7 L355.4 123.2 L357 128.7 L358.6 123.2 L360.2 128.7 L361.8 123.2" fill="none" stroke="#000" stroke-width="1.0"/>
<ellipse cx="355.4" cy="126" rx="6.8" ry="3.2" fill="none" stroke="#000" stroke-width="0.6"/>
<rect x="365" y="122.6" width="6.2" height="6.2" rx="0" fill="#222" stroke="#000" stroke-width="0.8"/>
<line x1="365.6" y1="123.2" x2="370.6" y2="128.2" stroke="#fff" stroke-width="0.6"/>
<line x1="370.6" y1="123.2" x2="365.6" y2="128.2" stroke="#fff" stroke-width="0.6"/>
<path d="M375.2 115.3 L383.5 118.3 L383.5 132.4 L375.2 135" fill="none" stroke="#000" stroke-width="0.9"/>
<rect x="383.5" y="118.3" width="11" height="14.1" rx="0" fill="none" stroke="#000" stroke-width="1.0"/>
<line x1="394.2" y1="110.4" x2="394.2" y2="141" stroke="#000" stroke-width="0.5"/>
<path d="M394.5 117.5 L403 118.6 M394.5 133.2 L403 132" fill="none" stroke="#000" stroke-width="0.8"/>
<rect x="404.9" y="119" width="7.3" height="13.4" rx="1.2" fill="none" stroke="#000" stroke-width="1.2"/>
<rect x="406.6" y="120.8" width="3.8" height="9.8" rx="0" fill="none" stroke="#000" stroke-width="0.6"/>
<rect x="400.5" y="121" width="4.4" height="9.4" rx="0" fill="none" stroke="#000" stroke-width="0.6"/>
<circle cx="321" cy="116.4" r="1.6" fill="#111" stroke="#000" stroke-width="0.3"/>
<circle cx="337.6" cy="115.9" r="1.5" fill="#111" stroke="#000" stroke-width="0.3"/>
<circle cx="343.7" cy="115.4" r="1.3" fill="#111" stroke="#000" stroke-width="0.3"/>
<circle cx="341.9" cy="130" r="1" fill="#111" stroke="#000" stroke-width="0.3"/>
<circle cx="321" cy="130" r="1" fill="#111" stroke="#000" stroke-width="0.3"/>
<circle cx="397.5" cy="124.5" r="1" fill="#111" stroke="#000" stroke-width="0.3"/>
<circle cx="393" cy="128.6" r="1" fill="#111" stroke="#000" stroke-width="0.3"/>
<circle cx="345" cy="134" r="0.9" fill="#111" stroke="#000" stroke-width="0.3"/>
<line x1="326" y1="117.6" x2="338" y2="117.6" stroke="#333" stroke-width="0.9"/>
<line x1="326" y1="132.8" x2="338" y2="132.8" stroke="#333" stroke-width="0.9"/>
<path d="M578 94.6 C584 92.6,602 92.6,608 94.6 C616 98.6,619.6 108,619.6 118 C619.6 128,616 137.4,608 141.4 C602 143.4,584 143.4,578 141.4 C570 137.4,566.2 128,566.2 118 C566.2 108,570 98.6,578 94.6 Z" fill="none" stroke="#000" stroke-width="1.5"/>
<path d="M576.5 98 C571.5 102.5,569 109.5,569 118 C569 126.5,571.5 133.5,576.5 138" fill="none" stroke="#000" stroke-width="0.6"/>
<path d="M609.5 98 C614.5 102.5,617 109.5,617 118 C617 126.5,614.5 133.5,609.5 138" fill="none" stroke="#000" stroke-width="0.6"/>
<rect x="575" y="94.8" width="36" height="44.2" rx="3" fill="none" stroke="#000" stroke-width="1.2"/>
<rect x="575.4" y="99" width="3.2" height="36" rx="0" fill="#888" stroke="#555" stroke-width="0.3"/>
<rect x="607.4" y="99" width="3.2" height="36" rx="0" fill="#888" stroke="#555" stroke-width="0.3"/>
<rect x="578.6" y="95.2" width="28.8" height="3.6" rx="0" fill="#999" stroke="#555" stroke-width="0.3"/>
<rect x="578.6" y="135.4" width="28.8" height="3.2" rx="0" fill="#bbb" stroke="#555" stroke-width="0.3"/>
<rect x="580.4" y="103.6" width="26.6" height="28.4" rx="0" fill="none" stroke="#000" stroke-width="1.0"/>
<line x1="579" y1="101.2" x2="607" y2="101.2" stroke="#000" stroke-width="0.7"/>
<line x1="579" y1="134" x2="607" y2="134" stroke="#000" stroke-width="0.7"/>
<rect x="580.4" y="103.6" width="4" height="4" rx="1" fill="#111" stroke="#000" stroke-width="0.3"/>
<rect x="603" y="103.6" width="4" height="4" rx="1" fill="#111" stroke="#000" stroke-width="0.3"/>
<rect x="580.4" y="128" width="4" height="4" rx="1" fill="#111" stroke="#000" stroke-width="0.3"/>
<rect x="603" y="128" width="4" height="4" rx="1" fill="#111" stroke="#000" stroke-width="0.3"/>
<circle cx="593.3" cy="118.2" r="11.4" fill="#fff" stroke="#000" stroke-width="1.3"/>
<circle cx="593.3" cy="118.2" r="8.8" fill="none" stroke="#000" stroke-width="1.5"/>
<circle cx="593.3" cy="118.2" r="6.2" fill="none" stroke="#000" stroke-width="1.0"/>
<circle cx="593.3" cy="118.2" r="3.6" fill="none" stroke="#000" stroke-width="0.9"/>
<circle cx="593.3" cy="118.2" r="2" fill="none" stroke="#000" stroke-width="0.5"/>
<path d="M588 108.5 L590 104 L596.5 104 L598.5 108.5" fill="#333" stroke="#000" stroke-width="0.8"/>
<rect x="588.6" y="92.4" width="10.6" height="2.9" rx="0" fill="#111" stroke="#000" stroke-width="0.4"/>
<line x1="560" y1="118.2" x2="627" y2="118.2" stroke="#000" stroke-width="0.6"/>
<line x1="593.3" y1="83" x2="593.3" y2="148.5" stroke="#000" stroke-width="0.6"/>
<path d="M571.5 116.5 L574.5 118.2 L571.5 120 Z" fill="#222" stroke="#000" stroke-width="0.4"/>
<path d="M615 116.5 L612 118.2 L615 120 Z" fill="#222" stroke="#000" stroke-width="0.4"/>
<path d="M593.3 84.2 A34 34 0 0 0 569.26 94.16" fill="none" stroke="#000" stroke-width="0.72"/>
<line x1="567.6" y1="92.5" x2="574" y2="98.8" stroke="#000" stroke-width="0.7"/>
<path d="M587.09 91.31 A27.6 27.6 0 0 0 580.34 93.83" fill="none" stroke="#000" stroke-width="0.7"/>
<text x="579.2" y="85.4" font-size="5" text-anchor="middle" fill="#000" font-family="&quot;Liberation Sans&quot;, sans-serif" textLength="7" lengthAdjust="spacingAndGlyphs" transform="rotate(-25 579.2 83.6)" font-weight="bold" stroke="#000" stroke-width="0.22">45°</text>
<text x="560" y="81.8" font-size="5" text-anchor="end" fill="#000" font-family="&quot;Liberation Sans&quot;, sans-serif" textLength="36.5" lengthAdjust="spacingAndGlyphs" font-weight="bold" stroke="#000" stroke-width="0.22">4-M5 TAP DP10</text>
<text x="560" y="88" font-size="5" text-anchor="end" fill="#000" font-family="&quot;Liberation Sans&quot;, sans-serif" textLength="37.5" lengthAdjust="spacingAndGlyphs" font-weight="bold" stroke="#000" stroke-width="0.22">ø4.2 DRILL DP14</text>
<text x="516.5" y="94.4" font-size="5" text-anchor="start" fill="#000" font-family="&quot;Liberation Sans&quot;, &quot;Noto Sans CJK KR&quot;, &quot;NanumGothic&quot;, sans-serif" textLength="43.5" lengthAdjust="spacingAndGlyphs" font-weight="bold" stroke="#000" stroke-width="0.22">(P.C.D. 31.5, 등간격)</text>
<path d="M516 97 L558 97 L581.5 107" fill="none" stroke="#000" stroke-width="0.72"/>
<text x="555.6" y="130.4" font-size="5" text-anchor="end" fill="#000" font-family="&quot;Liberation Sans&quot;, sans-serif" textLength="13" lengthAdjust="spacingAndGlyphs" font-weight="bold" stroke="#000" stroke-width="0.22">R65.5</text>
<text x="555.6" y="136.6" font-size="5" text-anchor="end" fill="#000" font-family="&quot;Liberation Sans&quot;, sans-serif" textLength="13" lengthAdjust="spacingAndGlyphs" font-weight="bold" stroke="#000" stroke-width="0.22">WRIST</text>
<text x="555.6" y="142.8" font-size="5" text-anchor="end" fill="#000" font-family="&quot;Liberation Sans&quot;, sans-serif" textLength="32.5" lengthAdjust="spacingAndGlyphs" font-weight="bold" stroke="#000" stroke-width="0.22">INTERFERENCE</text>
<text x="555.6" y="149" font-size="5" text-anchor="end" fill="#000" font-family="&quot;Liberation Sans&quot;, sans-serif" textLength="16" lengthAdjust="spacingAndGlyphs" font-weight="bold" stroke="#000" stroke-width="0.22">RADIUS</text>
<path d="M523.6 131.5 L557 131.5 C561 131,564 130,566.3 128.8" fill="none" stroke="#000" stroke-width="0.72"/>
<text x="609" y="77.4" font-size="5" text-anchor="start" fill="#000" font-family="&quot;Liberation Sans&quot;, sans-serif" textLength="12" lengthAdjust="spacingAndGlyphs" font-weight="bold" stroke="#000" stroke-width="0.22">ø5H7</text>
<text x="625" y="74.5" font-size="5" text-anchor="start" fill="#000" font-family="&quot;Liberation Sans&quot;, sans-serif" textLength="8" lengthAdjust="spacingAndGlyphs" font-weight="bold" stroke="#000" stroke-width="0.22">+0.015</text>
<text x="625" y="78.2" font-size="5" text-anchor="start" fill="#000" font-family="&quot;Liberation Sans&quot;, sans-serif" font-weight="bold" stroke="#000" stroke-width="0.22">0</text>
<text x="609" y="83.6" font-size="5" text-anchor="start" fill="#000" font-family="&quot;Liberation Sans&quot;, sans-serif" textLength="41.5" lengthAdjust="spacingAndGlyphs" font-weight="bold" stroke="#000" stroke-width="0.22">REAMER HOLE DP5</text>
<text x="609" y="90.8" font-size="5" text-anchor="start" fill="#000" font-family="&quot;Liberation Sans&quot;, sans-serif" textLength="26.5" lengthAdjust="spacingAndGlyphs" font-weight="bold" stroke="#000" stroke-width="0.22">(P.C.D 31.5)</text>
<path d="M651 85.2 L607.5 85.2 L601.3 95.5" fill="none" stroke="#000" stroke-width="0.72"/>
<text x="617.5" y="161.84" font-size="9" text-anchor="middle" fill="#222" font-family="&quot;Liberation Sans&quot;, sans-serif" textLength="39" lengthAdjust="spacingAndGlyphs">DETAIL &quot;A&quot;</text>
<line x1="598" y1="164.2" x2="637" y2="164.2" stroke="#222" stroke-width="0.7"/>
<text x="618" y="169.4" font-size="5" text-anchor="middle" fill="#5c5c5c" font-family="&quot;Liberation Sans&quot;, sans-serif" textLength="28" lengthAdjust="spacingAndGlyphs">(SCALE 2/1)</text>
<line x1="604" y1="165.1" x2="631" y2="165.1" stroke="#999" stroke-width="0.4"/>
<line x1="655.6" y1="93.5" x2="678.6" y2="93.5" stroke="#000" stroke-width="0.72"/>
<line x1="655.6" y1="102.3" x2="678.6" y2="102.3" stroke="#000" stroke-width="0.72"/>
<text x="658.3" y="91.8" font-size="5" text-anchor="middle" fill="#000" font-family="&quot;Liberation Sans&quot;, sans-serif" font-weight="bold" stroke="#000" stroke-width="0.22">6</text>
<text x="658.3" y="100.6" font-size="5" text-anchor="middle" fill="#000" font-family="&quot;Liberation Sans&quot;, sans-serif" font-weight="bold" stroke="#000" stroke-width="0.22">4</text>
<line x1="668.4" y1="92" x2="668.4" y2="126.8" stroke="#000" stroke-width="0.8"/>
<line x1="670.5" y1="92" x2="670.5" y2="126.8" stroke="#000" stroke-width="0.8"/>
<rect x="670.5" y="104.3" width="14.9" height="27.7" rx="0" fill="none" stroke="#000" stroke-width="1.0"/>
<rect x="672.5" y="107" width="10.8" height="22.4" rx="0" fill="none" stroke="#222" stroke-width="1.3"/>
<line x1="670.5" y1="105.6" x2="685.4" y2="105.6" stroke="#444" stroke-width="1.0"/>
<line x1="670.5" y1="130.8" x2="685.4" y2="130.8" stroke="#444" stroke-width="1.0"/>
<line x1="673" y1="110.5" x2="683" y2="110.5" stroke="#000" stroke-width="0.5"/>
<line x1="673" y1="126" x2="683" y2="126" stroke="#000" stroke-width="0.5"/>
<line x1="675.5" y1="107" x2="675.5" y2="129.4" stroke="#000" stroke-width="0.5"/>
<line x1="680.3" y1="107" x2="680.3" y2="129.4" stroke="#000" stroke-width="0.5"/>
<line x1="685.4" y1="104.3" x2="697.5" y2="104.3" stroke="#000" stroke-width="0.9"/>
<line x1="685.4" y1="132" x2="697.5" y2="132" stroke="#000" stroke-width="0.9"/>
<line x1="692.1" y1="104.3" x2="692.1" y2="110" stroke="#000" stroke-width="0.6"/>
<line x1="692.1" y1="127" x2="692.1" y2="132" stroke="#000" stroke-width="0.6"/>
<path d="M704.5 99.4 C694 104,688.7 111,688.7 118.4 C688.7 126,694 132.5,704.5 135.6" fill="none" stroke="#000" stroke-width="1.7"/>
<path d="M704.5 109 C698 112,695.5 115,695.5 118.4 C695.5 122,698 125,704.5 126.8" fill="none" stroke="#000" stroke-width="0.7"/>
<path d="M704.5 96 C706 104,703.5 112,705 120 C706.5 128,703.5 134,705 140.5" fill="none" stroke="#000" stroke-width="0.5"/>
<line x1="704.5" y1="96" x2="706" y2="92.5" stroke="#000" stroke-width="0.5"/>
<circle cx="690.1" cy="118.3" r="1.6" fill="#111" stroke="#000" stroke-width="0.4"/>
<line x1="663.7" y1="118.3" x2="705.7" y2="118.3" stroke="#000" stroke-width="0.5"/>
<line x1="650.2" y1="109" x2="650.2" y2="160.5" stroke="#000" stroke-width="0.72"/>
<line x1="660.3" y1="107" x2="660.3" y2="160.5" stroke="#000" stroke-width="0.72"/>
<line x1="648.5" y1="109" x2="668.4" y2="109" stroke="#000" stroke-width="0.72"/>
<line x1="648.5" y1="126.7" x2="668.4" y2="126.7" stroke="#000" stroke-width="0.72"/>
<line x1="659" y1="113.8" x2="668.4" y2="113.8" stroke="#000" stroke-width="0.72"/>
<line x1="659" y1="122.6" x2="668.4" y2="122.6" stroke="#000" stroke-width="0.72"/>
<text x="646.2" y="156.4" font-size="5" text-anchor="middle" fill="#000" font-family="&quot;Liberation Sans&quot;, sans-serif" textLength="11" lengthAdjust="spacingAndGlyphs" transform="rotate(-90 646.2 154.6)" font-weight="bold" stroke="#000" stroke-width="0.22">ø40 H7</text>
<text x="641.6" y="137.8" font-size="5" text-anchor="middle" fill="#000" font-family="&quot;Liberation Sans&quot;, sans-serif" textLength="8.5" lengthAdjust="spacingAndGlyphs" transform="rotate(-90 641.6 136)" font-weight="bold" stroke="#000" stroke-width="0.22">+0.025</text>
<text x="645" y="140.8" font-size="5" text-anchor="middle" fill="#000" font-family="&quot;Liberation Sans&quot;, sans-serif" transform="rotate(-90 645 139)" font-weight="bold" stroke="#000" stroke-width="0.22">0</text>
<text x="657" y="156.4" font-size="5" text-anchor="middle" fill="#000" font-family="&quot;Liberation Sans&quot;, sans-serif" textLength="11" lengthAdjust="spacingAndGlyphs" transform="rotate(-90 657 154.6)" font-weight="bold" stroke="#000" stroke-width="0.22">ø20 H7</text>
<text x="652.4" y="137.8" font-size="5" text-anchor="middle" fill="#000" font-family="&quot;Liberation Sans&quot;, sans-serif" textLength="8.5" lengthAdjust="spacingAndGlyphs" transform="rotate(-90 652.4 136)" font-weight="bold" stroke="#000" stroke-width="0.22">+0.021</text>
<text x="655.8" y="140.8" font-size="5" text-anchor="middle" fill="#000" font-family="&quot;Liberation Sans&quot;, sans-serif" transform="rotate(-90 655.8 139)" font-weight="bold" stroke="#000" stroke-width="0.22">0</text>
<line x1="598.7" y1="196.2" x2="664.5" y2="196.2" stroke="#000" stroke-width="0.72"/>
<line x1="606.2" y1="194.5" x2="606.2" y2="236.7" stroke="#000" stroke-width="0.72"/>
<line x1="615.8" y1="194.5" x2="615.8" y2="235" stroke="#000" stroke-width="0.72"/>
<line x1="623.3" y1="194.5" x2="623.3" y2="230" stroke="#000" stroke-width="0.72"/>
<line x1="663.3" y1="194.5" x2="663.3" y2="230" stroke="#000" stroke-width="0.72"/>
<text x="611.2" y="194.2" font-size="5" text-anchor="middle" fill="#000" font-family="&quot;Liberation Sans&quot;, sans-serif" textLength="5.2" lengthAdjust="spacingAndGlyphs" font-weight="bold" stroke="#000" stroke-width="0.22">47</text>
<text x="619.7" y="194.2" font-size="5" text-anchor="middle" fill="#000" font-family="&quot;Liberation Sans&quot;, sans-serif" textLength="5.2" lengthAdjust="spacingAndGlyphs" font-weight="bold" stroke="#000" stroke-width="0.22">33</text>
<text x="643.3" y="194.2" font-size="5" text-anchor="middle" fill="#000" font-family="&quot;Liberation Sans&quot;, sans-serif" textLength="8" lengthAdjust="spacingAndGlyphs" font-weight="bold" stroke="#000" stroke-width="0.22">190</text>
<line x1="626.7" y1="210.5" x2="660.5" y2="210.5" stroke="#000" stroke-width="0.72"/>
<line x1="626.7" y1="209" x2="626.7" y2="235" stroke="#000" stroke-width="0.72"/>
<line x1="660.5" y1="209" x2="660.5" y2="235" stroke="#000" stroke-width="0.72"/>
<text x="643.3" y="209.2" font-size="5" text-anchor="middle" fill="#000" font-family="&quot;Liberation Sans&quot;, sans-serif" textLength="8" lengthAdjust="spacingAndGlyphs" font-weight="bold" stroke="#000" stroke-width="0.22">160</text>
<line x1="598.3" y1="228.3" x2="694.5" y2="228.3" stroke="#000" stroke-width="0.72"/>
<line x1="598.3" y1="267.5" x2="694.5" y2="267.5" stroke="#000" stroke-width="0.72"/>
<line x1="663" y1="231.7" x2="681.5" y2="231.7" stroke="#000" stroke-width="0.72"/>
<line x1="663" y1="264.2" x2="681.5" y2="264.2" stroke="#000" stroke-width="0.72"/>
<line x1="680.3" y1="231.7" x2="680.3" y2="264.2" stroke="#000" stroke-width="0.72"/>
<line x1="693.3" y1="228.3" x2="693.3" y2="267.5" stroke="#000" stroke-width="0.72"/>
<line x1="598.3" y1="228.3" x2="598.3" y2="267.5" stroke="#000" stroke-width="0.72"/>
<text x="677.3" y="249.8" font-size="5" text-anchor="middle" fill="#000" font-family="&quot;Liberation Sans&quot;, sans-serif" textLength="8" lengthAdjust="spacingAndGlyphs" transform="rotate(-90 677.3 248)" font-weight="bold" stroke="#000" stroke-width="0.22">160</text>
<text x="689.8" y="249.8" font-size="5" text-anchor="middle" fill="#000" font-family="&quot;Liberation Sans&quot;, sans-serif" textLength="8" lengthAdjust="spacingAndGlyphs" transform="rotate(-90 689.8 248)" font-weight="bold" stroke="#000" stroke-width="0.22">190</text>
<text x="595" y="241.3" font-size="5" text-anchor="middle" fill="#000" font-family="&quot;Liberation Sans&quot;, sans-serif" textLength="13" lengthAdjust="spacingAndGlyphs" transform="rotate(-90 595 239.5)" font-weight="bold" stroke="#000" stroke-width="0.22">87±0.1</text>
<text x="595" y="259.6" font-size="5" text-anchor="middle" fill="#000" font-family="&quot;Liberation Sans&quot;, sans-serif" textLength="13" lengthAdjust="spacingAndGlyphs" transform="rotate(-90 595 257.8)" font-weight="bold" stroke="#000" stroke-width="0.22">87±0.1</text>
<line x1="605" y1="248" x2="670" y2="248" stroke="#000" stroke-width="0.7"/>
<line x1="643.8" y1="218.3" x2="643.8" y2="281" stroke="#000" stroke-width="0.7"/>
<line x1="611.7" y1="279.2" x2="675" y2="279.2" stroke="#000" stroke-width="0.72"/>
<line x1="630.8" y1="267" x2="630.8" y2="281" stroke="#000" stroke-width="0.72"/>
<line x1="656.7" y1="267" x2="656.7" y2="281" stroke="#000" stroke-width="0.72"/>
<text x="619.5" y="277.6" font-size="5" text-anchor="middle" fill="#000" font-family="&quot;Liberation Sans&quot;, sans-serif" textLength="13.5" lengthAdjust="spacingAndGlyphs" font-weight="bold" stroke="#000" stroke-width="0.22">62±0.1</text>
<text x="668.5" y="277.6" font-size="5" text-anchor="middle" fill="#000" font-family="&quot;Liberation Sans&quot;, sans-serif" textLength="13.5" lengthAdjust="spacingAndGlyphs" font-weight="bold" stroke="#000" stroke-width="0.22">62±0.1</text>
<path d="M622.4 234 L622.4 228.4 L634.7 228.4 C640 226.6,650 226.8,656.4 229.5 L663 237.8 L663 258.6 L656.4 266.1 C650 269,640 269.2,634.7 267.5 L624.3 267.5 L624.3 261.4 L620.5 261.4 L619.1 259.5 L619.1 240.2 L625.2 240.2 L627.1 236.4 L623.4 234 Z" fill="none" stroke="#000" stroke-width="1.2"/>
<path d="M626.85 257.9 A19.8 19.8 0 1 0 626.85 238.1" fill="none" stroke="#000" stroke-width="1.0"/>
<line x1="616.4" y1="234" x2="616.4" y2="262.3" stroke="#111" stroke-width="2.0"/>
<circle cx="626.2" cy="230.9" r="1.7" fill="none" stroke="#000" stroke-width="0.7"/>
<circle cx="626.2" cy="230.9" r="0.6" fill="#111" stroke="#000" stroke-width="0.3"/>
<circle cx="660.2" cy="230.9" r="1.7" fill="none" stroke="#000" stroke-width="0.7"/>
<circle cx="660.2" cy="230.9" r="0.6" fill="#111" stroke="#000" stroke-width="0.3"/>
<circle cx="626.2" cy="265.1" r="1.7" fill="none" stroke="#000" stroke-width="0.7"/>
<circle cx="626.2" cy="265.1" r="0.6" fill="#111" stroke="#000" stroke-width="0.3"/>
<circle cx="660.2" cy="265.1" r="1.7" fill="none" stroke="#000" stroke-width="0.7"/>
<circle cx="660.2" cy="265.1" r="0.6" fill="#111" stroke="#000" stroke-width="0.3"/>
<circle cx="635.2" cy="229.2" r="1" fill="#111" stroke="#000" stroke-width="0.3"/>
<circle cx="646.5" cy="228.6" r="1" fill="#111" stroke="#000" stroke-width="0.3"/>
<circle cx="663" cy="238" r="1" fill="#111" stroke="#000" stroke-width="0.3"/>
<circle cx="663" cy="258.5" r="1" fill="#111" stroke="#000" stroke-width="0.3"/>
<circle cx="635.2" cy="267.2" r="1" fill="#111" stroke="#000" stroke-width="0.3"/>
<circle cx="646.5" cy="267.6" r="1" fill="#111" stroke="#000" stroke-width="0.3"/>
<path d="M606.4 235.9 L614.4 235.9 L614.4 248.2 L606.4 248.2 L608.6 242 Z" fill="#333" stroke="#000" stroke-width="0.9"/>
<rect x="610.2" y="238" width="3.2" height="8" rx="0" fill="#ddd" stroke="#000" stroke-width="0.4"/>
<rect x="612.4" y="252" width="3.6" height="5.6" rx="0" fill="#111" stroke="#000" stroke-width="0.5"/>
<rect x="614.2" y="250.5" width="2" height="9" rx="0" fill="#222" stroke="#000" stroke-width="0.4"/>
<text x="599.2" y="214.3" font-size="5" text-anchor="end" fill="#000" font-family="&quot;Liberation Sans&quot;, sans-serif" textLength="39" lengthAdjust="spacingAndGlyphs" font-weight="bold" stroke="#000" stroke-width="0.22">4-ø12 HOLE THRU</text>
<path d="M559 215.4 L603.3 215.4 L625.3 230.3" fill="none" stroke="#000" stroke-width="0.72"/>
<path d="M656.7 268.3 L661 289.4 L712 289.4" fill="none" stroke="#000" stroke-width="0.72"/>
<text x="668.3" y="287.6" font-size="5" text-anchor="start" fill="#000" font-family="&quot;Liberation Sans&quot;, sans-serif" textLength="18" lengthAdjust="spacingAndGlyphs" font-weight="bold" stroke="#000" stroke-width="0.22">2-ø6 H7</text>
<text x="689" y="285.4" font-size="5" text-anchor="start" fill="#000" font-family="&quot;Liberation Sans&quot;, sans-serif" textLength="8" lengthAdjust="spacingAndGlyphs" font-weight="bold" stroke="#000" stroke-width="0.22">+0.012</text>
<text x="689" y="288.8" font-size="5" text-anchor="start" fill="#000" font-family="&quot;Liberation Sans&quot;, sans-serif" font-weight="bold" stroke="#000" stroke-width="0.22">0</text>
<text x="668.3" y="295" font-size="5" text-anchor="start" fill="#000" font-family="&quot;Liberation Sans&quot;, sans-serif" textLength="45" lengthAdjust="spacingAndGlyphs" font-weight="bold" stroke="#000" stroke-width="0.22">REAMER HOLE THRU.</text>
<text x="640.85" y="307.04" font-size="9" text-anchor="middle" fill="#222" font-family="&quot;Liberation Sans&quot;, sans-serif" textLength="38.3" lengthAdjust="spacingAndGlyphs">DETAIL &quot;B&quot;</text>
<line x1="621.7" y1="308.8" x2="660" y2="308.8" stroke="#222" stroke-width="0.7"/>
<line x1="532.5" y1="263.8" x2="582.5" y2="263.8" stroke="#000" stroke-width="0.72"/>
<line x1="534.2" y1="274.2" x2="580.8" y2="274.2" stroke="#000" stroke-width="0.72"/>
<text x="557.5" y="262.5" font-size="5" text-anchor="middle" fill="#000" font-family="&quot;Liberation Sans&quot;, sans-serif" textLength="8" lengthAdjust="spacingAndGlyphs" font-weight="bold" stroke="#000" stroke-width="0.22">267</text>
<text x="557.5" y="272.7" font-size="5" text-anchor="middle" fill="#000" font-family="&quot;Liberation Sans&quot;, sans-serif" textLength="8" lengthAdjust="spacingAndGlyphs" font-weight="bold" stroke="#000" stroke-width="0.22">225</text>
<line x1="532.5" y1="262" x2="532.5" y2="386" stroke="#000" stroke-width="0.72"/>
<line x1="582.5" y1="262" x2="582.5" y2="386" stroke="#000" stroke-width="0.72"/>
<line x1="534.2" y1="272.5" x2="534.2" y2="300" stroke="#000" stroke-width="0.72"/>
<line x1="580.8" y1="272.5" x2="580.8" y2="300" stroke="#000" stroke-width="0.72"/>
<line x1="557.5" y1="278.3" x2="557.5" y2="505" stroke="#000" stroke-width="0.5"/>
<line x1="526.7" y1="306.7" x2="588" y2="306.7" stroke="#000" stroke-width="0.5"/>
<line x1="541" y1="298.3" x2="574" y2="298.3" stroke="#000" stroke-width="0.5"/>
<line x1="526.7" y1="400.8" x2="588" y2="400.8" stroke="#000" stroke-width="0.5"/>
<rect x="544.6" y="285.4" width="25.8" height="25.6" rx="7" fill="#8a8a8a" stroke="#111" stroke-width="1.8"/>
<rect x="547.4" y="288.2" width="20.2" height="19.6" rx="4.5" fill="#b5b5b5" stroke="#222" stroke-width="0.8"/>
<path d="M546.5 305.5 L568.5 305.5 L566.8 310.6 L548.2 310.6 Z" fill="#444" stroke="#000" stroke-width="0.5"/>
<line x1="548.2" y1="290" x2="548.2" y2="305" stroke="#333" stroke-width="1.2"/>
<line x1="566.8" y1="290" x2="566.8" y2="305" stroke="#333" stroke-width="1.2"/>
<circle cx="557.5" cy="297.8" r="5.8" fill="#fff" stroke="#111" stroke-width="1.0"/>
<circle cx="557.5" cy="297.8" r="4.2" fill="#e4e4e4" stroke="#333" stroke-width="0.5"/>
<line x1="555.5" y1="294.6" x2="555.5" y2="301" stroke="#444" stroke-width="0.4"/>
<line x1="554.3" y1="295.8" x2="560.7" y2="295.8" stroke="#444" stroke-width="0.4"/>
<line x1="557.5" y1="294.6" x2="557.5" y2="301" stroke="#444" stroke-width="0.4"/>
<line x1="554.3" y1="297.8" x2="560.7" y2="297.8" stroke="#444" stroke-width="0.4"/>
<line x1="559.5" y1="294.6" x2="559.5" y2="301" stroke="#444" stroke-width="0.4"/>
<line x1="554.3" y1="299.8" x2="560.7" y2="299.8" stroke="#444" stroke-width="0.4"/>
<line x1="557.5" y1="278.3" x2="557.5" y2="312" stroke="#000" stroke-width="0.6"/>
<line x1="541" y1="298.3" x2="574" y2="298.3" stroke="#000" stroke-width="0.6"/>
<path d="M544.5 293.5 L536.5 293.5 C535 294,534.4 295.5,534.4 297.5 L534.4 337 C534.6 347,538 357,541.5 366 C543.5 371,545.5 377,546 383.5" fill="none" stroke="#000" stroke-width="1.1"/>
<path d="M570.5 293.5 L578.5 293.5 C580 294,580.6 295.5,580.6 297.5 L580.6 337 C580.4 347,577 357,573.5 366 C571.5 371,569.5 377,569 383.5" fill="none" stroke="#000" stroke-width="1.1"/>
<path d="M536.4 297 L536.4 337 C536.8 347,540 357,543.5 366 C545.3 371,547 377,547.6 383" fill="none" stroke="#000" stroke-width="0.6"/>
<path d="M578.6 297 L578.6 337 C578.2 347,575 357,571.5 366 C569.7 371,568 377,567.4 383" fill="none" stroke="#000" stroke-width="0.6"/>
<path d="M538.4 300 C537.6 320,538.4 340,542 352 C544.5 360,547.5 368,549.2 376" fill="none" stroke="#000" stroke-width="0.7"/>
<path d="M576.6 300 C577.4 320,576.6 340,573 352 C570.5 360,567.5 368,565.8 376" fill="none" stroke="#000" stroke-width="0.7"/>
<path d="M540.6 304 C539.8 322,540.8 338,544.6 350 C546.8 357,549 364,550.6 372" fill="none" stroke="#000" stroke-width="0.6"/>
<path d="M574.4 304 C575.2 322,574.2 338,570.4 350 C568.2 357,566 364,564.4 372" fill="none" stroke="#000" stroke-width="0.6"/>
<path d="M537.2 306 L537.2 330" fill="none" stroke="#444" stroke-width="1.6"/>
<path d="M577.8 306 L577.8 330" fill="none" stroke="#444" stroke-width="1.6"/>
<path d="M539 340 C540 348,542.5 356,545 362" fill="none" stroke="#444" stroke-width="1.4"/>
<path d="M576 340 C575 348,572.5 356,570 362" fill="none" stroke="#444" stroke-width="1.4"/>
<path d="M544.6 306 L544.6 311 L548.9 312.2 L548.9 318.3 L541.7 320 C541.3 330,547 333.8,557.5 333.8 C568 333.8,573.7 330,573.3 320 L566.1 318.3 L566.1 312.2 L570.4 311 L570.4 306" fill="none" stroke="#000" stroke-width="1.0"/>
<path d="M540.8 331.8 C541.8 338,543.8 343,546.4 348" fill="none" stroke="#000" stroke-width="0.7"/>
<path d="M574.2 331.8 C573.2 338,571.2 343,568.6 348" fill="none" stroke="#000" stroke-width="0.7"/>
<path d="M543 330 C544.5 337,547 342,549.5 346" fill="none" stroke="#000" stroke-width="0.5"/>
<path d="M572 330 C570.5 337,568 342,565.5 346" fill="none" stroke="#000" stroke-width="0.5"/>
<line x1="549.8" y1="338" x2="549.8" y2="347" stroke="#000" stroke-width="0.7"/>
<line x1="553" y1="339" x2="553" y2="347" stroke="#000" stroke-width="0.5"/>
<line x1="562" y1="339" x2="562" y2="347" stroke="#000" stroke-width="0.5"/>
<line x1="565.2" y1="338" x2="565.2" y2="347" stroke="#000" stroke-width="0.7"/>
<line x1="551" y1="351.2" x2="564" y2="351.2" stroke="#333" stroke-width="1.1"/>
<path d="M545 383.5 L534.2 384.5 L534.2 430 C534.5 438,536 443,538 448" fill="none" stroke="#000" stroke-width="1.0"/>
<path d="M570 383.5 L580.8 384.5 L580.8 430 C580.5 438,579 443,577 448" fill="none" stroke="#000" stroke-width="1.0"/>
<line x1="536.8" y1="386" x2="536.8" y2="432" stroke="#000" stroke-width="0.6"/>
<line x1="578.2" y1="386" x2="578.2" y2="432" stroke="#000" stroke-width="0.6"/>
<path d="M538.6 392 C537.6 405,537.6 420,539 434" fill="none" stroke="#333" stroke-width="1.5"/>
<path d="M576.4 392 C577.4 405,577.4 420,576 434" fill="none" stroke="#333" stroke-width="1.5"/>
<path d="M535.5 410 C537.5 412,538.5 416,538 422 M579.5 410 C577.5 412,576.5 416,577 422" fill="none" stroke="#000" stroke-width="0.8"/>
<line x1="542.5" y1="418.3" x2="572.5" y2="418.3" stroke="#222" stroke-width="1.4"/>
<rect x="542.5" y="385" width="30" height="35" rx="0" fill="none" stroke="#000" stroke-width="1.0"/>
<line x1="540" y1="386" x2="540" y2="430" stroke="#000" stroke-width="0.6"/>
<line x1="575" y1="386" x2="575" y2="430" stroke="#000" stroke-width="0.6"/>
<path d="M545 388 C549 390,553 388.5,557.5 389.5 C562 388.5,566 390,570 388" fill="none" stroke="#000" stroke-width="0.6"/>
<path d="M542.5 420 L542.5 433 C548 437.5,567 437.5,572.5 433 L572.5 420" fill="none" stroke="#000" stroke-width="0.8"/>
<path d="M546 427 C551 432,564 432,569 427" fill="none" stroke="#000" stroke-width="0.7"/>
<rect x="543" y="423" width="5" height="13" rx="0" fill="none" stroke="#000" stroke-width="0.6"/>
<circle cx="544.8" cy="431.5" r="1.1" fill="none" stroke="#000" stroke-width="0.5"/>
<circle cx="544.8" cy="442" r="1.1" fill="none" stroke="#000" stroke-width="0.5"/>
<circle cx="574" cy="445" r="0.9" fill="#111" stroke="#000" stroke-width="0.3"/>
<line x1="545" y1="424.5" x2="570" y2="424.5" stroke="#333" stroke-width="0.9"/>
<line x1="537" y1="448.3" x2="578" y2="448.3" stroke="#000" stroke-width="0.9"/>
<line x1="537" y1="451" x2="578" y2="451" stroke="#000" stroke-width="0.7"/>
<ellipse cx="539" cy="452.5" rx="1.3" ry="2.6" fill="none" stroke="#000" stroke-width="0.6"/>
<ellipse cx="576" cy="452.5" rx="1.3" ry="2.6" fill="none" stroke="#000" stroke-width="0.6"/>
<path d="M537 451 L537 495 L578 495 L578 451" fill="none" stroke="#000" stroke-width="1.0"/>
<path d="M539 457 C545 462,570 462,576 457" fill="none" stroke="#000" stroke-width="0.7"/>
<path d="M546.7 491.7 L546.7 466 C549 463.5,566 463.5,568.3 466 L568.3 491.7" fill="none" stroke="#000" stroke-width="0.9"/>
<line x1="541.5" y1="467" x2="541.5" y2="488" stroke="#555" stroke-width="0.9"/>
<line x1="543.5" y1="467" x2="543.5" y2="488" stroke="#000" stroke-width="0.5"/>
<line x1="573.5" y1="467" x2="573.5" y2="488" stroke="#555" stroke-width="0.9"/>
<line x1="571.5" y1="467" x2="571.5" y2="488" stroke="#000" stroke-width="0.5"/>
<line x1="537" y1="491.7" x2="578" y2="491.7" stroke="#222" stroke-width="1.2"/>
<line x1="538" y1="493.6" x2="577" y2="493.6" stroke="#000" stroke-width="0.6"/>
<circle cx="547.3" cy="478" r="0.8" fill="#111" stroke="#000" stroke-width="0.3"/>
<circle cx="567.7" cy="478" r="0.8" fill="#111" stroke="#000" stroke-width="0.3"/>
<circle cx="547.5" cy="465.5" r="0.8" fill="#111" stroke="#000" stroke-width="0.3"/>
<circle cx="567.5" cy="465.5" r="0.8" fill="#111" stroke="#000" stroke-width="0.3"/>
<path d="M554.5 447 L560.5 447" fill="none" stroke="#000" stroke-width="0.9"/>
<path d="M555 451.5 L560 451.5" fill="none" stroke="#000" stroke-width="0.9"/>
<line x1="557.5" y1="440" x2="557.5" y2="456" stroke="#000" stroke-width="1.0"/>
<line x1="537" y1="495" x2="537" y2="514" stroke="#000" stroke-width="0.72"/>
<line x1="578" y1="495" x2="578" y2="514" stroke="#000" stroke-width="0.72"/>
<line x1="537" y1="512.5" x2="578" y2="512.5" stroke="#000" stroke-width="0.72"/>
<text x="557.5" y="510.8" font-size="5" text-anchor="middle" fill="#000" font-family="&quot;Liberation Sans&quot;, sans-serif" textLength="8" lengthAdjust="spacingAndGlyphs" font-weight="bold" stroke="#000" stroke-width="0.22">190</text>
<path d="M650.3 436.8 L650.3 366 C650.3 363.5,651.5 362.5,654 361.8 C668 354.2,690 354.2,704 361.8 C706.5 362.5,707.5 363.5,707.5 366 L707.5 436.8 C707.5 438,706.5 439,705 439 L652.8 439 C651.3 439,650.3 438,650.3 436.8 Z" fill="none" stroke="#000" stroke-width="0.9"/>
<circle cx="652.6" cy="364.3" r="1.35" fill="#111" stroke="#000" stroke-width="0.3"/>
<circle cx="679.2" cy="358" r="1.35" fill="#111" stroke="#000" stroke-width="0.3"/>
<circle cx="705.6" cy="364.3" r="1.35" fill="#111" stroke="#000" stroke-width="0.3"/>
<circle cx="652.6" cy="400.5" r="1.35" fill="#111" stroke="#000" stroke-width="0.3"/>
<circle cx="705.6" cy="400.5" r="1.35" fill="#111" stroke="#000" stroke-width="0.3"/>
<circle cx="652.6" cy="436.8" r="1.35" fill="#111" stroke="#000" stroke-width="0.3"/>
<circle cx="679.2" cy="436.8" r="1.35" fill="#111" stroke="#000" stroke-width="0.3"/>
<circle cx="705.6" cy="436.8" r="1.35" fill="#111" stroke="#000" stroke-width="0.3"/>
<rect x="679.5" y="375" width="25.5" height="53.5" rx="4" fill="none" stroke="#000" stroke-width="1.4"/>
<rect x="681.3" y="377.5" width="22" height="48.5" rx="3" fill="none" stroke="#000" stroke-width="0.6"/>
<rect x="685.8" y="372.2" width="12.5" height="5.5" rx="0" fill="none" stroke="#000" stroke-width="1.0"/>
<rect x="685.8" y="425.8" width="12.5" height="5.5" rx="1" fill="none" stroke="#000" stroke-width="1.0"/>
<rect x="688.5" y="373.5" width="7" height="2.6" rx="0" fill="#333" stroke="#000" stroke-width="0.5"/>
<rect x="683.5" y="380" width="17.6" height="40" rx="1.5" fill="#3c3c3c" stroke="#000" stroke-width="0.8"/>
<line x1="686.43" y1="388" x2="686.43" y2="413" stroke="#aaa" stroke-width="0.4"/>
<line x1="689.36" y1="388" x2="689.36" y2="413" stroke="#aaa" stroke-width="0.4"/>
<line x1="692.29" y1="388" x2="692.29" y2="413" stroke="#aaa" stroke-width="0.4"/>
<line x1="695.22" y1="388" x2="695.22" y2="413" stroke="#aaa" stroke-width="0.4"/>
<line x1="698.15" y1="388" x2="698.15" y2="413" stroke="#aaa" stroke-width="0.4"/>
<line x1="684.5" y1="390.5" x2="700" y2="390.5" stroke="#999" stroke-width="0.35"/>
<line x1="684.5" y1="393" x2="700" y2="393" stroke="#999" stroke-width="0.35"/>
<line x1="684.5" y1="395.5" x2="700" y2="395.5" stroke="#999" stroke-width="0.35"/>
<line x1="684.5" y1="398" x2="700" y2="398" stroke="#999" stroke-width="0.35"/>
<line x1="684.5" y1="400.5" x2="700" y2="400.5" stroke="#999" stroke-width="0.35"/>
<line x1="684.5" y1="403" x2="700" y2="403" stroke="#999" stroke-width="0.35"/>
<line x1="684.5" y1="405.5" x2="700" y2="405.5" stroke="#999" stroke-width="0.35"/>
<line x1="684.5" y1="408" x2="700" y2="408" stroke="#999" stroke-width="0.35"/>
<line x1="684.5" y1="410.5" x2="700" y2="410.5" stroke="#999" stroke-width="0.35"/>
<rect x="685.3" y="381.8" width="14" height="5.4" rx="0" fill="#fff" stroke="#000" stroke-width="0.4"/>
<rect x="689.5" y="382.6" width="5.5" height="3.6" rx="0" fill="#222" stroke="#000" stroke-width="0.4"/>
<rect x="685.3" y="413.5" width="14" height="5" rx="0" fill="#fff" stroke="#000" stroke-width="0.4"/>
<circle cx="688.3" cy="416" r="1.1" fill="#333" stroke="#000" stroke-width="0.3"/>
<circle cx="696.3" cy="416" r="1.1" fill="#333" stroke="#000" stroke-width="0.3"/>
<rect x="679" y="386" width="2.5" height="5" rx="0" fill="#333" stroke="#000" stroke-width="0.5"/>
<rect x="703" y="386" width="2.5" height="5" rx="0" fill="#333" stroke="#000" stroke-width="0.5"/>
<rect x="679" y="408" width="2.5" height="5" rx="0" fill="#333" stroke="#000" stroke-width="0.5"/>
<rect x="703" y="408" width="2.5" height="5" rx="0" fill="#333" stroke="#000" stroke-width="0.5"/>
<circle cx="662.2" cy="407.2" r="2.1" fill="#222" stroke="#000" stroke-width="0.5"/>
<circle cx="670.5" cy="407.2" r="2.1" fill="#222" stroke="#000" stroke-width="0.5"/>
<circle cx="666.3" cy="420" r="4.6" fill="none" stroke="#000" stroke-width="1.0"/>
<circle cx="666.3" cy="420" r="3.2" fill="none" stroke="#000" stroke-width="0.5"/>
<text x="676.7" y="338.4" font-size="5" text-anchor="middle" fill="#000" font-family="&quot;Liberation Sans&quot;, sans-serif" textLength="8.5" lengthAdjust="spacingAndGlyphs" font-weight="bold" stroke="#000" stroke-width="0.22">CMR</text>
<path d="M605.8 339.3 L684.2 339.3 L691.7 372.5" fill="none" stroke="#000" stroke-width="0.72"/>
<text x="680.8" y="344.6" font-size="5" text-anchor="end" fill="#000" font-family="&quot;Liberation Sans&quot;, sans-serif" textLength="49" lengthAdjust="spacingAndGlyphs" font-weight="bold" stroke="#000" stroke-width="0.22">S/H/V/R2/B/R1 Axis</text>
<text x="680.8" y="352.1" font-size="5" text-anchor="end" fill="#000" font-family="&quot;Liberation Sans&quot;, sans-serif" textLength="75.5" lengthAdjust="spacingAndGlyphs" font-weight="bold" stroke="#000" stroke-width="0.22">POWER, ENCODER, BRAKE (72PIN)</text>
<text x="641.7" y="367.8" font-size="5" text-anchor="end" fill="#000" font-family="&quot;Liberation Sans&quot;, sans-serif" textLength="45.5" lengthAdjust="spacingAndGlyphs" font-weight="bold" stroke="#000" stroke-width="0.22">AIR2 Inlet(Standard)</text>
<text x="641.7" y="374.6" font-size="5" text-anchor="end" fill="#000" font-family="&quot;Liberation Sans&quot;, sans-serif" textLength="34.5" lengthAdjust="spacingAndGlyphs" font-weight="bold" stroke="#000" stroke-width="0.22">Tapped hole M5</text>
<path d="M595.8 369.3 L644.2 369.3 L669.7 405.8" fill="none" stroke="#000" stroke-width="0.72"/>
<text x="640" y="388.8" font-size="5" text-anchor="end" fill="#000" font-family="&quot;Liberation Sans&quot;, sans-serif" textLength="46.5" lengthAdjust="spacingAndGlyphs" font-weight="bold" stroke="#000" stroke-width="0.22">Sol V/V Inlet(Option)</text>
<text x="640" y="395.2" font-size="5" text-anchor="end" fill="#000" font-family="&quot;Liberation Sans&quot;, sans-serif" textLength="34.5" lengthAdjust="spacingAndGlyphs" font-weight="bold" stroke="#000" stroke-width="0.22">Tapped hole M5</text>
<path d="M593.3 397.6 L643.3 397.6 L660.8 405.8" fill="none" stroke="#000" stroke-width="0.72"/>
<text x="641.7" y="415.1" font-size="5" text-anchor="end" fill="#000" font-family="&quot;Liberation Sans&quot;, sans-serif" textLength="45" lengthAdjust="spacingAndGlyphs" font-weight="bold" stroke="#000" stroke-width="0.22">AIR1 Inlet(Standard)</text>
<text x="641.7" y="421.8" font-size="5" text-anchor="end" fill="#000" font-family="&quot;Liberation Sans&quot;, sans-serif" textLength="34.5" lengthAdjust="spacingAndGlyphs" font-weight="bold" stroke="#000" stroke-width="0.22">Tapped hole M5</text>
<path d="M597.5 425 L647.5 425 L660.6 409.5" fill="none" stroke="#000" stroke-width="0.72"/>
<text x="651.7" y="447.1" font-size="5" text-anchor="end" fill="#000" font-family="&quot;Liberation Sans&quot;, sans-serif" textLength="33.5" lengthAdjust="spacingAndGlyphs" font-weight="bold" stroke="#000" stroke-width="0.22">ASR1 USER I/O</text>
<text x="651.7" y="453.8" font-size="5" text-anchor="end" fill="#000" font-family="&quot;Liberation Sans&quot;, sans-serif" textLength="42" lengthAdjust="spacingAndGlyphs" font-weight="bold" stroke="#000" stroke-width="0.22">I/O wiring harness:</text>
<text x="651.7" y="461" font-size="5" text-anchor="end" fill="#000" font-family="&quot;Liberation Sans&quot;, sans-serif" textLength="54.5" lengthAdjust="spacingAndGlyphs" font-weight="bold" stroke="#000" stroke-width="0.22">LF13WBRB-20S(HIROSE)</text>
<path d="M597.5 455.4 L654.2 455.4 L664.8 424.3" fill="none" stroke="#000" stroke-width="0.72"/>
<text x="687.35" y="456.64" font-size="9" text-anchor="middle" fill="#222" font-family="&quot;Liberation Sans&quot;, sans-serif" textLength="38.7" lengthAdjust="spacingAndGlyphs">DETAIL &quot;C&quot;</text>
<line x1="668" y1="458.4" x2="706.7" y2="458.4" stroke="#222" stroke-width="0.7"/>
<text x="687.15" y="463.4" font-size="5" text-anchor="middle" fill="#5c5c5c" font-family="&quot;Liberation Sans&quot;, sans-serif" textLength="28.3" lengthAdjust="spacingAndGlyphs">(SCALE 2/1)</text>
<line x1="674" y1="459.3" x2="700.7" y2="459.3" stroke="#999" stroke-width="0.4"/>
<rect x="524.5" y="517.6" width="122.2" height="90.6" rx="3" fill="none" stroke="#000" stroke-width="0.9" stroke-dasharray="2.4 0.8 0.6 0.8"/>
<circle cx="599.2" cy="555.8" r="24.2" fill="none" stroke="#000" stroke-width="0.8"/>
<clipPath id="ce"><circle cx="599.2" cy="555.8" r="24"/></clipPath><g clip-path="url(#ce)">
<path d="M581 535 C583 550,587 565,590.5 582" fill="none" stroke="#000" stroke-width="0.8"/>
<path d="M584.5 535 C586.5 550,590 565,593.5 582" fill="none" stroke="#000" stroke-width="0.5"/>
<path d="M578.5 540 C579.5 547,581.5 552,583.5 556 C585 565,588 575,590 582" fill="none" stroke="#000" stroke-width="0.5"/>
<path d="M617.4 535 C615.4 550,611.4 565,607.9 582" fill="none" stroke="#000" stroke-width="0.8"/>
<path d="M613.9 535 C611.9 550,608.4 565,604.9 582" fill="none" stroke="#000" stroke-width="0.5"/>
<path d="M619.9 540 C618.9 547,616.9 552,614.9 556 C613.4 565,610.4 575,608.4 582" fill="none" stroke="#000" stroke-width="0.5"/>
<rect x="576.6" y="546" width="3" height="9" rx="1.4" fill="#444" stroke="#000" stroke-width="0.5"/>
<rect x="618.8" y="546" width="3" height="9" rx="1.4" fill="#444" stroke="#000" stroke-width="0.5"/>
<path d="M586 538.5 C592 535.5,606 535.5,612 538.5" fill="none" stroke="#555" stroke-width="0.5" stroke-dasharray="2 1"/>
<path d="M587 541 C593 538.5,605 538.5,611 541" fill="none" stroke="#555" stroke-width="0.5" stroke-dasharray="2 1"/>
</g>
<line x1="599.2" y1="525.8" x2="599.2" y2="580" stroke="#000" stroke-width="0.8"/>
<line x1="594.7" y1="526" x2="594.7" y2="556" stroke="#000" stroke-width="0.5"/>
<line x1="596.3" y1="526" x2="596.3" y2="556" stroke="#000" stroke-width="0.5"/>
<line x1="603.4" y1="526" x2="603.4" y2="556" stroke="#000" stroke-width="0.5"/>
<line x1="580" y1="526.7" x2="619.2" y2="526.7" stroke="#000" stroke-width="0.72"/>
<text x="583.3" y="525.4" font-size="5" text-anchor="middle" fill="#000" font-family="&quot;Liberation Sans&quot;, sans-serif" textLength="5.2" lengthAdjust="spacingAndGlyphs" font-weight="bold" stroke="#000" stroke-width="0.22">20</text>
<text x="615" y="525.4" font-size="5" text-anchor="middle" fill="#000" font-family="&quot;Liberation Sans&quot;, sans-serif" textLength="5.2" lengthAdjust="spacingAndGlyphs" font-weight="bold" stroke="#000" stroke-width="0.22">20</text>
<ellipse cx="594.2" cy="555.8" rx="2.7" ry="2.2" fill="#222" stroke="#000" stroke-width="0.9"/>
<ellipse cx="603.6" cy="555.8" rx="2.7" ry="2.2" fill="#222" stroke="#000" stroke-width="0.9"/>
<ellipse cx="594.8" cy="555.8" rx="1.3" ry="1.1" fill="#fff" stroke="#fff" stroke-width="0.3"/>
<ellipse cx="603" cy="555.8" rx="1.3" ry="1.1" fill="#fff" stroke="#fff" stroke-width="0.3"/>
<line x1="603" y1="555.8" x2="633.5" y2="555.8" stroke="#000" stroke-width="0.72"/>
<line x1="632.5" y1="555.8" x2="632.5" y2="578.5" stroke="#000" stroke-width="0.72"/>
<text x="629.6" y="569.8" font-size="5" text-anchor="middle" fill="#000" font-family="&quot;Liberation Sans&quot;, sans-serif" textLength="12" lengthAdjust="spacingAndGlyphs" transform="rotate(-90 629.6 568)" font-weight="bold" stroke="#000" stroke-width="0.22">181.2</text>
<text x="553" y="570.5" font-size="5" text-anchor="middle" fill="#000" font-family="&quot;Liberation Sans&quot;, sans-serif" textLength="36" lengthAdjust="spacingAndGlyphs" font-weight="bold" stroke="#000" stroke-width="0.22">2-M4 TAP DP10</text>
<path d="M535 572.6 L574 572.6 L592.5 557.5" fill="none" stroke="#000" stroke-width="0.72"/>
<text x="597.75" y="595.84" font-size="9" text-anchor="middle" fill="#222" font-family="&quot;Liberation Sans&quot;, sans-serif" textLength="37.9" lengthAdjust="spacingAndGlyphs">DETAIL &quot;E&quot;</text>
<line x1="578.8" y1="597.2" x2="616.7" y2="597.2" stroke="#222" stroke-width="0.7"/>
<text x="597.75" y="602.8" font-size="5" text-anchor="middle" fill="#5c5c5c" font-family="&quot;Liberation Sans&quot;, sans-serif" textLength="27.9" lengthAdjust="spacingAndGlyphs">(SCALE 1/1)</text>
<line x1="584.8" y1="598.1" x2="610.7" y2="598.1" stroke="#999" stroke-width="0.4"/>
<path d="M816.8 318.2 L806.6 335.87 L786.2 335.87 L776 318.2 L786.2 300.53 L806.6 300.53 Z" fill="none" stroke="#000" stroke-width="0.8"/>
<circle cx="796.4" cy="318.2" r="17.2" fill="none" stroke="#000" stroke-width="0.8"/>
<circle cx="796.4" cy="318.2" r="13.4" fill="none" stroke="#000" stroke-width="0.6"/>
<circle cx="796.4" cy="318.2" r="10.6" fill="none" stroke="#000" stroke-width="0.6"/>
<circle cx="796.4" cy="318.2" r="8.2" fill="none" stroke="#000" stroke-width="0.8"/>
<circle cx="796.4" cy="312.2" r="0.95" fill="#111" stroke="#000" stroke-width="0.2"/>
<circle cx="793.4" cy="314.6" r="0.95" fill="#111" stroke="#000" stroke-width="0.2"/>
<circle cx="796.4" cy="314.6" r="0.95" fill="#111" stroke="#000" stroke-width="0.2"/>
<circle cx="799.4" cy="314.6" r="0.95" fill="#111" stroke="#000" stroke-width="0.2"/>
<circle cx="791.4" cy="317" r="0.95" fill="#111" stroke="#000" stroke-width="0.2"/>
<circle cx="793.9" cy="317" r="0.95" fill="#111" stroke="#000" stroke-width="0.2"/>
<circle cx="796.4" cy="317" r="0.95" fill="#111" stroke="#000" stroke-width="0.2"/>
<circle cx="798.9" cy="317" r="0.95" fill="#111" stroke="#000" stroke-width="0.2"/>
<circle cx="801.4" cy="317" r="0.95" fill="#111" stroke="#000" stroke-width="0.2"/>
<circle cx="791.4" cy="319.4" r="0.95" fill="#111" stroke="#000" stroke-width="0.2"/>
<circle cx="793.9" cy="319.4" r="0.95" fill="#111" stroke="#000" stroke-width="0.2"/>
<circle cx="796.4" cy="319.4" r="0.95" fill="#111" stroke="#000" stroke-width="0.2"/>
<circle cx="798.9" cy="319.4" r="0.95" fill="#111" stroke="#000" stroke-width="0.2"/>
<circle cx="801.4" cy="319.4" r="0.95" fill="#111" stroke="#000" stroke-width="0.2"/>
<circle cx="792.8" cy="321.8" r="0.95" fill="#111" stroke="#000" stroke-width="0.2"/>
<circle cx="795.2" cy="321.8" r="0.95" fill="#111" stroke="#000" stroke-width="0.2"/>
<circle cx="797.6" cy="321.8" r="0.95" fill="#111" stroke="#000" stroke-width="0.2"/>
<circle cx="800" cy="321.8" r="0.95" fill="#111" stroke="#000" stroke-width="0.2"/>
<circle cx="795.2" cy="324" r="0.95" fill="#111" stroke="#000" stroke-width="0.2"/>
<circle cx="797.6" cy="324" r="0.95" fill="#111" stroke="#000" stroke-width="0.2"/>
<path d="M795.1 307.8 L797.7 307.8 L796.4 309.8 Z" fill="#222" stroke="#000" stroke-width="0.4"/>
<text x="800" y="351.84" font-size="9" text-anchor="middle" fill="#333" font-family="&quot;Liberation Sans&quot;, sans-serif" textLength="63" lengthAdjust="spacingAndGlyphs">USER IO PIN MAP</text>
<line x1="768.4" y1="353.8" x2="831.6" y2="353.8" stroke="#333" stroke-width="0.7"/>
</g><g>
<defs>
<radialGradient id="hd" cx="0.45" cy="0.4" r="0.65"><stop offset="0" stop-color="#e6f6fd"/><stop offset="0.55" stop-color="#a9ddf6"/><stop offset="1" stop-color="#56b6ea"/></radialGradient>
<linearGradient id="bd" x1="0" y1="0" x2="0" y2="1"><stop offset="0" stop-color="#7fcdf3"/><stop offset="1" stop-color="#b5e2f8"/></linearGradient>
</defs>
<g opacity="0.9">
<path d="M12.4 565.4 L20.4 556.6 L36 558.2 L27 566 Z" fill="#8d8d8d" stroke="#777" stroke-width="0.4"/>
<path d="M15.5 566 L27 566 L31 562.5 L31 566.5 C26 569,20 570,15.5 570 Z" fill="#a9a9a9"/>
<path d="M13.2 565.8 L12.4 581.5" stroke="#999" stroke-width="0.7" fill="none"/>
<path d="M28.5 590.5 C22 590,16 592.5,11.5 594.3 C9.8 595,10.2 597.8,12.4 598 C17 597.6,22 596.8,26.5 596.5 L25.2 605.5 C25 607.5,26.5 608.2,28.2 608.2 L31.8 608.2 L32.6 603 L33.6 608.2 L38.2 608.2 C40 608.2,41 607,40.6 605.5 L39.4 596 C44 597,49 597.3,53.5 596.8 C55.8 596.4,56 593.6,54 593 C49 591.5,43.5 590,37.5 590 Z" fill="url(#bd)" stroke="#62bdec" stroke-width="0.5"/>
<circle cx="30.3" cy="576.9" r="12.6" fill="url(#hd)" stroke="#4fb0e6" stroke-width="0.6"/>
<path d="M22.3 577.2 C27 580.2,36.5 579,41.4 574.4 C41.8 581,38 586.3,32.6 586.3 C27 586.3,23 582.5,22.3 577.2 Z" fill="#fbfaf0" stroke="#555" stroke-width="0.8"/>
<ellipse cx="21.6" cy="576.2" rx="2.5" ry="1.8" fill="#f7a8c4"/><ellipse cx="42" cy="573.6" rx="2.4" ry="1.8" fill="#f7a8c4"/>
<circle cx="27.2" cy="572.2" r="1.45" fill="#fff" stroke="#555" stroke-width="0.6"/><circle cx="36.6" cy="570.2" r="1.45" fill="#fff" stroke="#555" stroke-width="0.6"/>
<g fill="#eaf7fd">
<rect x="33.2" y="594.6" width="1.8" height="1.6"/>
<rect x="33.2" y="597.8" width="1.8" height="1.6"/>
<rect x="33.2" y="601" width="1.8" height="1.6"/>
<rect x="36.2" y="594.6" width="1.8" height="1.6"/>
<rect x="36.2" y="597.8" width="1.8" height="1.6"/>
<rect x="36.2" y="601" width="1.8" height="1.6"/>
</g></g>
<text x="58" y="590.6" font-size="21" font-weight="bold" letter-spacing="4.7" fill="#7f7f7f" fill-opacity="0.85" font-family="&quot;Liberation Serif&quot;, &quot;Noto Serif CJK SC&quot;, serif">工博士</text>
<text x="61.2" y="603.8" font-size="9" textLength="68" lengthAdjust="spacing" fill="#9a9a9a" fill-opacity="0.9" font-family="&quot;Liberation Sans&quot;, &quot;Noto Sans CJK SC&quot;, sans-serif">智能工厂服务商</text>
<text x="12.4" y="619.4" font-size="11" textLength="117.5" lengthAdjust="spacingAndGlyphs" fill="#7d7d7d" fill-opacity="0.85" font-family="&quot;Liberation Sans&quot;, sans-serif">www.gongboshi.com</text>
</g>
</svg></body></html>
